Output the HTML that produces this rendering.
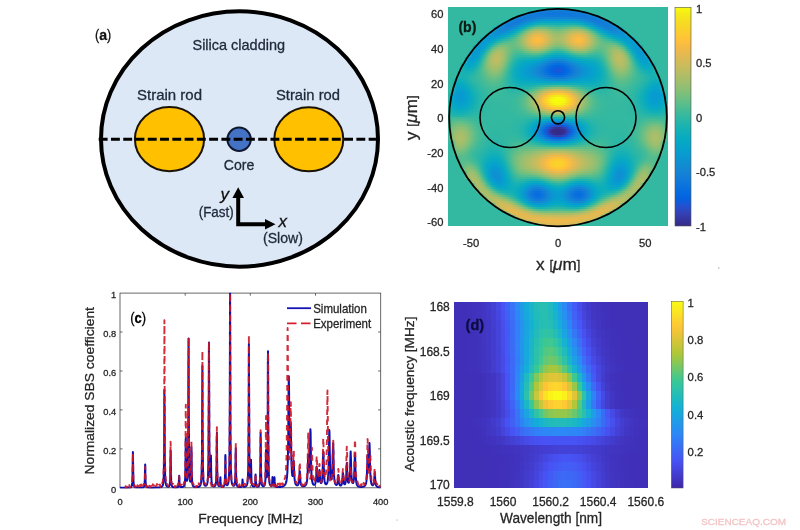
<!DOCTYPE html>
<html><head><meta charset="utf-8"><title>figure</title>
<style>
html,body{margin:0;padding:0;background:#fff}
body{width:800px;height:530px;position:relative;overflow:hidden;font-family:"Liberation Sans",sans-serif}
#hb{position:absolute;left:448.0px;top:7.3px;width:220.0px;height:219.1px;overflow:hidden;background:#33b8a1}
#hb i{position:absolute;left:0;width:100%;display:block}
#hd{position:absolute;left:454.0px;top:301.3px;width:194.0px;height:186.7px;overflow:hidden}
#ov{position:absolute;left:0;top:0;will-change:transform}
#ov text{font-family:"Liberation Sans",sans-serif}
</style></head><body>
<div id="hb">
<i style="top:0.0px;height:2.0px;background:linear-gradient(90deg,#33b8a1 0px,#33b8a1 4px,#33b8a1 8px,#33b8a1 12px,#33b8a1 16px,#33b8a1 20px,#33b8a1 24px,#33b8a1 28px,#33b8a1 32px,#33b8a1 36px,#33b8a1 40px,#33b8a1 44px,#33b8a1 48px,#33b8a1 52px,#33b8a1 56px,#33b8a1 60px,#33b8a1 64px,#33b8a1 68px,#33b8a1 72px,#33b8a1 76px,#33b8a1 80px,#33b8a1 84px,#33b8a1 88px,#33b8a1 92px,#33b8a1 96px,#33b8a1 100px,#33b8a1 104px,#33b8a1 108px,#33b8a1 112px,#33b8a1 116px,#33b8a1 120px,#33b8a1 124px,#33b8a1 128px,#33b8a1 132px,#33b8a1 136px,#33b8a1 140px,#33b8a1 144px,#33b8a1 148px,#33b8a1 152px,#33b8a1 156px,#33b8a1 160px,#33b8a1 164px,#33b8a1 168px,#33b8a1 172px,#33b8a1 176px,#33b8a1 180px,#33b8a1 184px,#33b8a1 188px,#33b8a1 192px,#33b8a1 196px,#33b8a1 200px,#33b8a1 204px,#33b8a1 208px,#33b8a1 212px,#33b8a1 216px,#33b8a1 220px)"></i>
<i style="top:2.0px;height:2.0px;background:linear-gradient(90deg,#33b8a1 0px,#33b8a1 4px,#33b8a1 8px,#33b8a1 12px,#33b8a1 16px,#33b8a1 20px,#33b8a1 24px,#33b8a1 28px,#33b8a1 32px,#33b8a1 36px,#33b8a1 40px,#33b8a1 44px,#33b8a1 48px,#33b8a1 52px,#33b8a1 56px,#33b8a1 60px,#33b8a1 64px,#33b8a1 68px,#33b8a1 72px,#33b8a1 76px,#33b8a1 80px,#33b8a1 84px,#33b8a1 88px,#33b8a1 92px,#1485d4 96px,#1482d5 100px,#1480d6 104px,#1480d6 108px,#1480d6 112px,#1480d6 116px,#1482d5 120px,#1485d4 124px,#33b8a1 128px,#33b8a1 132px,#33b8a1 136px,#33b8a1 140px,#33b8a1 144px,#33b8a1 148px,#33b8a1 152px,#33b8a1 156px,#33b8a1 160px,#33b8a1 164px,#33b8a1 168px,#33b8a1 172px,#33b8a1 176px,#33b8a1 180px,#33b8a1 184px,#33b8a1 188px,#33b8a1 192px,#33b8a1 196px,#33b8a1 200px,#33b8a1 204px,#33b8a1 208px,#33b8a1 212px,#33b8a1 216px,#33b8a1 220px)"></i>
<i style="top:4.0px;height:2.0px;background:linear-gradient(90deg,#33b8a1 0px,#33b8a1 4px,#33b8a1 8px,#33b8a1 12px,#33b8a1 16px,#33b8a1 20px,#33b8a1 24px,#33b8a1 28px,#33b8a1 32px,#33b8a1 36px,#33b8a1 40px,#33b8a1 44px,#33b8a1 48px,#33b8a1 52px,#33b8a1 56px,#33b8a1 60px,#33b8a1 64px,#33b8a1 68px,#33b8a1 72px,#33b8a1 76px,#33b8a1 80px,#1388d3 84px,#1482d5 88px,#137ed7 92px,#127cd8 96px,#117ada 100px,#1079da 104px,#0f78db 108px,#0f78db 112px,#1079da 116px,#117ada 120px,#127cd8 124px,#137ed7 128px,#1482d5 132px,#1388d3 136px,#33b8a1 140px,#33b8a1 144px,#33b8a1 148px,#33b8a1 152px,#33b8a1 156px,#33b8a1 160px,#33b8a1 164px,#33b8a1 168px,#33b8a1 172px,#33b8a1 176px,#33b8a1 180px,#33b8a1 184px,#33b8a1 188px,#33b8a1 192px,#33b8a1 196px,#33b8a1 200px,#33b8a1 204px,#33b8a1 208px,#33b8a1 212px,#33b8a1 216px,#33b8a1 220px)"></i>
<i style="top:6.0px;height:2.0px;background:linear-gradient(90deg,#33b8a1 0px,#33b8a1 4px,#33b8a1 8px,#33b8a1 12px,#33b8a1 16px,#33b8a1 20px,#33b8a1 24px,#33b8a1 28px,#33b8a1 32px,#33b8a1 36px,#33b8a1 40px,#33b8a1 44px,#33b8a1 48px,#33b8a1 52px,#33b8a1 56px,#33b8a1 60px,#33b8a1 64px,#33b8a1 68px,#33b8a1 72px,#33b8a1 76px,#1483d5 80px,#137ed7 84px,#117bd9 88px,#1079da 92px,#0f78db 96px,#0e77db 100px,#0e76dc 104px,#0e76dc 108px,#0e76dc 112px,#0e76dc 116px,#0e77db 120px,#0f78db 124px,#1079da 128px,#117bd9 132px,#137ed7 136px,#1483d5 140px,#33b8a1 144px,#33b8a1 148px,#33b8a1 152px,#33b8a1 156px,#33b8a1 160px,#33b8a1 164px,#33b8a1 168px,#33b8a1 172px,#33b8a1 176px,#33b8a1 180px,#33b8a1 184px,#33b8a1 188px,#33b8a1 192px,#33b8a1 196px,#33b8a1 200px,#33b8a1 204px,#33b8a1 208px,#33b8a1 212px,#33b8a1 216px,#33b8a1 220px)"></i>
<i style="top:8.0px;height:2.0px;background:linear-gradient(90deg,#33b8a1 0px,#33b8a1 4px,#33b8a1 8px,#33b8a1 12px,#33b8a1 16px,#33b8a1 20px,#33b8a1 24px,#33b8a1 28px,#33b8a1 32px,#33b8a1 36px,#33b8a1 40px,#33b8a1 44px,#33b8a1 48px,#33b8a1 52px,#33b8a1 56px,#33b8a1 60px,#33b8a1 64px,#33b8a1 68px,#1487d3 72px,#1480d6 76px,#127cd8 80px,#117ad9 84px,#117ada 88px,#117ada 92px,#117ad9 96px,#117ad9 100px,#117bd9 104px,#117bd9 108px,#117bd9 112px,#117bd9 116px,#117ad9 120px,#117ad9 124px,#117ada 128px,#117ada 132px,#117ad9 136px,#127cd8 140px,#1480d6 144px,#1487d3 148px,#33b8a1 152px,#33b8a1 156px,#33b8a1 160px,#33b8a1 164px,#33b8a1 168px,#33b8a1 172px,#33b8a1 176px,#33b8a1 180px,#33b8a1 184px,#33b8a1 188px,#33b8a1 192px,#33b8a1 196px,#33b8a1 200px,#33b8a1 204px,#33b8a1 208px,#33b8a1 212px,#33b8a1 216px,#33b8a1 220px)"></i>
<i style="top:10.0px;height:2.0px;background:linear-gradient(90deg,#33b8a1 0px,#33b8a1 4px,#33b8a1 8px,#33b8a1 12px,#33b8a1 16px,#33b8a1 20px,#33b8a1 24px,#33b8a1 28px,#33b8a1 32px,#33b8a1 36px,#33b8a1 40px,#33b8a1 44px,#33b8a1 48px,#33b8a1 52px,#33b8a1 56px,#33b8a1 60px,#33b8a1 64px,#1485d4 68px,#137ed7 72px,#117bd9 76px,#117bd9 80px,#127cd8 84px,#137fd7 88px,#1481d5 92px,#1483d5 96px,#1484d4 100px,#1485d4 104px,#1485d4 108px,#1485d4 112px,#1485d4 116px,#1484d4 120px,#1483d5 124px,#1481d5 128px,#137fd7 132px,#127cd8 136px,#117bd9 140px,#117bd9 144px,#137ed7 148px,#1485d4 152px,#33b8a1 156px,#33b8a1 160px,#33b8a1 164px,#33b8a1 168px,#33b8a1 172px,#33b8a1 176px,#33b8a1 180px,#33b8a1 184px,#33b8a1 188px,#33b8a1 192px,#33b8a1 196px,#33b8a1 200px,#33b8a1 204px,#33b8a1 208px,#33b8a1 212px,#33b8a1 216px,#33b8a1 220px)"></i>
<i style="top:12.0px;height:2.0px;background:linear-gradient(90deg,#33b8a1 0px,#33b8a1 4px,#33b8a1 8px,#33b8a1 12px,#33b8a1 16px,#33b8a1 20px,#33b8a1 24px,#33b8a1 28px,#33b8a1 32px,#33b8a1 36px,#33b8a1 40px,#33b8a1 44px,#33b8a1 48px,#33b8a1 52px,#33b8a1 56px,#33b8a1 60px,#1484d4 64px,#137dd8 68px,#117ad9 72px,#127cd8 76px,#1480d6 80px,#1485d4 84px,#128cd2 88px,#0e91d2 92px,#0b95d2 96px,#0a96d1 100px,#0a97d1 104px,#0a97d1 108px,#0a97d1 112px,#0a97d1 116px,#0a96d1 120px,#0b95d2 124px,#0e91d2 128px,#128cd2 132px,#1485d4 136px,#1480d6 140px,#127cd8 144px,#117ad9 148px,#137dd8 152px,#1484d4 156px,#33b8a1 160px,#33b8a1 164px,#33b8a1 168px,#33b8a1 172px,#33b8a1 176px,#33b8a1 180px,#33b8a1 184px,#33b8a1 188px,#33b8a1 192px,#33b8a1 196px,#33b8a1 200px,#33b8a1 204px,#33b8a1 208px,#33b8a1 212px,#33b8a1 216px,#33b8a1 220px)"></i>
<i style="top:14.0px;height:2.0px;background:linear-gradient(90deg,#33b8a1 0px,#33b8a1 4px,#33b8a1 8px,#33b8a1 12px,#33b8a1 16px,#33b8a1 20px,#33b8a1 24px,#33b8a1 28px,#33b8a1 32px,#33b8a1 36px,#33b8a1 40px,#33b8a1 44px,#33b8a1 48px,#33b8a1 52px,#33b8a1 56px,#1486d4 60px,#137dd7 64px,#117ad9 68px,#127cd8 72px,#1483d5 76px,#118cd2 80px,#0998d1 84px,#06a0cd 88px,#06a4c9 92px,#06a6c7 96px,#06a6c6 100px,#06a6c7 104px,#06a6c7 108px,#06a6c7 112px,#06a6c7 116px,#06a6c6 120px,#06a6c7 124px,#06a4c9 128px,#06a0cd 132px,#0998d1 136px,#118cd2 140px,#1483d5 144px,#127cd8 148px,#117ad9 152px,#137dd7 156px,#1486d4 160px,#33b8a1 164px,#33b8a1 168px,#33b8a1 172px,#33b8a1 176px,#33b8a1 180px,#33b8a1 184px,#33b8a1 188px,#33b8a1 192px,#33b8a1 196px,#33b8a1 200px,#33b8a1 204px,#33b8a1 208px,#33b8a1 212px,#33b8a1 216px,#33b8a1 220px)"></i>
<i style="top:16.0px;height:2.0px;background:linear-gradient(90deg,#33b8a1 0px,#33b8a1 4px,#33b8a1 8px,#33b8a1 12px,#33b8a1 16px,#33b8a1 20px,#33b8a1 24px,#33b8a1 28px,#33b8a1 32px,#33b8a1 36px,#33b8a1 40px,#33b8a1 44px,#33b8a1 48px,#33b8a1 52px,#138ad3 56px,#137fd7 60px,#127bd9 64px,#137dd8 68px,#1484d4 72px,#0e91d2 76px,#069fce 80px,#06a8c4 84px,#0eaeba 88px,#16b1b4 92px,#19b2b2 96px,#18b1b2 100px,#16b1b4 104px,#14b0b5 108px,#14b0b5 112px,#16b1b4 116px,#18b1b2 120px,#19b2b2 124px,#16b1b4 128px,#0eaeba 132px,#06a8c4 136px,#069fce 140px,#0e91d2 144px,#1484d4 148px,#137dd8 152px,#127bd9 156px,#137fd7 160px,#138ad3 164px,#33b8a1 168px,#33b8a1 172px,#33b8a1 176px,#33b8a1 180px,#33b8a1 184px,#33b8a1 188px,#33b8a1 192px,#33b8a1 196px,#33b8a1 200px,#33b8a1 204px,#33b8a1 208px,#33b8a1 212px,#33b8a1 216px,#33b8a1 220px)"></i>
<i style="top:18.0px;height:2.0px;background:linear-gradient(90deg,#33b8a1 0px,#33b8a1 4px,#33b8a1 8px,#33b8a1 12px,#33b8a1 16px,#33b8a1 20px,#33b8a1 24px,#33b8a1 28px,#33b8a1 32px,#33b8a1 36px,#33b8a1 40px,#33b8a1 44px,#33b8a1 48px,#0f90d2 52px,#1483d5 56px,#137dd8 60px,#137ed7 64px,#1485d4 68px,#0c94d2 72px,#06a3cb 76px,#0cadbb 80px,#23b4ab 84px,#37b99e 88px,#43bb97 92px,#43bb97 96px,#3dba9b 100px,#36b99f 104px,#31b8a2 108px,#31b8a2 112px,#36b99f 116px,#3dba9b 120px,#43bb97 124px,#43bb97 128px,#37b99e 132px,#23b4ab 136px,#0cadbb 140px,#06a3cb 144px,#0c94d2 148px,#1485d4 152px,#137ed7 156px,#137dd8 160px,#1483d5 164px,#0f90d2 168px,#33b8a1 172px,#33b8a1 176px,#33b8a1 180px,#33b8a1 184px,#33b8a1 188px,#33b8a1 192px,#33b8a1 196px,#33b8a1 200px,#33b8a1 204px,#33b8a1 208px,#33b8a1 212px,#33b8a1 216px,#33b8a1 220px)"></i>
<i style="top:20.0px;height:2.0px;background:linear-gradient(90deg,#33b8a1 0px,#33b8a1 4px,#33b8a1 8px,#33b8a1 12px,#33b8a1 16px,#33b8a1 20px,#33b8a1 24px,#33b8a1 28px,#33b8a1 32px,#33b8a1 36px,#33b8a1 40px,#33b8a1 44px,#0998d1 48px,#1389d3 52px,#1481d6 56px,#1480d6 60px,#1486d4 64px,#0c94d2 68px,#06a4ca 72px,#11afb8 76px,#31b8a2 80px,#56bd8d 84px,#70bf81 88px,#79bf7d 92px,#75bf7f 96px,#68be84 100px,#5abd8b 104px,#52bd8f 108px,#52bd8f 112px,#5abd8b 116px,#68be84 120px,#75bf7f 124px,#79bf7d 128px,#70bf81 132px,#56bd8d 136px,#31b8a2 140px,#11afb8 144px,#06a4ca 148px,#0c94d2 152px,#1486d4 156px,#1480d6 160px,#1481d6 164px,#1389d3 168px,#0998d1 172px,#33b8a1 176px,#33b8a1 180px,#33b8a1 184px,#33b8a1 188px,#33b8a1 192px,#33b8a1 196px,#33b8a1 200px,#33b8a1 204px,#33b8a1 208px,#33b8a1 212px,#33b8a1 216px,#33b8a1 220px)"></i>
<i style="top:22.0px;height:2.0px;background:linear-gradient(90deg,#33b8a1 0px,#33b8a1 4px,#33b8a1 8px,#33b8a1 12px,#33b8a1 16px,#33b8a1 20px,#33b8a1 24px,#33b8a1 28px,#33b8a1 32px,#33b8a1 36px,#33b8a1 40px,#33b8a1 44px,#0e91d2 48px,#1486d3 52px,#1484d4 56px,#1388d3 60px,#0b95d2 64px,#06a3ca 68px,#10afb8 72px,#34b8a0 76px,#64be86 80px,#8bbf75 84px,#a0be6d 88px,#a5be6b 92px,#9cbf6e 96px,#8cbf75 100px,#7bbf7c 104px,#70bf81 108px,#70bf81 112px,#7bbf7c 116px,#8cbf75 120px,#9cbf6e 124px,#a5be6b 128px,#a0be6d 132px,#8bbf75 136px,#64be86 140px,#34b8a0 144px,#10afb8 148px,#06a3ca 152px,#0b95d2 156px,#1388d3 160px,#1484d4 164px,#1486d3 168px,#0e91d2 172px,#33b8a1 176px,#33b8a1 180px,#33b8a1 184px,#33b8a1 188px,#33b8a1 192px,#33b8a1 196px,#33b8a1 200px,#33b8a1 204px,#33b8a1 208px,#33b8a1 212px,#33b8a1 216px,#33b8a1 220px)"></i>
<i style="top:24.0px;height:2.0px;background:linear-gradient(90deg,#33b8a1 0px,#33b8a1 4px,#33b8a1 8px,#33b8a1 12px,#33b8a1 16px,#33b8a1 20px,#33b8a1 24px,#33b8a1 28px,#33b8a1 32px,#33b8a1 36px,#33b8a1 40px,#0899d1 44px,#118dd2 48px,#1389d3 52px,#128cd2 56px,#0a96d1 60px,#06a3cb 64px,#0dadbb 68px,#2db7a4 72px,#5fbe88 76px,#90bf73 80px,#b2bd66 84px,#c3bc5f 88px,#c5bc5e 92px,#babd63 96px,#a7be6a 100px,#94bf72 104px,#87bf77 108px,#87bf77 112px,#94bf72 116px,#a7be6a 120px,#babd63 124px,#c5bc5e 128px,#c3bc5f 132px,#b2bd66 136px,#90bf73 140px,#5fbe88 144px,#2db7a4 148px,#0dadbb 152px,#06a3cb 156px,#0a96d1 160px,#128cd2 164px,#1389d3 168px,#118dd2 172px,#0899d1 176px,#33b8a1 180px,#33b8a1 184px,#33b8a1 188px,#33b8a1 192px,#33b8a1 196px,#33b8a1 200px,#33b8a1 204px,#33b8a1 208px,#33b8a1 212px,#33b8a1 216px,#33b8a1 220px)"></i>
<i style="top:26.0px;height:2.0px;background:linear-gradient(90deg,#33b8a1 0px,#33b8a1 4px,#33b8a1 8px,#33b8a1 12px,#33b8a1 16px,#33b8a1 20px,#33b8a1 24px,#33b8a1 28px,#33b8a1 32px,#33b8a1 36px,#33b8a1 40px,#0b95d2 44px,#108fd2 48px,#0e91d2 52px,#089ad1 56px,#06a4ca 60px,#0bacbd 64px,#25b5aa 68px,#4fbc91 72px,#84bf78 76px,#afbe67 80px,#cdbb5b 84px,#ddba54 88px,#deba54 92px,#d0bb59 96px,#bbbd62 100px,#a5be6b 104px,#98bf70 108px,#98bf70 112px,#a5be6b 116px,#bbbd62 120px,#d0bb59 124px,#deba54 128px,#ddba54 132px,#cdbb5b 136px,#afbe67 140px,#84bf78 144px,#4fbc91 148px,#25b5aa 152px,#0bacbd 156px,#06a4ca 160px,#089ad1 164px,#0e91d2 168px,#108fd2 172px,#0b95d2 176px,#33b8a1 180px,#33b8a1 184px,#33b8a1 188px,#33b8a1 192px,#33b8a1 196px,#33b8a1 200px,#33b8a1 204px,#33b8a1 208px,#33b8a1 212px,#33b8a1 216px,#33b8a1 220px)"></i>
<i style="top:28.0px;height:2.0px;background:linear-gradient(90deg,#33b8a1 0px,#33b8a1 4px,#33b8a1 8px,#33b8a1 12px,#33b8a1 16px,#33b8a1 20px,#33b8a1 24px,#33b8a1 28px,#33b8a1 32px,#33b8a1 36px,#079bd0 40px,#0b95d2 44px,#0a96d1 48px,#079dcf 52px,#06a6c7 56px,#0cadbc 60px,#20b4ad 64px,#3fba99 68px,#6cbf82 72px,#9bbf6f 76px,#c3bc5f 80px,#e1b952 84px,#f0b94a 88px,#efb94b 92px,#e0ba53 96px,#c8bc5d 100px,#b1bd66 104px,#a2be6c 108px,#a2be6c 112px,#b1bd66 116px,#c8bc5d 120px,#e0ba53 124px,#efb94b 128px,#f0b94a 132px,#e1b952 136px,#c3bc5f 140px,#9bbf6f 144px,#6cbf82 148px,#3fba99 152px,#20b4ad 156px,#0cadbc 160px,#06a6c7 164px,#079dcf 168px,#0a96d1 172px,#0b95d2 176px,#079bd0 180px,#33b8a1 184px,#33b8a1 188px,#33b8a1 192px,#33b8a1 196px,#33b8a1 200px,#33b8a1 204px,#33b8a1 208px,#33b8a1 212px,#33b8a1 216px,#33b8a1 220px)"></i>
<i style="top:30.0px;height:2.0px;background:linear-gradient(90deg,#33b8a1 0px,#33b8a1 4px,#33b8a1 8px,#33b8a1 12px,#33b8a1 16px,#33b8a1 20px,#33b8a1 24px,#33b8a1 28px,#33b8a1 32px,#06a0cd 36px,#0999d1 40px,#0899d1 44px,#06a0cd 48px,#06a8c4 52px,#10afb8 56px,#22b4ac 60px,#37b99e 64px,#56bd8d 68px,#7fbf7a 72px,#a9be69 76px,#cfbb5a 80px,#edb94c 84px,#fabc41 88px,#f9bb43 92px,#e9b94e 96px,#d0bb5a 100px,#b7bd64 104px,#a8be6a 108px,#a8be6a 112px,#b7bd64 116px,#d0bb5a 120px,#e9b94e 124px,#f9bb43 128px,#fabc41 132px,#edb94c 136px,#cfbb5a 140px,#a9be69 144px,#7fbf7a 148px,#56bd8d 152px,#37b99e 156px,#22b4ac 160px,#10afb8 164px,#06a8c4 168px,#06a0cd 172px,#0899d1 176px,#0999d1 180px,#06a0cd 184px,#33b8a1 188px,#33b8a1 192px,#33b8a1 196px,#33b8a1 200px,#33b8a1 204px,#33b8a1 208px,#33b8a1 212px,#33b8a1 216px,#33b8a1 220px)"></i>
<i style="top:32.0px;height:2.0px;background:linear-gradient(90deg,#33b8a1 0px,#33b8a1 4px,#33b8a1 8px,#33b8a1 12px,#33b8a1 16px,#33b8a1 20px,#33b8a1 24px,#33b8a1 28px,#33b8a1 32px,#079cd0 36px,#089ad1 40px,#06a0cd 44px,#07a9c2 48px,#16b1b4 52px,#2ab6a7 56px,#3bb99c 60px,#4cbc92 64px,#65be85 68px,#88bf76 72px,#afbe67 76px,#d4bb58 80px,#f1b94a 84px,#fdbe3e 88px,#fbbd40 92px,#ecb94d 96px,#d1bb59 100px,#b8bd63 104px,#a7be6a 108px,#a7be6a 112px,#b8bd63 116px,#d1bb59 120px,#ecb94d 124px,#fbbd40 128px,#fdbe3e 132px,#f1b94a 136px,#d4bb58 140px,#afbe67 144px,#88bf76 148px,#65be85 152px,#4cbc92 156px,#3bb99c 160px,#2ab6a7 164px,#16b1b4 168px,#07a9c2 172px,#06a0cd 176px,#089ad1 180px,#079cd0 184px,#33b8a1 188px,#33b8a1 192px,#33b8a1 196px,#33b8a1 200px,#33b8a1 204px,#33b8a1 208px,#33b8a1 212px,#33b8a1 216px,#33b8a1 220px)"></i>
<i style="top:34.0px;height:2.0px;background:linear-gradient(90deg,#33b8a1 0px,#33b8a1 4px,#33b8a1 8px,#33b8a1 12px,#33b8a1 16px,#33b8a1 20px,#33b8a1 24px,#33b8a1 28px,#069fce 32px,#089ad1 36px,#079ecf 40px,#06a8c4 44px,#18b1b2 48px,#33b8a0 52px,#47bb95 56px,#52bd8f 60px,#5bbe8a 64px,#6dbf82 68px,#8abf76 72px,#aebe67 76px,#d2bb59 80px,#eeb94c 84px,#fabc41 88px,#f8bb44 92px,#e7b94f 96px,#ccbb5b 100px,#b2bd66 104px,#a1be6c 108px,#a1be6c 112px,#b2bd66 116px,#ccbb5b 120px,#e7b94f 124px,#f8bb44 128px,#fabc41 132px,#eeb94c 136px,#d2bb59 140px,#aebe67 144px,#8abf76 148px,#6dbf82 152px,#5bbe8a 156px,#52bd8f 160px,#47bb95 164px,#33b8a0 168px,#18b1b2 172px,#06a8c4 176px,#079ecf 180px,#089ad1 184px,#069fce 188px,#33b8a1 192px,#33b8a1 196px,#33b8a1 200px,#33b8a1 204px,#33b8a1 208px,#33b8a1 212px,#33b8a1 216px,#33b8a1 220px)"></i>
<i style="top:36.0px;height:2.0px;background:linear-gradient(90deg,#33b8a1 0px,#33b8a1 4px,#33b8a1 8px,#33b8a1 12px,#33b8a1 16px,#33b8a1 20px,#33b8a1 24px,#33b8a1 28px,#079bd0 32px,#089ad0 36px,#06a4ca 40px,#12afb7 44px,#36b99f 48px,#57bd8d 52px,#64be86 56px,#65be86 60px,#64be86 64px,#6ebf81 68px,#86bf77 72px,#a7be6a 76px,#c9bc5d 80px,#e3b951 84px,#f0b94a 88px,#edb94c 92px,#dbba55 96px,#c0bc60 100px,#a5be6b 104px,#94bf72 108px,#94bf72 112px,#a5be6b 116px,#c0bc60 120px,#dbba55 124px,#edb94c 128px,#f0b94a 132px,#e3b951 136px,#c9bc5d 140px,#a7be6a 144px,#86bf77 148px,#6ebf81 152px,#64be86 156px,#65be86 160px,#64be86 164px,#57bd8d 168px,#36b99f 172px,#12afb7 176px,#06a4ca 180px,#089ad0 184px,#079bd0 188px,#33b8a1 192px,#33b8a1 196px,#33b8a1 200px,#33b8a1 204px,#33b8a1 208px,#33b8a1 212px,#33b8a1 216px,#33b8a1 220px)"></i>
<i style="top:38.0px;height:2.0px;background:linear-gradient(90deg,#33b8a1 0px,#33b8a1 4px,#33b8a1 8px,#33b8a1 12px,#33b8a1 16px,#33b8a1 20px,#33b8a1 24px,#069fce 28px,#0998d1 32px,#079ecf 36px,#08aac1 40px,#2bb6a6 44px,#5bbd8a 48px,#78bf7d 52px,#7bbf7c 56px,#71bf80 60px,#68be84 64px,#6abe83 68px,#7dbf7b 72px,#9bbf6f 76px,#babd62 80px,#d3bb58 84px,#deba53 88px,#daba55 92px,#c8bc5d 96px,#adbe68 100px,#92bf72 104px,#80bf7a 108px,#80bf7a 112px,#92bf72 116px,#adbe68 120px,#c8bc5d 124px,#daba55 128px,#deba53 132px,#d3bb58 136px,#babd62 140px,#9bbf6f 144px,#7dbf7b 148px,#6abe83 152px,#68be84 156px,#71bf80 160px,#7bbf7c 164px,#78bf7d 168px,#5bbd8a 172px,#2bb6a6 176px,#08aac1 180px,#079ecf 184px,#0998d1 188px,#069fce 192px,#33b8a1 196px,#33b8a1 200px,#33b8a1 204px,#33b8a1 208px,#33b8a1 212px,#33b8a1 216px,#33b8a1 220px)"></i>
<i style="top:40.0px;height:2.0px;background:linear-gradient(90deg,#33b8a1 0px,#33b8a1 4px,#33b8a1 8px,#33b8a1 12px,#33b8a1 16px,#33b8a1 20px,#33b8a1 24px,#079bd0 28px,#0998d1 32px,#06a2cb 36px,#15b0b4 40px,#4bbc93 44px,#7ebf7b 48px,#90bf73 52px,#8abf75 56px,#78bf7d 60px,#67be85 64px,#63be87 68px,#70bf81 72px,#8abf76 76px,#a6be6a 80px,#bcbd62 84px,#c6bc5e 88px,#c1bc60 92px,#afbe67 96px,#93bf72 100px,#77bf7e 104px,#65be86 108px,#65be86 112px,#77bf7e 116px,#93bf72 120px,#afbe67 124px,#c1bc60 128px,#c6bc5e 132px,#bcbd62 136px,#a6be6a 140px,#8abf76 144px,#70bf81 148px,#63be87 152px,#67be85 156px,#78bf7d 160px,#8abf75 164px,#90bf73 168px,#7ebf7b 172px,#4bbc93 176px,#15b0b4 180px,#06a2cb 184px,#0998d1 188px,#079bd0 192px,#33b8a1 196px,#33b8a1 200px,#33b8a1 204px,#33b8a1 208px,#33b8a1 212px,#33b8a1 216px,#33b8a1 220px)"></i>
<i style="top:42.0px;height:2.0px;background:linear-gradient(90deg,#33b8a1 0px,#33b8a1 4px,#33b8a1 8px,#33b8a1 12px,#33b8a1 16px,#33b8a1 20px,#33b8a1 24px,#0998d1 28px,#089ad0 32px,#06a8c4 36px,#2ab6a6 40px,#6dbf82 44px,#98bf70 48px,#a2be6c 52px,#95bf71 56px,#7cbf7c 60px,#63be86 64px,#59bd8c 68px,#5fbe88 72px,#74bf7f 76px,#8dbf74 80px,#a0be6d 84px,#a8be6a 88px,#a2be6c 92px,#8ebf74 96px,#71bf80 100px,#54bd8e 104px,#44bb97 108px,#44bb97 112px,#54bd8e 116px,#71bf80 120px,#8ebf74 124px,#a2be6c 128px,#a8be6a 132px,#a0be6d 136px,#8dbf74 140px,#74bf7f 144px,#5fbe88 148px,#59bd8c 152px,#63be86 156px,#7cbf7c 160px,#95bf71 164px,#a2be6c 168px,#98bf70 172px,#6dbf82 176px,#2ab6a6 180px,#06a8c4 184px,#089ad0 188px,#0998d1 192px,#33b8a1 196px,#33b8a1 200px,#33b8a1 204px,#33b8a1 208px,#33b8a1 212px,#33b8a1 216px,#33b8a1 220px)"></i>
<i style="top:44.0px;height:2.0px;background:linear-gradient(90deg,#33b8a1 0px,#33b8a1 4px,#33b8a1 8px,#33b8a1 12px,#33b8a1 16px,#33b8a1 20px,#079ecf 24px,#0a97d1 28px,#079ecf 32px,#0cadbc 36px,#44bb97 40px,#88bf76 44px,#aabe69 48px,#adbe68 52px,#9bbf6f 56px,#7cbf7b 60px,#5ebe89 64px,#4dbc92 68px,#4dbc91 72px,#5bbd8b 76px,#6fbf81 80px,#7fbf7a 84px,#84bf78 88px,#7cbf7c 92px,#65be86 96px,#49bb94 100px,#32b8a1 104px,#26b5a9 108px,#26b5a9 112px,#32b8a1 116px,#49bb94 120px,#65be86 124px,#7cbf7c 128px,#84bf78 132px,#7fbf7a 136px,#6fbf81 140px,#5bbd8b 144px,#4dbc91 148px,#4dbc92 152px,#5ebe89 156px,#7cbf7b 160px,#9bbf6f 164px,#adbe68 168px,#aabe69 172px,#88bf76 176px,#44bb97 180px,#0cadbc 184px,#079ecf 188px,#0a97d1 192px,#079ecf 196px,#33b8a1 200px,#33b8a1 204px,#33b8a1 208px,#33b8a1 212px,#33b8a1 216px,#33b8a1 220px)"></i>
<i style="top:46.0px;height:2.0px;background:linear-gradient(90deg,#33b8a1 0px,#33b8a1 4px,#33b8a1 8px,#33b8a1 12px,#33b8a1 16px,#33b8a1 20px,#079bd0 24px,#0997d1 28px,#06a3cb 32px,#19b2b1 36px,#5ebe89 40px,#9cbf6e 44px,#b6bd64 48px,#b4bd65 52px,#9ebe6e 56px,#7abf7c 60px,#56bd8d 64px,#41ba98 68px,#3cba9b 72px,#42bb98 76px,#4ebc91 80px,#58bd8c 84px,#5abd8b 88px,#4fbc91 92px,#3bb99c 96px,#25b5a9 100px,#15b1b4 104px,#0eaeba 108px,#0eaeba 112px,#15b1b4 116px,#25b5a9 120px,#3bb99c 124px,#4fbc91 128px,#5abd8b 132px,#58bd8c 136px,#4ebc91 140px,#42bb98 144px,#3cba9b 148px,#41ba98 152px,#56bd8d 156px,#7abf7c 160px,#9ebe6e 164px,#b4bd65 168px,#b6bd64 172px,#9cbf6e 176px,#5ebe89 180px,#19b2b1 184px,#06a3cb 188px,#0997d1 192px,#079bd0 196px,#33b8a1 200px,#33b8a1 204px,#33b8a1 208px,#33b8a1 212px,#33b8a1 216px,#33b8a1 220px)"></i>
<i style="top:48.0px;height:2.0px;background:linear-gradient(90deg,#33b8a1 0px,#33b8a1 4px,#33b8a1 8px,#33b8a1 12px,#33b8a1 16px,#33b8a1 20px,#089ad1 24px,#089ad0 28px,#06a7c5 32px,#29b6a7 36px,#73bf7f 40px,#a9be69 44px,#bebc61 48px,#b8bd63 52px,#9ebe6e 56px,#76bf7e 60px,#4ebc91 64px,#36b99f 68px,#2db7a5 72px,#2db7a4 76px,#32b8a1 80px,#35b89f 84px,#33b8a1 88px,#29b6a7 92px,#1ab2b1 96px,#0cadbc 100px,#06a8c4 104px,#06a5c8 108px,#06a5c8 112px,#06a8c4 116px,#0cadbc 120px,#1ab2b1 124px,#29b6a7 128px,#33b8a1 132px,#35b89f 136px,#32b8a1 140px,#2db7a4 144px,#2db7a5 148px,#36b99f 152px,#4ebc91 156px,#76bf7e 160px,#9ebe6e 164px,#b8bd63 168px,#bebc61 172px,#a9be69 176px,#73bf7f 180px,#29b6a7 184px,#06a7c5 188px,#089ad0 192px,#089ad1 196px,#33b8a1 200px,#33b8a1 204px,#33b8a1 208px,#33b8a1 212px,#33b8a1 216px,#33b8a1 220px)"></i>
<i style="top:50.0px;height:2.0px;background:linear-gradient(90deg,#33b8a1 0px,#33b8a1 4px,#33b8a1 8px,#33b8a1 12px,#33b8a1 16px,#06a2cb 20px,#089ad0 24px,#069ece 28px,#09abbe 32px,#3ab99d 36px,#83bf79 40px,#b0bd66 44px,#c1bc60 48px,#b8bd63 52px,#9bbf6f 56px,#70bf81 60px,#45bb96 64px,#2bb6a6 68px,#20b4ad 72px,#1cb3af 76px,#1cb3af 80px,#1bb2b0 84px,#17b1b3 88px,#0faeb9 92px,#07a9c2 96px,#06a3ca 100px,#079dcf 104px,#0998d1 108px,#0998d1 112px,#079dcf 116px,#06a3ca 120px,#07a9c2 124px,#0faeb9 128px,#17b1b3 132px,#1bb2b0 136px,#1cb3af 140px,#1cb3af 144px,#20b4ad 148px,#2bb6a6 152px,#45bb96 156px,#70bf81 160px,#9bbf6f 164px,#b8bd63 168px,#c1bc60 172px,#b0bd66 176px,#83bf79 180px,#3ab99d 184px,#09abbe 188px,#069ece 192px,#089ad0 196px,#06a2cb 200px,#33b8a1 204px,#33b8a1 208px,#33b8a1 212px,#33b8a1 216px,#33b8a1 220px)"></i>
<i style="top:52.0px;height:2.0px;background:linear-gradient(90deg,#33b8a1 0px,#33b8a1 4px,#33b8a1 8px,#33b8a1 12px,#33b8a1 16px,#06a2cb 20px,#079cd0 24px,#06a3cb 28px,#12afb7 32px,#48bb94 36px,#8cbf75 40px,#b3bd65 44px,#c1bc60 48px,#b6bd64 52px,#97bf70 56px,#69be84 60px,#3cba9b 64px,#22b4ac 68px,#15b0b5 72px,#0faeb9 76px,#0dadbb 80px,#0aacbd 84px,#07aac1 88px,#06a6c7 92px,#069fce 96px,#0b96d1 100px,#118cd2 104px,#1487d3 108px,#1487d3 112px,#118cd2 116px,#0b96d1 120px,#069fce 124px,#06a6c7 128px,#07aac1 132px,#0aacbd 136px,#0dadbb 140px,#0faeb9 144px,#15b0b5 148px,#22b4ac 152px,#3cba9b 156px,#69be84 160px,#97bf70 164px,#b6bd64 168px,#c1bc60 172px,#b3bd65 176px,#8cbf75 180px,#48bb94 184px,#12afb7 188px,#06a3cb 192px,#079cd0 196px,#06a2cb 200px,#33b8a1 204px,#33b8a1 208px,#33b8a1 212px,#33b8a1 216px,#33b8a1 220px)"></i>
<i style="top:54.0px;height:2.0px;background:linear-gradient(90deg,#33b8a1 0px,#33b8a1 4px,#33b8a1 8px,#33b8a1 12px,#33b8a1 16px,#06a3cb 20px,#06a0cd 24px,#06a7c6 28px,#1cb3b0 32px,#54bd8e 36px,#90bf73 40px,#b3bd65 44px,#bebc61 48px,#b1bd66 52px,#90bf73 56px,#60be88 60px,#33b8a0 64px,#1ab2b1 68px,#0dadbb 72px,#08aac0 76px,#06a8c3 80px,#06a6c7 84px,#06a2cb 88px,#079cd0 92px,#0d92d2 96px,#1487d3 100px,#137fd7 104px,#117ad9 108px,#117ad9 112px,#137fd7 116px,#1487d3 120px,#0d92d2 124px,#079cd0 128px,#06a2cb 132px,#06a6c7 136px,#06a8c3 140px,#08aac0 144px,#0dadbb 148px,#1ab2b1 152px,#33b8a0 156px,#60be88 160px,#90bf73 164px,#b1bd66 168px,#bebc61 172px,#b3bd65 176px,#90bf73 180px,#54bd8e 184px,#1cb3b0 188px,#06a7c6 192px,#06a0cd 196px,#06a3cb 200px,#33b8a1 204px,#33b8a1 208px,#33b8a1 212px,#33b8a1 216px,#33b8a1 220px)"></i>
<i style="top:56.0px;height:2.0px;background:linear-gradient(90deg,#33b8a1 0px,#33b8a1 4px,#33b8a1 8px,#33b8a1 12px,#09acbe 16px,#06a5c9 20px,#06a4ca 24px,#09abbf 28px,#26b5a9 32px,#5cbe8a 36px,#91bf73 40px,#afbe67 44px,#b8bd63 48px,#aabe69 52px,#88bf76 56px,#56bd8d 60px,#2bb6a5 64px,#13b0b6 68px,#08abc0 72px,#06a7c6 76px,#06a4ca 80px,#06a0cd 84px,#089ad0 88px,#0e91d2 92px,#1486d4 96px,#127cd8 100px,#0c74dd 104px,#0770df 108px,#0770df 112px,#0c74dd 116px,#127cd8 120px,#1486d4 124px,#0e91d2 128px,#089ad0 132px,#06a0cd 136px,#06a4ca 140px,#06a7c6 144px,#08abc0 148px,#13b0b6 152px,#2bb6a5 156px,#56bd8d 160px,#88bf76 164px,#aabe69 168px,#b8bd63 172px,#afbe67 176px,#91bf73 180px,#5cbe8a 184px,#26b5a9 188px,#09abbf 192px,#06a4ca 196px,#06a5c9 200px,#09acbe 204px,#33b8a1 208px,#33b8a1 212px,#33b8a1 216px,#33b8a1 220px)"></i>
<i style="top:58.0px;height:2.0px;background:linear-gradient(90deg,#33b8a1 0px,#33b8a1 4px,#33b8a1 8px,#33b8a1 12px,#0bacbd 16px,#06a7c5 20px,#06a8c4 24px,#0fafb9 28px,#2fb7a3 32px,#61be88 36px,#8ebf74 40px,#a9be69 44px,#b0bd66 48px,#a2be6c 52px,#7ebf7b 56px,#4cbc92 60px,#25b5aa 64px,#0eaeba 68px,#06a8c4 72px,#06a4ca 76px,#069fce 80px,#089ad0 84px,#0d92d2 88px,#1388d3 92px,#137ed7 96px,#0c74dd 100px,#036be0 104px,#0266e1 108px,#0266e1 112px,#036be0 116px,#0c74dd 120px,#137ed7 124px,#1388d3 128px,#0d92d2 132px,#089ad0 136px,#069fce 140px,#06a4ca 144px,#06a8c4 148px,#0eaeba 152px,#25b5aa 156px,#4cbc92 160px,#7ebf7b 164px,#a2be6c 168px,#b0bd66 172px,#a9be69 176px,#8ebf74 180px,#61be88 184px,#2fb7a3 188px,#0fafb9 192px,#06a8c4 196px,#06a7c5 200px,#0bacbd 204px,#33b8a1 208px,#33b8a1 212px,#33b8a1 216px,#33b8a1 220px)"></i>
<i style="top:60.0px;height:2.0px;background:linear-gradient(90deg,#33b8a1 0px,#33b8a1 4px,#33b8a1 8px,#33b8a1 12px,#0eaeba 16px,#08aac0 20px,#0aacbe 24px,#19b2b2 28px,#37b99e 32px,#62be87 36px,#89bf76 40px,#a1be6c 44px,#a7be6a 48px,#98bf70 52px,#74bf7f 56px,#44bb97 60px,#1fb3ae 64px,#0aacbd 68px,#06a6c7 72px,#06a1cc 76px,#079cd0 80px,#0b95d2 84px,#118cd2 88px,#1482d5 92px,#1079da 96px,#066edf 100px,#0364e1 104px,#0e5cde 108px,#0e5cde 112px,#0364e1 116px,#066edf 120px,#1079da 124px,#1482d5 128px,#118cd2 132px,#0b95d2 136px,#079cd0 140px,#06a1cc 144px,#06a6c7 148px,#0aacbd 152px,#1fb3ae 156px,#44bb97 160px,#74bf7f 164px,#98bf70 168px,#a7be6a 172px,#a1be6c 176px,#89bf76 180px,#62be87 184px,#37b99e 188px,#19b2b2 192px,#0aacbe 196px,#08aac0 200px,#0eaeba 204px,#33b8a1 208px,#33b8a1 212px,#33b8a1 216px,#33b8a1 220px)"></i>
<i style="top:62.0px;height:2.0px;background:linear-gradient(90deg,#33b8a1 0px,#33b8a1 4px,#33b8a1 8px,#33b8a1 12px,#11afb7 16px,#0cadbb 20px,#11afb7 24px,#22b4ac 28px,#3dba9b 32px,#60be88 36px,#82bf79 40px,#98bf70 44px,#9cbf6e 48px,#8cbf75 52px,#69be84 56px,#3cba9b 60px,#1bb2b1 64px,#09abbf 68px,#06a5c8 72px,#069fce 76px,#0899d1 80px,#0d92d2 84px,#1389d3 88px,#1480d6 92px,#0e76dc 96px,#046ce0 100px,#0760e0 104px,#1857d8 108px,#1857d8 112px,#0760e0 116px,#046ce0 120px,#0e76dc 124px,#1480d6 128px,#1389d3 132px,#0d92d2 136px,#0899d1 140px,#069fce 144px,#06a5c8 148px,#09abbf 152px,#1bb2b1 156px,#3cba9b 160px,#69be84 164px,#8cbf75 168px,#9cbf6e 172px,#98bf70 176px,#82bf79 180px,#60be88 184px,#3dba9b 188px,#22b4ac 192px,#11afb7 196px,#0cadbb 200px,#11afb7 204px,#33b8a1 208px,#33b8a1 212px,#33b8a1 216px,#33b8a1 220px)"></i>
<i style="top:64.0px;height:2.0px;background:linear-gradient(90deg,#33b8a1 0px,#33b8a1 4px,#33b8a1 8px,#1eb3ae 12px,#14b0b5 16px,#13b0b6 20px,#1ab2b1 24px,#2ab6a6 28px,#40ba99 32px,#5dbe89 36px,#7abf7c 40px,#8dbf74 44px,#91bf73 48px,#81bf7a 52px,#5ebe89 56px,#35b89f 60px,#18b1b3 64px,#08abc0 68px,#06a5c9 72px,#069fce 76px,#0899d1 80px,#0e92d2 84px,#1389d3 88px,#1480d6 92px,#0e77db 96px,#046de0 100px,#0363e1 104px,#135adb 108px,#135adb 112px,#0363e1 116px,#046de0 120px,#0e77db 124px,#1480d6 128px,#1389d3 132px,#0e92d2 136px,#0899d1 140px,#069fce 144px,#06a5c9 148px,#08abc0 152px,#18b1b3 156px,#35b89f 160px,#5ebe89 164px,#81bf7a 168px,#91bf73 172px,#8dbf74 176px,#7abf7c 180px,#5dbe89 184px,#40ba99 188px,#2ab6a6 192px,#1ab2b1 196px,#13b0b6 200px,#15b0b5 204px,#1eb3ae 208px,#33b8a1 212px,#33b8a1 216px,#33b8a1 220px)"></i>
<i style="top:66.0px;height:2.0px;background:linear-gradient(90deg,#33b8a1 0px,#33b8a1 4px,#33b8a1 8px,#1db3af 12px,#17b1b3 16px,#19b2b2 20px,#22b4ac 24px,#30b7a3 28px,#42bb98 32px,#59bd8c 36px,#71bf80 40px,#82bf79 44px,#85bf78 48px,#75bf7f 52px,#54bd8e 56px,#31b8a2 60px,#16b1b4 64px,#08abc0 68px,#06a5c8 72px,#06a0cd 76px,#089ad0 80px,#0c94d2 84px,#128bd2 88px,#1483d5 92px,#117ad9 96px,#0971de 100px,#0269e1 104px,#0363e1 108px,#0363e1 112px,#0269e1 116px,#0971de 120px,#117ad9 124px,#1483d5 128px,#128bd2 132px,#0c94d2 136px,#089ad0 140px,#06a0cd 144px,#06a5c8 148px,#08abc0 152px,#16b1b4 156px,#31b8a2 160px,#54bd8e 164px,#75bf7f 168px,#85bf78 172px,#82bf79 176px,#71bf80 180px,#59bd8c 184px,#42bb98 188px,#30b7a3 192px,#22b4ac 196px,#19b2b2 200px,#17b1b3 204px,#1db3af 208px,#33b8a1 212px,#33b8a1 216px,#33b8a1 220px)"></i>
<i style="top:68.0px;height:2.0px;background:linear-gradient(90deg,#33b8a1 0px,#33b8a1 4px,#33b8a1 8px,#1ab2b1 12px,#18b1b2 16px,#1db3af 20px,#28b6a8 24px,#34b8a0 28px,#42bb98 32px,#54bd8e 36px,#68be84 40px,#77bf7e 44px,#79bf7d 48px,#6abe84 52px,#4cbc92 56px,#2db7a4 60px,#16b1b4 64px,#09abbf 68px,#06a6c7 72px,#06a2cc 76px,#079dcf 80px,#0998d1 84px,#0e91d2 88px,#1388d3 92px,#1480d6 96px,#1079da 100px,#0a72de 104px,#066edf 108px,#066edf 112px,#0a72de 116px,#1079da 120px,#1480d6 124px,#1388d3 128px,#0e91d2 132px,#0998d1 136px,#079dcf 140px,#06a2cc 144px,#06a6c7 148px,#09abbf 152px,#16b1b4 156px,#2db7a4 160px,#4cbc92 164px,#6abe84 168px,#79bf7d 172px,#77bf7e 176px,#68be84 180px,#54bd8e 184px,#42bb98 188px,#34b8a0 192px,#28b6a8 196px,#1db3af 200px,#18b1b2 204px,#1ab2b1 208px,#33b8a1 212px,#33b8a1 216px,#33b8a1 220px)"></i>
<i style="top:70.0px;height:2.0px;background:linear-gradient(90deg,#33b8a1 0px,#33b8a1 4px,#33b8a1 8px,#16b1b4 12px,#17b1b3 16px,#1fb3ae 20px,#2ab6a6 24px,#35b89f 28px,#40ba99 32px,#4ebc91 36px,#5fbe88 40px,#6cbf82 44px,#6dbf82 48px,#5fbe88 52px,#46bb96 56px,#2bb6a6 60px,#17b1b3 64px,#0aacbd 68px,#06a8c4 72px,#06a4c9 76px,#06a1cc 80px,#079dcf 84px,#0999d1 88px,#0d92d2 92px,#128ad3 96px,#1483d5 100px,#137ed7 104px,#127bd9 108px,#127bd9 112px,#137ed7 116px,#1483d5 120px,#128ad3 124px,#0d92d2 128px,#0999d1 132px,#079dcf 136px,#06a1cc 140px,#06a4c9 144px,#06a8c4 148px,#0aacbd 152px,#17b1b3 156px,#2bb6a6 160px,#46bb96 164px,#5fbe88 168px,#6dbf82 172px,#6cbf82 176px,#5fbe88 180px,#4ebc91 184px,#40ba99 188px,#35b89f 192px,#2ab6a6 196px,#1fb3ae 200px,#17b1b3 204px,#16b1b4 208px,#33b8a1 212px,#33b8a1 216px,#33b8a1 220px)"></i>
<i style="top:72.0px;height:2.0px;background:linear-gradient(90deg,#33b8a1 0px,#33b8a1 4px,#15b0b5 8px,#10afb8 12px,#13b0b6 16px,#1db3af 20px,#2ab6a6 24px,#34b8a0 28px,#3dba9a 32px,#49bc94 36px,#57bd8c 40px,#62be87 44px,#62be87 48px,#56bd8d 52px,#41ba98 56px,#2ab6a6 60px,#18b2b2 64px,#0dadbb 68px,#08aac1 72px,#06a7c5 76px,#06a5c8 80px,#06a3ca 84px,#06a1cd 88px,#079dcf 92px,#0899d1 96px,#0c94d2 100px,#0f8fd2 104px,#118cd2 108px,#118cd2 112px,#0f8fd2 116px,#0c94d2 120px,#0899d1 124px,#079dcf 128px,#06a1cd 132px,#06a3ca 136px,#06a5c8 140px,#06a7c5 144px,#08aac1 148px,#0dadbb 152px,#18b2b2 156px,#2ab6a6 160px,#41ba98 164px,#56bd8d 168px,#62be87 172px,#62be87 176px,#57bd8c 180px,#49bc94 184px,#3dba9a 188px,#34b8a0 192px,#2ab6a6 196px,#1db3af 200px,#13b0b6 204px,#10afb8 208px,#15b1b4 212px,#33b8a1 216px,#33b8a1 220px)"></i>
<i style="top:74.0px;height:2.0px;background:linear-gradient(90deg,#33b8a1 0px,#33b8a1 4px,#0eaeba 8px,#0aacbd 12px,#0eaeba 16px,#1ab2b1 20px,#27b5a8 24px,#31b8a2 28px,#3ab99c 32px,#44bb97 36px,#50bc90 40px,#59bd8c 44px,#59bd8b 48px,#4fbc91 52px,#3dba9b 56px,#2ab6a6 60px,#1bb2b0 64px,#11afb8 68px,#0bacbd 72px,#08abc0 76px,#07aac2 80px,#07a9c3 84px,#06a8c4 88px,#06a7c5 92px,#06a6c7 96px,#06a4c9 100px,#06a3cb 104px,#06a2cb 108px,#06a2cb 112px,#06a3cb 116px,#06a4c9 120px,#06a6c7 124px,#06a7c5 128px,#06a8c4 132px,#07a9c3 136px,#07aac2 140px,#08abc0 144px,#0bacbd 148px,#11afb8 152px,#1bb2b0 156px,#2ab6a6 160px,#3dba9b 164px,#4fbc91 168px,#59bd8b 172px,#59bd8c 176px,#50bc90 180px,#44bb97 184px,#3ab99c 188px,#31b8a2 192px,#27b5a8 196px,#1ab2b1 200px,#0eaeba 204px,#0bacbd 208px,#0eaeba 212px,#33b8a1 216px,#33b8a1 220px)"></i>
<i style="top:76.0px;height:2.0px;background:linear-gradient(90deg,#33b8a1 0px,#33b8a1 4px,#09abbf 8px,#07a9c2 12px,#09acbe 16px,#14b0b5 20px,#22b4ab 24px,#2db7a4 28px,#36b99f 32px,#40ba99 36px,#4abc94 40px,#51bc90 44px,#51bd8f 48px,#49bc94 52px,#3bb99c 56px,#2bb6a6 60px,#1eb3ae 64px,#16b1b4 68px,#11afb8 72px,#0eaeba 76px,#0eaeba 80px,#0eaeba 84px,#10afb8 88px,#12afb7 92px,#13b0b6 96px,#14b0b5 100px,#15b0b5 104px,#15b0b4 108px,#15b0b4 112px,#15b0b5 116px,#14b0b5 120px,#13b0b6 124px,#12afb7 128px,#10afb8 132px,#0eaeba 136px,#0eaeba 140px,#0eaeba 144px,#11afb8 148px,#16b1b4 152px,#1eb3ae 156px,#2bb6a6 160px,#3bb99c 164px,#49bc94 168px,#51bd8f 172px,#51bc90 176px,#4abc94 180px,#40ba99 184px,#36b99f 188px,#2db7a4 192px,#22b4ab 196px,#14b0b5 200px,#09acbe 204px,#07a9c2 208px,#09abbf 212px,#33b8a1 216px,#33b8a1 220px)"></i>
<i style="top:78.0px;height:2.0px;background:linear-gradient(90deg,#33b8a1 0px,#33b8a1 4px,#06a8c4 8px,#06a6c7 12px,#07a9c3 16px,#0eaeb9 20px,#1cb3af 24px,#29b6a7 28px,#33b8a1 32px,#3cba9c 36px,#44bb97 40px,#4abc93 44px,#4bbc93 48px,#44bb97 52px,#39b99d 56px,#2db7a5 60px,#22b4ab 64px,#1bb2b0 68px,#18b1b2 72px,#17b1b3 76px,#19b2b1 80px,#1eb3ae 84px,#25b5a9 88px,#2eb7a4 92px,#37b99e 96px,#40ba99 100px,#47bb95 104px,#4bbc93 108px,#4bbc93 112px,#47bb95 116px,#40ba99 120px,#37b99e 124px,#2eb7a4 128px,#25b5a9 132px,#1eb3ae 136px,#19b2b1 140px,#17b1b3 144px,#18b1b2 148px,#1bb2b0 152px,#22b4ab 156px,#2db7a5 160px,#39b99d 164px,#44bb97 168px,#4bbc93 172px,#4abc93 176px,#44bb97 180px,#3cba9c 184px,#33b8a1 188px,#29b6a7 192px,#1db3af 196px,#0faeb9 200px,#07a9c3 204px,#06a6c7 208px,#06a8c4 212px,#33b8a1 216px,#33b8a1 220px)"></i>
<i style="top:80.0px;height:2.0px;background:linear-gradient(90deg,#33b8a1 0px,#33b8a1 4px,#06a5c8 8px,#06a2cb 12px,#06a6c7 16px,#0aacbe 20px,#17b1b3 24px,#24b5aa 28px,#2fb7a3 32px,#38b99e 36px,#40ba99 40px,#45bb96 44px,#46bb96 48px,#41ba99 52px,#38b99e 56px,#2eb7a4 60px,#26b5a9 64px,#22b4ac 68px,#20b4ad 72px,#22b4ab 76px,#28b6a8 80px,#32b8a1 84px,#41ba98 88px,#55bd8e 92px,#6abe83 96px,#7dbf7b 100px,#8abf76 104px,#90bf73 108px,#90bf73 112px,#8abf76 116px,#7dbf7b 120px,#6abe83 124px,#55bd8e 128px,#41ba98 132px,#32b8a1 136px,#28b6a8 140px,#22b4ab 144px,#20b4ad 148px,#22b4ac 152px,#26b5a9 156px,#2eb7a4 160px,#38b99e 164px,#41ba99 168px,#46bb96 172px,#45bb96 176px,#40ba99 180px,#38b99e 184px,#2fb7a3 188px,#24b5aa 192px,#17b1b3 196px,#0aacbe 200px,#06a6c7 204px,#06a2cb 208px,#06a5c8 212px,#33b8a1 216px,#33b8a1 220px)"></i>
<i style="top:82.0px;height:2.0px;background:linear-gradient(90deg,#33b8a1 0px,#33b8a1 4px,#06a2cb 8px,#069fce 12px,#06a2cb 16px,#07a9c2 20px,#12afb7 24px,#20b4ad 28px,#2cb7a5 32px,#35b89f 36px,#3cba9b 40px,#41ba98 44px,#41ba98 48px,#3eba9a 52px,#37b99e 56px,#30b7a3 60px,#2ab6a6 64px,#28b6a8 68px,#29b6a7 72px,#2eb7a4 76px,#38b99d 80px,#4abc93 84px,#63be87 88px,#80bf7a 92px,#9abf6f 96px,#b0bd66 100px,#c0bc60 104px,#c8bc5d 108px,#c8bc5d 112px,#c0bc60 116px,#b0bd66 120px,#9abf6f 124px,#80bf7a 128px,#63be87 132px,#4abc93 136px,#38b99d 140px,#2eb7a4 144px,#29b6a7 148px,#28b6a8 152px,#2ab6a6 156px,#30b7a3 160px,#37b99e 164px,#3eba9a 168px,#41ba98 172px,#41ba98 176px,#3cba9b 180px,#35b89f 184px,#2cb7a5 188px,#20b4ad 192px,#12afb7 196px,#07a9c2 200px,#06a3cb 204px,#069fce 208px,#06a2cb 212px,#33b8a1 216px,#33b8a1 220px)"></i>
<i style="top:84.0px;height:2.0px;background:linear-gradient(90deg,#33b8a1 0px,#33b8a1 4px,#06a0cd 8px,#079bd0 12px,#069fce 16px,#06a7c5 20px,#0eaeba 24px,#1cb3af 28px,#29b6a7 32px,#33b8a1 36px,#3ab99d 40px,#3eba9a 44px,#3eba9a 48px,#3cba9c 52px,#37b99e 56px,#32b8a2 60px,#2eb7a4 64px,#2db7a4 68px,#31b8a2 72px,#3ab99d 76px,#4abc94 80px,#63be87 84px,#83bf79 88px,#a3be6c 92px,#c1bc60 96px,#daba55 100px,#ecb94c 104px,#f6ba46 108px,#f6ba46 112px,#ecb94c 116px,#daba55 120px,#c1bc60 124px,#a3be6c 128px,#83bf79 132px,#63be87 136px,#4abc94 140px,#3ab99d 144px,#31b8a2 148px,#2db7a4 152px,#2eb7a4 156px,#32b8a2 160px,#37b99e 164px,#3cba9c 168px,#3eba9a 172px,#3eba9a 176px,#3ab99d 180px,#33b8a1 184px,#29b6a7 188px,#1cb3af 192px,#0eaeba 196px,#06a7c5 200px,#06a0cd 204px,#079cd0 208px,#06a0cd 212px,#33b8a1 216px,#33b8a1 220px)"></i>
<i style="top:86.0px;height:2.0px;background:linear-gradient(90deg,#33b8a1 0px,#06a7c6 4px,#079ecf 8px,#0899d1 12px,#079dcf 16px,#06a5c8 20px,#0badbc 24px,#1ab2b1 28px,#27b5a8 32px,#31b8a2 36px,#37b99e 40px,#3bb99c 44px,#3cba9c 48px,#3ab99d 52px,#36b99f 56px,#33b8a1 60px,#31b8a2 64px,#33b8a1 68px,#38b99d 72px,#45bb96 76px,#5abd8b 80px,#79bf7d 84px,#9cbf6f 88px,#bebc61 92px,#dfba53 96px,#fabc41 100px,#fdc931 104px,#fad12b 108px,#fad12b 112px,#fdc931 116px,#fabc41 120px,#dfba53 124px,#bebc61 128px,#9cbf6f 132px,#79bf7d 136px,#5abd8b 140px,#45bb96 144px,#38b99d 148px,#33b8a1 152px,#31b8a2 156px,#33b8a1 160px,#36b99f 164px,#3ab99d 168px,#3cba9c 172px,#3bb99c 176px,#37b99e 180px,#31b8a2 184px,#27b5a8 188px,#1ab2b1 192px,#0badbc 196px,#06a5c8 200px,#079dcf 204px,#0899d1 208px,#069ece 212px,#06a7c5 216px,#33b8a1 220px)"></i>
<i style="top:88.0px;height:2.0px;background:linear-gradient(90deg,#33b8a1 0px,#06a6c6 4px,#079dcf 8px,#0998d1 12px,#079cd0 16px,#06a4c9 20px,#0aacbe 24px,#18b1b2 28px,#26b5a9 32px,#2fb7a3 36px,#36b89f 40px,#39b99d 44px,#39b99d 48px,#38b99d 52px,#36b99f 56px,#34b8a0 60px,#34b8a0 64px,#37b99e 68px,#3fba9a 72px,#4ebc91 76px,#68be85 80px,#89bf76 84px,#aebe67 88px,#d3bb58 92px,#f6ba46 96px,#fccd2e 100px,#f5de21 104px,#f5e919 108px,#f5e919 112px,#f5de21 116px,#fccd2e 120px,#f6ba46 124px,#d3bb58 128px,#aebe67 132px,#89bf76 136px,#68be85 140px,#4ebc91 144px,#3fba9a 148px,#37b99e 152px,#34b8a0 156px,#34b8a0 160px,#36b99f 164px,#38b99d 168px,#39b99d 172px,#39b99d 176px,#36b89f 180px,#2fb7a3 184px,#26b5a9 188px,#18b1b2 192px,#0aacbe 196px,#06a4c9 200px,#079cd0 204px,#0998d1 208px,#079dcf 212px,#06a7c6 216px,#33b8a1 220px)"></i>
<i style="top:90.0px;height:2.0px;background:linear-gradient(90deg,#33b8a1 0px,#06a6c6 4px,#079dcf 8px,#0998d1 12px,#079cd0 16px,#06a4c9 20px,#09acbe 24px,#17b1b3 28px,#25b5aa 32px,#2fb7a3 36px,#34b8a0 40px,#37b99e 44px,#38b99e 48px,#37b99e 52px,#36b99f 56px,#35b89f 60px,#36b99f 64px,#3ab99c 68px,#44bb97 72px,#55bd8d 76px,#71bf80 80px,#94bf72 84px,#b9bd63 88px,#e0ba52 92px,#fec239 96px,#f7d925 100px,#f6f015 104px,#f9fb0e 108px,#f9fb0e 112px,#f6f015 116px,#f7d925 120px,#fec239 124px,#e0ba52 128px,#b9bd63 132px,#94bf72 136px,#71bf80 140px,#55bd8d 144px,#44bb97 148px,#3ab99c 152px,#36b99f 156px,#35b89f 160px,#36b99f 164px,#37b99e 168px,#38b99e 172px,#37b99e 176px,#34b8a0 180px,#2fb7a3 184px,#25b5aa 188px,#17b1b3 192px,#09acbe 196px,#06a4c9 200px,#079cd0 204px,#0998d1 208px,#079ecf 212px,#06a7c6 216px,#33b8a1 220px)"></i>
<i style="top:92.0px;height:2.0px;background:linear-gradient(90deg,#33b8a1 0px,#06a7c6 4px,#069ece 8px,#0899d1 12px,#079dcf 16px,#06a4c9 20px,#09acbe 24px,#17b1b3 28px,#25b5aa 32px,#2eb7a4 36px,#33b8a1 40px,#36b99f 44px,#37b99f 48px,#36b99f 52px,#36b99f 56px,#36b99f 60px,#37b99e 64px,#3dba9b 68px,#47bb95 72px,#5abd8b 76px,#76bf7e 80px,#99bf6f 84px,#bfbc60 88px,#e7b94f 92px,#fec734 96px,#f5e020 100px,#f8f90f 104px,#f9fb0e 108px,#f9fb0e 112px,#f8f90f 116px,#f5e020 120px,#fec734 124px,#e7b94f 128px,#bfbc60 132px,#99bf6f 136px,#76bf7e 140px,#5abd8b 144px,#47bb95 148px,#3dba9b 152px,#37b99e 156px,#36b99f 160px,#36b99f 164px,#36b99f 168px,#37b99f 172px,#36b99f 176px,#33b8a1 180px,#2eb7a4 184px,#25b5aa 188px,#17b1b3 192px,#09acbe 196px,#06a5c9 200px,#079dcf 204px,#089ad0 208px,#069fce 212px,#06a7c5 216px,#33b8a1 220px)"></i>
<i style="top:94.0px;height:2.0px;background:linear-gradient(90deg,#33b8a1 0px,#06a8c4 4px,#06a0cd 8px,#079cd0 12px,#069fce 16px,#06a6c7 20px,#0aacbd 24px,#18b1b2 28px,#25b5aa 32px,#2eb7a4 36px,#33b8a1 40px,#35b8a0 44px,#36b99f 48px,#36b89f 52px,#35b89f 56px,#36b99f 60px,#38b99e 64px,#3eba9a 68px,#48bb94 72px,#5bbd8a 76px,#77bf7d 80px,#9abf6f 84px,#bfbc60 88px,#e6b94f 92px,#fec634 96px,#f5de21 100px,#f8f710 104px,#f9fb0e 108px,#f9fb0e 112px,#f8f710 116px,#f5de21 120px,#fec634 124px,#e6b94f 128px,#bfbc60 132px,#9abf6f 136px,#77bf7d 140px,#5bbd8a 144px,#48bb94 148px,#3eba9a 152px,#38b99e 156px,#36b99f 160px,#35b89f 164px,#36b89f 168px,#36b99f 172px,#35b8a0 176px,#33b8a1 180px,#2eb7a4 184px,#25b5aa 188px,#18b1b2 192px,#0aacbd 196px,#06a6c7 200px,#069fce 204px,#079dcf 208px,#06a1cc 212px,#07a9c3 216px,#33b8a1 220px)"></i>
<i style="top:96.0px;height:2.0px;background:linear-gradient(90deg,#33b8a1 0px,#07a9c2 4px,#06a3cb 8px,#06a0cd 12px,#06a2cc 16px,#06a7c5 20px,#0dadbb 24px,#1ab2b1 28px,#26b5a9 32px,#2eb7a4 36px,#32b8a1 40px,#34b8a0 44px,#35b8a0 48px,#35b89f 52px,#35b89f 56px,#36b99f 60px,#38b99d 64px,#3eba9a 68px,#48bb94 72px,#5abd8b 76px,#75bf7f 80px,#96bf71 84px,#babd62 88px,#dfba53 92px,#fec03b 96px,#f8d627 100px,#f5ea19 104px,#f8f80f 108px,#f8f80f 112px,#f5ea19 116px,#f8d627 120px,#fec03b 124px,#dfba53 128px,#babd62 132px,#96bf71 136px,#75bf7f 140px,#5abd8b 144px,#48bb94 148px,#3eba9a 152px,#38b99d 156px,#36b99f 160px,#35b89f 164px,#35b89f 168px,#35b8a0 172px,#34b8a0 176px,#32b8a1 180px,#2eb7a4 184px,#26b5a9 188px,#1ab2b1 192px,#0dadbb 196px,#06a7c5 200px,#06a2cb 204px,#06a0cd 208px,#06a4ca 212px,#08aac1 216px,#33b8a1 220px)"></i>
<i style="top:98.0px;height:2.0px;background:linear-gradient(90deg,#33b8a1 0px,#09abbf 4px,#06a6c7 8px,#06a3ca 12px,#06a5c8 16px,#07aac2 20px,#0fafb9 24px,#1cb3af 28px,#27b5a8 32px,#2eb7a4 36px,#32b8a1 40px,#34b8a0 44px,#34b8a0 48px,#34b8a0 52px,#35b8a0 56px,#36b99f 60px,#38b99e 64px,#3dba9b 68px,#47bb95 72px,#57bd8d 76px,#6fbf81 80px,#8ebf74 84px,#afbe67 88px,#d2bb59 92px,#f3ba48 96px,#fec932 100px,#f7d925 104px,#f5e21e 108px,#f5e21e 112px,#f7d925 116px,#fec932 120px,#f3ba48 124px,#d2bb59 128px,#afbe67 132px,#8ebf74 136px,#6fbf81 140px,#57bd8d 144px,#47bb95 148px,#3dba9b 152px,#38b99e 156px,#36b99f 160px,#35b8a0 164px,#34b8a0 168px,#34b8a0 172px,#34b8a0 176px,#32b8a1 180px,#2eb7a4 184px,#27b5a8 188px,#1cb3af 192px,#10afb9 196px,#07aac2 200px,#06a5c8 204px,#06a4c9 208px,#06a7c6 212px,#0aacbd 216px,#33b8a1 220px)"></i>
<i style="top:100.0px;height:2.0px;background:linear-gradient(90deg,#33b8a1 0px,#0cadbb 4px,#07a9c3 8px,#06a7c6 12px,#06a8c3 16px,#0aacbe 20px,#14b0b6 24px,#1fb3ad 28px,#29b6a7 32px,#2fb7a3 36px,#32b8a1 40px,#33b8a1 44px,#34b8a0 48px,#34b8a0 52px,#34b8a0 56px,#35b89f 60px,#37b99e 64px,#3cba9b 68px,#44bb97 72px,#52bd8f 76px,#67be85 80px,#82bf79 84px,#a1be6d 88px,#c0bc60 92px,#ddba54 96px,#f7ba45 100px,#fec535 104px,#fccc2f 108px,#fccc2f 112px,#fec535 116px,#f7ba45 120px,#ddba54 124px,#c0bc60 128px,#a1be6d 132px,#82bf79 136px,#67be85 140px,#52bd8f 144px,#44bb97 148px,#3cba9b 152px,#37b99e 156px,#35b89f 160px,#34b8a0 164px,#34b8a0 168px,#34b8a0 172px,#33b8a1 176px,#32b8a1 180px,#2fb7a3 184px,#29b6a7 188px,#1fb3ad 192px,#14b0b5 196px,#0aacbd 200px,#07a9c3 204px,#06a8c4 208px,#07aac1 212px,#0eaeba 216px,#33b8a1 220px)"></i>
<i style="top:102.0px;height:2.0px;background:linear-gradient(90deg,#33b8a1 0px,#11afb7 4px,#0aacbe 8px,#08abc0 12px,#0aacbe 16px,#0faeb9 20px,#19b2b2 24px,#23b4ab 28px,#2bb6a6 32px,#2fb7a3 36px,#32b8a1 40px,#33b8a1 44px,#33b8a0 48px,#34b8a0 52px,#34b8a0 56px,#35b8a0 60px,#37b99e 64px,#3ab99c 68px,#41ba98 72px,#4cbc92 76px,#5dbe8a 80px,#74bf7f 84px,#8ebf74 88px,#a9be69 92px,#c2bc5f 96px,#d8ba56 100px,#e8b94e 104px,#f1b94a 108px,#f1b94a 112px,#e8b94e 116px,#d8ba56 120px,#c2bc5f 124px,#a9be69 128px,#8ebf74 132px,#74bf7f 136px,#5dbe8a 140px,#4cbc92 144px,#41ba98 148px,#3ab99c 152px,#37b99e 156px,#35b8a0 160px,#34b8a0 164px,#34b8a0 168px,#33b8a0 172px,#33b8a1 176px,#32b8a1 180px,#2fb7a3 184px,#2bb6a6 188px,#23b4ab 192px,#19b2b2 196px,#10afb8 200px,#0aacbd 204px,#09acbe 208px,#0cadbb 212px,#14b0b5 216px,#33b8a1 220px)"></i>
<i style="top:104.0px;height:2.0px;background:linear-gradient(90deg,#33b8a1 0px,#17b1b3 4px,#10afb8 8px,#0faeb9 12px,#11afb7 16px,#17b1b3 20px,#1fb3ae 24px,#27b5a9 28px,#2db7a5 32px,#30b7a2 36px,#32b8a1 40px,#33b8a1 44px,#33b8a1 48px,#33b8a0 52px,#34b8a0 56px,#34b8a0 60px,#36b99f 64px,#39b99d 68px,#3dba9a 72px,#45bb96 76px,#51bd8f 80px,#62be87 84px,#77bf7d 88px,#8dbf74 92px,#a2be6c 96px,#b3bd65 100px,#c0bc60 104px,#c7bc5d 108px,#c7bc5d 112px,#c0bc60 116px,#b3bd65 120px,#a2be6c 124px,#8dbf74 128px,#77bf7d 132px,#62be87 136px,#51bd8f 140px,#45bb96 144px,#3dba9a 148px,#39b99d 152px,#36b99f 156px,#34b8a0 160px,#34b8a0 164px,#33b8a0 168px,#33b8a1 172px,#33b8a1 176px,#32b8a1 180px,#30b7a2 184px,#2db7a5 188px,#27b5a8 192px,#1fb3ae 196px,#18b1b3 200px,#13b0b6 204px,#11afb7 208px,#14b0b5 212px,#1bb2b0 216px,#33b8a1 220px)"></i>
<i style="top:106.0px;height:2.0px;background:linear-gradient(90deg,#33b8a1 0px,#1eb3ae 4px,#19b2b2 8px,#18b2b2 12px,#1bb2b0 16px,#20b4ad 20px,#26b5a9 24px,#2bb6a6 28px,#2fb7a3 32px,#31b8a2 36px,#32b8a1 40px,#33b8a1 44px,#33b8a1 48px,#33b8a1 52px,#33b8a0 56px,#34b8a0 60px,#35b8a0 64px,#37b99e 68px,#3ab99d 72px,#3fba9a 76px,#46bb95 80px,#50bc90 84px,#5dbe89 88px,#6cbf82 92px,#7abf7c 96px,#87bf77 100px,#90bf73 104px,#94bf72 108px,#94bf72 112px,#90bf73 116px,#87bf77 120px,#7abf7c 124px,#6cbf82 128px,#5dbe89 132px,#50bc90 136px,#46bb95 140px,#3fba9a 144px,#3ab99d 148px,#37b99e 152px,#35b8a0 156px,#34b8a0 160px,#33b8a0 164px,#33b8a1 168px,#33b8a1 172px,#33b8a1 176px,#32b8a1 180px,#31b8a2 184px,#2fb7a3 188px,#2bb6a6 192px,#26b5a9 196px,#21b4ac 200px,#1db3af 204px,#1cb3af 208px,#1eb3ae 212px,#23b5ab 216px,#33b8a1 220px)"></i>
<i style="top:108.0px;height:2.0px;background:linear-gradient(90deg,#33b8a1 0px,#25b5a9 4px,#23b5ab 8px,#24b5aa 12px,#27b5a8 16px,#2ab6a6 20px,#2db7a4 24px,#2fb7a3 28px,#31b8a2 32px,#32b8a1 36px,#33b8a1 40px,#33b8a1 44px,#33b8a1 48px,#33b8a1 52px,#33b8a1 56px,#33b8a0 60px,#34b8a0 64px,#35b8a0 68px,#36b99f 72px,#39b99d 76px,#3cba9c 80px,#3fba99 84px,#43bb97 88px,#48bb95 92px,#4bbc93 96px,#4fbc91 100px,#51bd8f 104px,#52bd8f 108px,#52bd8f 112px,#51bd8f 116px,#4fbc91 120px,#4bbc93 124px,#48bb95 128px,#43bb97 132px,#3fba99 136px,#3cba9c 140px,#39b99d 144px,#36b99f 148px,#35b8a0 152px,#34b8a0 156px,#33b8a0 160px,#33b8a1 164px,#33b8a1 168px,#33b8a1 172px,#33b8a1 176px,#33b8a1 180px,#32b8a1 184px,#31b8a2 188px,#30b7a3 192px,#2db7a4 196px,#2bb6a6 200px,#2ab6a7 204px,#29b6a7 208px,#2ab6a6 212px,#2cb7a5 216px,#33b8a1 220px)"></i>
<i style="top:110.0px;height:2.0px;background:linear-gradient(90deg,#33b8a1 0px,#3fba9a 4px,#40ba99 8px,#3fba9a 12px,#3bb99c 16px,#38b99e 20px,#36b99f 24px,#35b8a0 28px,#34b8a0 32px,#33b8a1 36px,#33b8a1 40px,#33b8a1 44px,#33b8a1 48px,#33b8a1 52px,#33b8a1 56px,#33b8a1 60px,#33b8a1 64px,#33b8a1 68px,#33b8a1 72px,#33b8a1 76px,#32b8a2 80px,#2fb7a3 84px,#2cb7a5 88px,#28b6a8 92px,#23b4ab 96px,#1eb3ae 100px,#1bb2b0 104px,#19b2b2 108px,#19b2b2 112px,#1bb2b0 116px,#1eb3ae 120px,#23b4ab 124px,#28b6a8 128px,#2cb7a5 132px,#2fb7a3 136px,#32b8a2 140px,#33b8a1 144px,#33b8a1 148px,#33b8a1 152px,#33b8a1 156px,#33b8a1 160px,#33b8a1 164px,#33b8a1 168px,#33b8a1 172px,#33b8a1 176px,#33b8a1 180px,#33b8a1 184px,#34b8a0 188px,#34b8a0 192px,#36b99f 196px,#37b99e 200px,#38b99e 204px,#38b99e 208px,#37b99e 212px,#36b99f 216px,#33b8a1 220px)"></i>
<i style="top:112.0px;height:2.0px;background:linear-gradient(90deg,#33b8a1 0px,#49bb94 4px,#4ebc91 8px,#4fbc91 12px,#4bbc93 16px,#45bb96 20px,#3fba9a 24px,#3ab99d 28px,#36b99f 32px,#34b8a0 36px,#33b8a1 40px,#33b8a1 44px,#33b8a1 48px,#33b8a1 52px,#33b8a1 56px,#33b8a1 60px,#32b8a1 64px,#31b8a2 68px,#30b7a3 72px,#2db7a4 76px,#28b6a7 80px,#21b4ac 84px,#19b2b2 88px,#10afb9 92px,#08abc0 96px,#06a7c6 100px,#06a3ca 104px,#06a1cc 108px,#06a1cc 112px,#06a3ca 116px,#06a7c6 120px,#08abc0 124px,#10afb9 128px,#19b2b2 132px,#21b4ac 136px,#28b6a7 140px,#2db7a4 144px,#30b7a3 148px,#31b8a2 152px,#32b8a1 156px,#33b8a1 160px,#33b8a1 164px,#33b8a1 168px,#33b8a1 172px,#33b8a1 176px,#33b8a1 180px,#34b8a0 184px,#36b99f 188px,#39b99d 192px,#3eba9a 196px,#44bb97 200px,#48bb95 204px,#49bc94 208px,#46bb95 212px,#41ba98 216px,#33b8a1 220px)"></i>
<i style="top:114.0px;height:2.0px;background:linear-gradient(90deg,#33b8a1 0px,#53bd8e 4px,#5ebe89 8px,#61be88 12px,#5cbe8a 16px,#52bd8f 20px,#48bb95 24px,#3fba9a 28px,#38b99d 32px,#35b8a0 36px,#33b8a1 40px,#33b8a1 44px,#32b8a1 48px,#32b8a1 52px,#32b8a1 56px,#32b8a1 60px,#31b8a2 64px,#30b7a3 68px,#2db7a4 72px,#28b6a8 76px,#20b4ad 80px,#16b1b4 84px,#0bacbd 88px,#06a6c7 92px,#079ecf 96px,#0d93d2 100px,#1389d3 104px,#1485d4 108px,#1485d4 112px,#1389d3 116px,#0d93d2 120px,#079ecf 124px,#06a6c7 128px,#0bacbd 132px,#16b1b4 136px,#20b4ad 140px,#28b6a8 144px,#2db7a4 148px,#30b7a3 152px,#31b8a2 156px,#32b8a1 160px,#32b8a1 164px,#32b8a1 168px,#32b8a1 172px,#33b8a1 176px,#33b8a1 180px,#35b8a0 184px,#38b99d 188px,#3fba9a 192px,#47bb95 196px,#51bd8f 200px,#59bd8b 204px,#5bbd8a 208px,#56bd8d 212px,#4cbc92 216px,#33b8a1 220px)"></i>
<i style="top:116.0px;height:2.0px;background:linear-gradient(90deg,#33b8a1 0px,#5ebe89 4px,#6dbf82 8px,#72bf80 12px,#6dbf82 16px,#60be88 20px,#51bc90 24px,#44bb97 28px,#3bb99c 32px,#36b99f 36px,#33b8a0 40px,#33b8a1 44px,#32b8a1 48px,#32b8a1 52px,#32b8a1 56px,#32b8a1 60px,#31b8a2 64px,#2fb7a3 68px,#2ab6a6 72px,#23b5ab 76px,#19b2b2 80px,#0dadbb 84px,#06a7c6 88px,#079cd0 92px,#128bd2 96px,#137dd8 100px,#0b73dd 104px,#056de0 108px,#056de0 112px,#0b73dd 116px,#137dd8 120px,#128bd2 124px,#079cd0 128px,#06a7c6 132px,#0dadbb 136px,#19b2b2 140px,#23b5ab 144px,#2ab6a6 148px,#2fb7a3 152px,#31b8a2 156px,#32b8a1 160px,#32b8a1 164px,#32b8a1 168px,#32b8a1 172px,#33b8a1 176px,#33b8a0 180px,#36b99f 184px,#3bb99c 188px,#44bb97 192px,#51bc90 196px,#5fbe88 200px,#6abe83 204px,#6dbf82 208px,#66be85 212px,#58bd8c 216px,#33b8a1 220px)"></i>
<i style="top:118.0px;height:2.0px;background:linear-gradient(90deg,#33b8a1 0px,#68be84 4px,#7bbf7c 8px,#81bf79 12px,#7cbf7b 16px,#6dbf82 20px,#5abd8b 24px,#49bb94 28px,#3dba9b 32px,#37b99f 36px,#34b8a0 40px,#32b8a1 44px,#32b8a1 48px,#32b8a1 52px,#32b8a1 56px,#31b8a2 60px,#30b7a2 64px,#2db7a4 68px,#28b6a7 72px,#20b4ad 76px,#14b0b6 80px,#08aac1 84px,#06a1cd 88px,#108fd2 92px,#127cd8 96px,#046ce0 100px,#1459db 104px,#2c4ac6 108px,#2c4ac6 112px,#1459db 116px,#046ce0 120px,#127cd8 124px,#108fd2 128px,#06a1cd 132px,#08aac1 136px,#14b0b6 140px,#20b4ad 144px,#28b6a7 148px,#2db7a4 152px,#30b7a2 156px,#31b8a2 160px,#32b8a1 164px,#32b8a1 168px,#32b8a1 172px,#32b8a1 176px,#34b8a0 180px,#37b99f 184px,#3dba9b 188px,#49bb94 192px,#5abd8b 196px,#6cbf82 200px,#7abf7c 204px,#7ebf7b 208px,#76bf7e 212px,#63be87 216px,#33b8a1 220px)"></i>
<i style="top:120.0px;height:2.0px;background:linear-gradient(90deg,#33b8a1 0px,#72bf80 4px,#87bf77 8px,#8fbf74 12px,#89bf76 16px,#79bf7d 20px,#62be87 24px,#4dbc92 28px,#3fba9a 32px,#37b99e 36px,#34b8a0 40px,#32b8a1 44px,#31b8a2 48px,#31b8a2 52px,#32b8a2 56px,#31b8a2 60px,#30b7a3 64px,#2db7a5 68px,#27b5a8 72px,#1db3af 76px,#10afb8 80px,#06a8c5 84px,#079bd0 88px,#1485d4 92px,#0a72de 96px,#1558da 100px,#353dac 104px,#363092 108px,#363092 112px,#353dac 116px,#1558da 120px,#0a72de 124px,#1485d4 128px,#079bd0 132px,#06a8c5 136px,#10afb8 140px,#1db3af 144px,#27b5a8 148px,#2db7a5 152px,#30b7a3 156px,#31b8a2 160px,#32b8a2 164px,#31b8a2 168px,#31b8a2 172px,#32b8a1 176px,#34b8a0 180px,#37b99e 184px,#3fba9a 188px,#4dbc92 192px,#62be87 196px,#78bf7d 200px,#88bf77 204px,#8cbf75 208px,#83bf79 212px,#6ebf82 216px,#33b8a1 220px)"></i>
<i style="top:122.0px;height:2.0px;background:linear-gradient(90deg,#33b8a1 0px,#7abf7c 4px,#91bf73 8px,#9abf6f 12px,#94bf71 16px,#82bf79 20px,#69be84 24px,#51bc90 28px,#41ba99 32px,#38b99e 36px,#33b8a0 40px,#32b8a2 44px,#31b8a2 48px,#31b8a2 52px,#31b8a2 56px,#31b8a2 60px,#30b7a3 64px,#2db7a5 68px,#26b5a9 72px,#1cb3b0 76px,#0eaeba 80px,#06a6c7 84px,#0997d1 88px,#1480d6 92px,#036be0 96px,#2d48c3 100px,#362f90 104px,#352a87 108px,#352a87 112px,#362f90 116px,#2d48c3 120px,#036be0 124px,#1480d6 128px,#0997d1 132px,#06a6c7 136px,#0eaeba 140px,#1cb3b0 144px,#26b5a9 148px,#2db7a5 152px,#30b7a3 156px,#31b8a2 160px,#31b8a2 164px,#31b8a2 168px,#31b8a2 172px,#32b8a2 176px,#33b8a0 180px,#38b99e 184px,#41ba99 188px,#51bc90 192px,#69be84 196px,#81bf79 200px,#93bf72 204px,#98bf70 208px,#8ebf74 212px,#76bf7e 216px,#33b8a1 220px)"></i>
<i style="top:124.0px;height:2.0px;background:linear-gradient(90deg,#33b8a1 0px,#80bf7a 4px,#99bf6f 8px,#a3be6b 12px,#9dbe6e 16px,#89bf76 20px,#6ebf82 24px,#54bd8e 28px,#42bb98 32px,#38b99e 36px,#33b8a1 40px,#31b8a2 44px,#30b7a2 48px,#30b8a2 52px,#31b8a2 56px,#31b8a2 60px,#30b7a2 64px,#2db7a4 68px,#27b5a8 72px,#1cb3af 76px,#0eaeba 80px,#06a6c7 84px,#0a97d1 88px,#1480d6 92px,#036ae1 96px,#3046be 100px,#352c8b 104px,#352a87 108px,#352a87 112px,#352c8b 116px,#3046be 120px,#036ae1 124px,#1480d6 128px,#0a97d1 132px,#06a6c7 136px,#0eaeba 140px,#1cb3af 144px,#27b5a8 148px,#2db7a4 152px,#30b7a2 156px,#31b8a2 160px,#31b8a2 164px,#30b8a2 168px,#30b7a2 172px,#31b8a2 176px,#33b8a1 180px,#38b99e 184px,#42bb98 188px,#54bd8e 192px,#6ebf82 196px,#89bf76 200px,#9cbf6e 204px,#a2be6c 208px,#97bf70 212px,#7ebf7b 216px,#33b8a1 220px)"></i>
<i style="top:126.0px;height:2.0px;background:linear-gradient(90deg,#33b8a1 0px,#85bf78 4px,#9fbe6d 8px,#aabe69 12px,#a3be6c 16px,#8ebf74 20px,#71bf80 24px,#56bd8d 28px,#42bb98 32px,#38b99e 36px,#32b8a1 40px,#30b7a2 44px,#2fb7a3 48px,#30b7a3 52px,#31b8a2 56px,#32b8a2 60px,#31b8a2 64px,#2fb7a3 68px,#29b6a7 72px,#1fb3ae 76px,#11afb8 80px,#06a8c5 84px,#089ad0 88px,#1483d5 92px,#066fdf 96px,#244fcf 100px,#36359c 104px,#352a87 108px,#352a87 112px,#36359c 116px,#244fcf 120px,#066fdf 124px,#1483d5 128px,#089ad0 132px,#06a8c5 136px,#11afb8 140px,#1fb3ae 144px,#29b6a7 148px,#2fb7a3 152px,#31b8a2 156px,#32b8a2 160px,#31b8a2 164px,#30b7a3 168px,#2fb7a3 172px,#30b7a2 176px,#32b8a1 180px,#38b99e 184px,#42bb98 188px,#56bd8d 192px,#71bf80 196px,#8ebf74 200px,#a2be6c 204px,#a9be69 208px,#9dbe6e 212px,#83bf79 216px,#33b8a1 220px)"></i>
<i style="top:128.0px;height:2.0px;background:linear-gradient(90deg,#33b8a1 0px,#88bf77 4px,#a3be6c 8px,#aebe67 12px,#a6be6a 16px,#90bf73 20px,#73bf7f 24px,#56bd8d 28px,#42bb98 32px,#37b99e 36px,#32b8a2 40px,#2fb7a3 44px,#2eb7a4 48px,#2fb7a3 52px,#31b8a2 56px,#32b8a1 60px,#33b8a1 64px,#31b8a2 68px,#2cb7a5 72px,#23b4ab 76px,#15b1b4 80px,#08aac1 84px,#069fce 88px,#128bd2 92px,#0f78db 96px,#0265e1 100px,#2d49c5 104px,#353cab 108px,#353cab 112px,#2d49c5 116px,#0265e1 120px,#0f78db 124px,#128bd2 128px,#069fce 132px,#08aac1 136px,#15b1b4 140px,#23b4ab 144px,#2cb7a5 148px,#31b8a2 152px,#33b8a1 156px,#32b8a1 160px,#31b8a2 164px,#2fb7a3 168px,#2eb7a4 172px,#2fb7a3 176px,#32b8a2 180px,#37b99e 184px,#42bb98 188px,#56bd8d 192px,#73bf80 196px,#90bf73 200px,#a6be6b 204px,#adbe68 208px,#a2be6c 212px,#86bf77 216px,#33b8a1 220px)"></i>
<i style="top:130.0px;height:2.0px;background:linear-gradient(90deg,#33b8a1 0px,#88bf76 4px,#a4be6b 8px,#afbe67 12px,#a7be6a 16px,#90bf73 20px,#72bf80 24px,#55bd8d 28px,#42bb98 32px,#36b99f 36px,#30b7a2 40px,#2eb7a4 44px,#2db7a4 48px,#2eb7a4 52px,#30b7a2 56px,#33b8a1 60px,#35b8a0 64px,#34b8a0 68px,#30b7a2 72px,#29b6a7 76px,#1cb3af 80px,#0daeba 84px,#06a6c7 88px,#0998d1 92px,#1485d4 96px,#0e76dc 100px,#0269e1 104px,#0860df 108px,#0860df 112px,#0269e1 116px,#0e76dc 120px,#1485d4 124px,#0998d1 128px,#06a6c7 132px,#0daeba 136px,#1cb3af 140px,#29b6a7 144px,#30b7a2 148px,#34b8a0 152px,#35b8a0 156px,#33b8a1 160px,#30b7a2 164px,#2eb7a4 168px,#2db7a4 172px,#2eb7a4 176px,#30b7a2 180px,#36b99f 184px,#42bb98 188px,#55bd8d 192px,#72bf80 196px,#90bf73 200px,#a6be6a 204px,#aebe67 208px,#a3be6c 212px,#87bf77 216px,#33b8a1 220px)"></i>
<i style="top:132.0px;height:2.0px;background:linear-gradient(90deg,#33b8a1 0px,#87bf77 4px,#a3be6c 8px,#aebe67 12px,#a5be6b 16px,#8dbf74 20px,#6fbf81 24px,#53bd8f 28px,#40ba99 32px,#35b89f 36px,#2fb7a3 40px,#2cb7a5 44px,#2bb6a6 48px,#2db7a5 52px,#30b7a2 56px,#34b8a0 60px,#37b99e 64px,#38b99e 68px,#36b99f 72px,#30b7a2 76px,#26b5a9 80px,#18b1b2 84px,#0aacbe 88px,#06a4c9 92px,#0998d1 96px,#1389d3 100px,#137fd7 104px,#1079da 108px,#1079da 112px,#137fd7 116px,#1389d3 120px,#0998d1 124px,#06a4c9 128px,#0aacbe 132px,#18b1b2 136px,#26b5a9 140px,#30b7a2 144px,#36b99f 148px,#38b99e 152px,#37b99e 156px,#34b8a0 160px,#30b7a2 164px,#2db7a5 168px,#2bb6a6 172px,#2cb7a5 176px,#2fb7a3 180px,#35b89f 184px,#40ba99 188px,#53bd8f 192px,#6ebf81 196px,#8dbf75 200px,#a4be6b 204px,#adbe68 208px,#a2be6c 212px,#86bf77 216px,#33b8a1 220px)"></i>
<i style="top:134.0px;height:2.0px;background:linear-gradient(90deg,#33b8a1 0px,#33b8a1 4px,#9fbe6d 8px,#a9be69 12px,#a0be6d 16px,#87bf77 20px,#69be84 24px,#4fbc91 28px,#3eba9a 32px,#33b8a1 36px,#2db7a4 40px,#2ab6a7 44px,#29b6a7 48px,#2bb6a5 52px,#30b7a3 56px,#35b89f 60px,#3ab99c 64px,#3dba9b 68px,#3dba9b 72px,#3ab99d 76px,#32b8a1 80px,#27b5a8 84px,#19b2b2 88px,#0cadbc 92px,#06a7c6 96px,#06a0cd 100px,#0999d1 104px,#0c94d2 108px,#0c94d2 112px,#0999d1 116px,#06a0cd 120px,#06a7c6 124px,#0cadbc 128px,#19b2b2 132px,#27b5a8 136px,#32b8a1 140px,#3ab99d 144px,#3dba9b 148px,#3dba9b 152px,#3ab99c 156px,#35b89f 160px,#30b7a3 164px,#2bb6a5 168px,#29b6a7 172px,#2ab6a7 176px,#2db7a4 180px,#33b8a1 184px,#3eba9a 188px,#4fbc91 192px,#69be84 196px,#87bf77 200px,#9fbe6d 204px,#a9be69 208px,#9ebe6d 212px,#33b8a1 216px,#33b8a1 220px)"></i>
<i style="top:136.0px;height:2.0px;background:linear-gradient(90deg,#33b8a1 0px,#33b8a1 4px,#99bf70 8px,#a3be6c 12px,#98bf70 16px,#7fbf7a 20px,#62be87 24px,#4abc93 28px,#3bb99c 32px,#31b8a2 36px,#2bb6a6 40px,#27b5a8 44px,#27b5a9 48px,#2ab6a7 52px,#2fb7a3 56px,#37b99e 60px,#3eba9a 64px,#43bb97 68px,#46bb96 72px,#45bb96 76px,#41ba99 80px,#39b99d 84px,#2eb7a4 88px,#22b4ab 92px,#17b1b3 96px,#0eaeba 100px,#09abbf 104px,#07aac2 108px,#07aac2 112px,#09abbf 116px,#0eaeba 120px,#17b1b3 124px,#22b4ab 128px,#2eb7a4 132px,#39b99d 136px,#41ba99 140px,#45bb96 144px,#46bb96 148px,#43bb97 152px,#3eba9a 156px,#37b99e 160px,#2fb7a3 164px,#2ab6a7 168px,#27b5a9 172px,#27b5a8 176px,#2bb6a6 180px,#31b8a2 184px,#3bb99c 188px,#4abc93 192px,#62be87 196px,#7fbf7a 200px,#98bf70 204px,#a2be6c 208px,#98bf70 212px,#33b8a1 216px,#33b8a1 220px)"></i>
<i style="top:138.0px;height:2.0px;background:linear-gradient(90deg,#33b8a1 0px,#33b8a1 4px,#90bf73 8px,#99bf70 12px,#8ebf74 16px,#75bf7f 20px,#59bd8b 24px,#45bb96 28px,#38b99e 32px,#2eb7a4 36px,#28b6a8 40px,#24b5aa 44px,#23b5ab 48px,#27b6a8 52px,#2fb7a3 56px,#38b99e 60px,#42bb98 64px,#4abc93 68px,#4fbc91 72px,#52bd8f 76px,#51bd90 80px,#4ebc91 84px,#48bb95 88px,#41ba99 92px,#39b99d 96px,#32b8a1 100px,#2db7a4 104px,#2bb6a6 108px,#2bb6a6 112px,#2db7a4 116px,#32b8a1 120px,#39b99d 124px,#41ba99 128px,#48bb95 132px,#4ebc91 136px,#51bd90 140px,#52bd8f 144px,#4fbc91 148px,#4abc93 152px,#42bb98 156px,#38b99e 160px,#2fb7a3 164px,#27b6a8 168px,#23b5ab 172px,#24b5aa 176px,#28b6a8 180px,#2eb7a4 184px,#38b99e 188px,#45bb96 192px,#59bd8b 196px,#75bf7f 200px,#8ebf74 204px,#99bf70 208px,#8fbf73 212px,#33b8a1 216px,#33b8a1 220px)"></i>
<i style="top:140.0px;height:2.0px;background:linear-gradient(90deg,#33b8a1 0px,#33b8a1 4px,#85bf78 8px,#8ebf74 12px,#82bf79 16px,#6abe84 20px,#50bc90 24px,#3fba99 28px,#34b8a0 32px,#2bb6a5 36px,#24b5aa 40px,#20b4ad 44px,#20b4ad 48px,#24b5aa 52px,#2eb7a4 56px,#3ab99d 60px,#47bb95 64px,#52bd8f 68px,#5abd8b 72px,#5fbe88 76px,#62be87 80px,#64be86 84px,#64be86 88px,#63be87 92px,#62be87 96px,#62be87 100px,#62be87 104px,#62be87 108px,#62be87 112px,#62be87 116px,#62be87 120px,#62be87 124px,#63be87 128px,#64be86 132px,#64be86 136px,#62be87 140px,#5fbe88 144px,#5abd8b 148px,#52bd8f 152px,#47bb95 156px,#3ab99d 160px,#2eb7a4 164px,#24b5aa 168px,#20b4ad 172px,#20b4ad 176px,#24b5aa 180px,#2bb6a5 184px,#34b8a0 188px,#3fba99 192px,#50bc90 196px,#69be84 200px,#82bf79 204px,#8dbf74 208px,#85bf78 212px,#33b8a1 216px,#33b8a1 220px)"></i>
<i style="top:142.0px;height:2.0px;background:linear-gradient(90deg,#33b8a1 0px,#33b8a1 4px,#78bf7d 8px,#81bf7a 12px,#76bf7e 16px,#5ebe89 20px,#48bb94 24px,#3ab99d 28px,#30b7a2 32px,#28b6a8 36px,#21b4ac 40px,#1cb3b0 44px,#1cb3b0 48px,#21b4ac 52px,#2cb7a5 56px,#3bb99c 60px,#4bbc93 64px,#5abd8b 68px,#65be86 72px,#6dbf82 76px,#73bf7f 80px,#79bf7d 84px,#7ebf7b 88px,#83bf79 92px,#88bf76 96px,#8ebf74 100px,#92bf72 104px,#95bf71 108px,#95bf71 112px,#92bf72 116px,#8ebf74 120px,#88bf76 124px,#83bf79 128px,#7ebf7b 132px,#79bf7d 136px,#73bf7f 140px,#6dbf82 144px,#65be86 148px,#5abd8b 152px,#4bbc93 156px,#3bb99c 160px,#2cb7a5 164px,#21b4ac 168px,#1cb3b0 172px,#1cb3b0 176px,#21b4ac 180px,#28b6a8 184px,#30b7a2 188px,#3ab99d 192px,#48bb94 196px,#5ebe89 200px,#76bf7e 204px,#80bf7a 208px,#78bf7d 212px,#33b8a1 216px,#33b8a1 220px)"></i>
<i style="top:144.0px;height:2.0px;background:linear-gradient(90deg,#33b8a1 0px,#33b8a1 4px,#6bbe83 8px,#73bf7f 12px,#6abe83 16px,#55bd8e 20px,#41ba98 24px,#35b89f 28px,#2db7a5 32px,#24b5aa 36px,#1cb3af 40px,#17b1b3 44px,#17b1b3 48px,#1db3af 52px,#2ab6a6 56px,#3cba9b 60px,#50bc90 64px,#62be87 68px,#70bf81 72px,#7abf7c 76px,#83bf79 80px,#8bbf75 84px,#93bf72 88px,#9cbf6e 92px,#a6be6a 96px,#afbe67 100px,#b7bd64 104px,#bbbd62 108px,#bbbd62 112px,#b7bd64 116px,#afbe67 120px,#a6be6a 124px,#9cbf6e 128px,#93bf72 132px,#8bbf75 136px,#83bf79 140px,#7abf7c 144px,#70bf81 148px,#62be87 152px,#50bc90 156px,#3cba9b 160px,#2ab6a6 164px,#1db3af 168px,#17b1b3 172px,#17b1b3 176px,#1cb3af 180px,#24b5aa 184px,#2db7a5 188px,#35b89f 192px,#41ba98 196px,#54bd8e 200px,#6abe84 204px,#73bf7f 208px,#6bbe83 212px,#33b8a1 216px,#33b8a1 220px)"></i>
<i style="top:146.0px;height:2.0px;background:linear-gradient(90deg,#33b8a1 0px,#33b8a1 4px,#5ebe89 8px,#66be85 12px,#60be88 16px,#4ebc91 20px,#3dba9b 24px,#32b8a1 28px,#2ab6a6 32px,#21b4ac 36px,#18b1b2 40px,#12b0b7 44px,#12afb7 48px,#19b2b2 52px,#27b5a8 56px,#3cba9b 60px,#54bd8e 64px,#69be84 68px,#7abf7d 72px,#86bf77 76px,#90bf73 80px,#9abf6f 84px,#a5be6b 88px,#b1bd66 92px,#bebc61 96px,#cabb5c 100px,#d4bb58 104px,#d9ba55 108px,#d9ba55 112px,#d4bb58 116px,#cabb5c 120px,#bebc61 124px,#b1bd66 128px,#a5be6b 132px,#9abf6f 136px,#90bf73 140px,#86bf77 144px,#7abf7d 148px,#69be84 152px,#54bd8e 156px,#3cba9b 160px,#27b5a8 164px,#19b2b2 168px,#12afb7 172px,#12b0b7 176px,#18b1b2 180px,#21b4ac 184px,#2ab6a6 188px,#32b8a1 192px,#3dba9b 196px,#4ebc91 200px,#5fbe88 204px,#66be85 208px,#5dbe89 212px,#33b8a1 216px,#33b8a1 220px)"></i>
<i style="top:148.0px;height:2.0px;background:linear-gradient(90deg,#33b8a1 0px,#33b8a1 4px,#33b8a1 8px,#5bbe8a 12px,#58bd8c 16px,#4bbc93 20px,#3cba9c 24px,#30b8a2 28px,#27b5a8 32px,#1db3af 36px,#13b0b6 40px,#0daebb 44px,#0dadbb 48px,#14b0b6 52px,#24b5aa 56px,#3cba9c 60px,#57bd8c 64px,#70bf81 68px,#82bf79 72px,#90bf73 76px,#9cbf6f 80px,#a7be6a 84px,#b4bd65 88px,#c2bc5f 92px,#d1bb59 96px,#dfba53 100px,#ebb94d 104px,#f2b949 108px,#f2b949 112px,#ebb94d 116px,#dfba53 120px,#d1bb59 124px,#c2bc5f 128px,#b4bd65 132px,#a7be6a 136px,#9cbf6f 140px,#90bf73 144px,#82bf79 148px,#70bf81 152px,#57bd8c 156px,#3cba9c 160px,#24b5aa 164px,#14b0b6 168px,#0dadbb 172px,#0daebb 176px,#13b0b6 180px,#1db3af 184px,#27b5a8 188px,#30b8a2 192px,#3cba9c 196px,#4bbc93 200px,#58bd8c 204px,#5bbd8a 208px,#33b8a1 212px,#33b8a1 216px,#33b8a1 220px)"></i>
<i style="top:150.0px;height:2.0px;background:linear-gradient(90deg,#33b8a1 0px,#33b8a1 4px,#33b8a1 8px,#53bd8e 12px,#55bd8d 16px,#4cbc92 20px,#3eba9a 24px,#31b8a2 28px,#26b5a9 32px,#1ab2b1 36px,#0faeb9 40px,#09abbf 44px,#09abbf 48px,#0eaeba 52px,#1fb3ad 56px,#39b99d 60px,#59bd8c 64px,#75bf7f 68px,#89bf76 72px,#98bf70 76px,#a4be6b 80px,#b1bd66 84px,#bfbc61 88px,#cfbb5a 92px,#e0ba53 96px,#f1b94a 100px,#fcbd3f 104px,#fec239 108px,#fec239 112px,#fcbd3f 116px,#f1b94a 120px,#e0ba53 124px,#cfbb5a 128px,#bfbc61 132px,#b1bd66 136px,#a4be6b 140px,#98bf70 144px,#89bf76 148px,#75bf7f 152px,#59bd8c 156px,#39b99d 160px,#1fb3ad 164px,#0eaeba 168px,#09abbf 172px,#09abbf 176px,#0faeb9 180px,#1ab2b1 184px,#26b5a9 188px,#31b8a2 192px,#3eba9a 196px,#4cbc92 200px,#55bd8e 204px,#53bd8f 208px,#33b8a1 212px,#33b8a1 216px,#33b8a1 220px)"></i>
<i style="top:152.0px;height:2.0px;background:linear-gradient(90deg,#33b8a1 0px,#33b8a1 4px,#33b8a1 8px,#4ebc91 12px,#56bd8d 16px,#51bc90 20px,#44bb97 24px,#34b8a0 28px,#25b5a9 32px,#16b1b3 36px,#0bacbd 40px,#07a9c3 44px,#06a8c4 48px,#0aacbe 52px,#1ab2b1 56px,#36b99f 60px,#59bd8c 64px,#77bf7e 68px,#8dbf74 72px,#9dbf6e 76px,#aabe69 80px,#b8bd63 84px,#c7bc5d 88px,#d8ba56 92px,#eab94d 96px,#fbbc41 100px,#fec635 104px,#fdcb30 108px,#fdcb30 112px,#fec635 116px,#fbbc41 120px,#eab94d 124px,#d8ba56 128px,#c7bc5d 132px,#b8bd63 136px,#aabe69 140px,#9dbf6e 144px,#8dbf74 148px,#77bf7e 152px,#59bd8c 156px,#36b99f 160px,#1ab2b1 164px,#0aacbe 168px,#06a8c4 172px,#07a9c3 176px,#0bacbd 180px,#16b1b3 184px,#25b5a9 188px,#34b8a0 192px,#44bb97 196px,#51bc90 200px,#55bd8d 204px,#4ebc91 208px,#33b8a1 212px,#33b8a1 216px,#33b8a1 220px)"></i>
<i style="top:154.0px;height:2.0px;background:linear-gradient(90deg,#33b8a1 0px,#33b8a1 4px,#33b8a1 8px,#4cbc92 12px,#59bd8b 16px,#5abd8b 20px,#4ebc91 24px,#3ab99c 28px,#26b5a9 32px,#14b0b5 36px,#08aac0 40px,#06a6c7 44px,#06a5c8 48px,#07a9c2 52px,#14b0b5 56px,#32b8a2 60px,#57bd8d 64px,#78bf7d 68px,#8fbf74 72px,#9fbe6d 76px,#adbe68 80px,#bbbd62 84px,#cbbb5c 88px,#ddba54 92px,#f0b94a 96px,#fec03b 100px,#fdcb30 104px,#fad12b 108px,#fad12b 112px,#fdcb30 116px,#fec03b 120px,#f0b94a 124px,#ddba54 128px,#cbbb5c 132px,#bbbd62 136px,#adbe68 140px,#9fbe6d 144px,#8fbf74 148px,#78bf7d 152px,#57bd8d 156px,#32b8a2 160px,#14b0b5 164px,#07a9c2 168px,#06a5c8 172px,#06a6c7 176px,#08aac0 180px,#14b0b5 184px,#26b5a9 188px,#3ab99c 192px,#4ebc91 196px,#5abd8b 200px,#59bd8b 204px,#4cbc92 208px,#33b8a1 212px,#33b8a1 216px,#33b8a1 220px)"></i>
<i style="top:156.0px;height:2.0px;background:linear-gradient(90deg,#33b8a1 0px,#33b8a1 4px,#33b8a1 8px,#4bbc93 12px,#5fbe89 16px,#67be85 20px,#5cbe8a 24px,#43bb97 28px,#28b6a7 32px,#12afb7 36px,#06a8c3 40px,#06a3cb 44px,#06a1cc 48px,#06a6c7 52px,#0faeb9 56px,#2cb7a5 60px,#52bd8f 64px,#76bf7e 68px,#8ebf74 72px,#9fbe6d 76px,#adbe68 80px,#bbbd62 84px,#cbbb5c 88px,#ddba54 92px,#f1b949 96px,#fec139 100px,#fccc2f 104px,#fad32a 108px,#fad32a 112px,#fccc2f 116px,#fec139 120px,#f1b949 124px,#ddba54 128px,#cbbb5c 132px,#bbbd62 136px,#adbe68 140px,#9fbe6d 144px,#8ebf74 148px,#76bf7e 152px,#52bd8f 156px,#2cb7a5 160px,#0faeb9 164px,#06a6c7 168px,#06a1cc 172px,#06a3cb 176px,#06a8c3 180px,#12afb7 184px,#28b6a7 188px,#43bb97 192px,#5cbe8a 196px,#67be85 200px,#5fbe89 204px,#4bbc93 208px,#33b8a1 212px,#33b8a1 216px,#33b8a1 220px)"></i>
<i style="top:158.0px;height:2.0px;background:linear-gradient(90deg,#33b8a1 0px,#33b8a1 4px,#33b8a1 8px,#33b8a1 12px,#66be85 16px,#74bf7f 20px,#6cbf82 24px,#50bc90 28px,#2db7a5 32px,#11afb8 36px,#06a7c6 40px,#069fce 44px,#079dcf 48px,#06a3cb 52px,#0aacbe 56px,#26b5a9 60px,#4cbc92 64px,#71bf80 68px,#8abf76 72px,#9cbf6f 76px,#a9be69 80px,#b7bd64 84px,#c6bc5e 88px,#d9ba56 92px,#edb94c 96px,#febe3d 100px,#fdca31 104px,#fbd02c 108px,#fbd02c 112px,#fdca31 116px,#febe3d 120px,#edb94c 124px,#d9ba56 128px,#c6bc5e 132px,#b7bd64 136px,#a9be69 140px,#9cbf6f 144px,#8abf76 148px,#71bf80 152px,#4cbc92 156px,#26b5a9 160px,#0aacbe 164px,#06a3cb 168px,#079dcf 172px,#069fce 176px,#06a7c6 180px,#11afb8 184px,#2db7a5 188px,#50bc90 192px,#6cbf82 196px,#74bf7f 200px,#66be85 204px,#33b8a1 208px,#33b8a1 212px,#33b8a1 216px,#33b8a1 220px)"></i>
<i style="top:160.0px;height:2.0px;background:linear-gradient(90deg,#33b8a1 0px,#33b8a1 4px,#33b8a1 8px,#33b8a1 12px,#6dbf82 16px,#81bf79 20px,#7dbf7b 24px,#5fbe89 28px,#34b8a0 32px,#11afb7 36px,#06a5c8 40px,#079cd0 44px,#0998d1 48px,#069fce 52px,#07aac2 56px,#1fb4ad 60px,#45bb96 64px,#6abe83 68px,#84bf78 72px,#95bf71 76px,#a2be6c 80px,#aebe67 84px,#bdbc61 88px,#cfbb5a 92px,#e3b951 96px,#f7ba45 100px,#ffc338 104px,#fec932 108px,#fec932 112px,#ffc338 116px,#f7ba45 120px,#e3b951 124px,#cfbb5a 128px,#bdbc61 132px,#aebe67 136px,#a2be6c 140px,#95bf71 144px,#84bf78 148px,#6abe83 152px,#45bb96 156px,#1fb4ad 160px,#07aac2 164px,#069fce 168px,#0998d1 172px,#079cd0 176px,#06a5c8 180px,#11afb7 184px,#34b8a0 188px,#5fbe89 192px,#7dbf7b 196px,#81bf79 200px,#6dbf82 204px,#33b8a1 208px,#33b8a1 212px,#33b8a1 216px,#33b8a1 220px)"></i>
<i style="top:162.0px;height:2.0px;background:linear-gradient(90deg,#33b8a1 0px,#33b8a1 4px,#33b8a1 8px,#33b8a1 12px,#71bf80 16px,#8bbf75 20px,#8dbf75 24px,#70bf81 28px,#3dba9b 32px,#13b0b6 36px,#06a4c9 40px,#0998d1 44px,#0c94d2 48px,#079bd0 52px,#06a7c5 56px,#19b2b2 60px,#3dba9b 64px,#61be88 68px,#7abf7c 72px,#8abf76 76px,#96bf71 80px,#a2be6c 84px,#b0be67 88px,#c1bc60 92px,#d4bb58 96px,#e8b94f 100px,#f8ba44 104px,#febf3d 108px,#febf3d 112px,#f8ba44 116px,#e8b94f 120px,#d4bb58 124px,#c1bc60 128px,#b0be67 132px,#a2be6c 136px,#96bf71 140px,#8abf76 144px,#7abf7c 148px,#61be88 152px,#3dba9b 156px,#19b2b2 160px,#06a7c5 164px,#079bd0 168px,#0c94d2 172px,#0998d1 176px,#06a4c9 180px,#13b0b6 184px,#3dba9b 188px,#70bf81 192px,#8dbf75 196px,#8bbf75 200px,#71bf80 204px,#33b8a1 208px,#33b8a1 212px,#33b8a1 216px,#33b8a1 220px)"></i>
<i style="top:164.0px;height:2.0px;background:linear-gradient(90deg,#33b8a1 0px,#33b8a1 4px,#33b8a1 8px,#33b8a1 12px,#33b8a1 16px,#93bf72 20px,#9abf6f 24px,#81bf79 28px,#4abc93 32px,#17b1b3 36px,#06a4ca 40px,#0a96d1 44px,#0f90d2 48px,#0998d1 52px,#06a5c9 56px,#13b0b6 60px,#35b8a0 64px,#56bd8d 68px,#6ebf82 72px,#7cbf7b 76px,#86bf77 80px,#90bf73 84px,#9cbf6e 88px,#adbe68 92px,#c1bc60 96px,#d4bb58 100px,#e4b951 104px,#edb94c 108px,#edb94c 112px,#e4b951 116px,#d4bb58 120px,#c1bc60 124px,#adbe68 128px,#9cbf6e 132px,#90bf73 136px,#86bf77 140px,#7cbf7b 144px,#6ebf82 148px,#56bd8d 152px,#35b8a0 156px,#13b0b6 160px,#06a5c9 164px,#0998d1 168px,#0f90d2 172px,#0a96d1 176px,#06a4ca 180px,#17b1b3 184px,#4abc93 188px,#81bf79 192px,#9abf6f 196px,#93bf72 200px,#33b8a1 204px,#33b8a1 208px,#33b8a1 212px,#33b8a1 216px,#33b8a1 220px)"></i>
<i style="top:166.0px;height:2.0px;background:linear-gradient(90deg,#33b8a1 0px,#33b8a1 4px,#33b8a1 8px,#33b8a1 12px,#33b8a1 16px,#96bf71 20px,#a3be6b 24px,#91bf73 28px,#5bbd8b 32px,#1db3af 36px,#06a5c8 40px,#0b95d2 44px,#108ed2 48px,#0b95d2 52px,#06a2cb 56px,#0faeb9 60px,#2cb7a5 64px,#4abc93 68px,#5fbe89 72px,#6abe83 76px,#71bf80 80px,#78bf7d 84px,#83bf79 88px,#93bf72 92px,#a7be6a 96px,#bbbd62 100px,#cbbb5b 104px,#d4bb58 108px,#d4bb58 112px,#cbbb5b 116px,#bbbd62 120px,#a7be6a 124px,#93bf72 128px,#83bf79 132px,#78bf7d 136px,#71bf80 140px,#6abe83 144px,#5fbe89 148px,#4abc93 152px,#2cb7a5 156px,#0faeb9 160px,#06a2cb 164px,#0b95d2 168px,#108ed2 172px,#0b95d2 176px,#06a5c8 180px,#1db3af 184px,#5bbd8b 188px,#91bf73 192px,#a3be6b 196px,#96bf71 200px,#33b8a1 204px,#33b8a1 208px,#33b8a1 212px,#33b8a1 216px,#33b8a1 220px)"></i>
<i style="top:168.0px;height:2.0px;background:linear-gradient(90deg,#33b8a1 0px,#33b8a1 4px,#33b8a1 8px,#33b8a1 12px,#33b8a1 16px,#96bf71 20px,#a9be69 24px,#9ebe6e 28px,#6dbf82 32px,#28b6a8 36px,#06a7c6 40px,#0a96d1 44px,#118dd2 48px,#0d93d2 52px,#06a1cd 56px,#0bacbd 60px,#25b5aa 64px,#3eba9a 68px,#4ebc91 72px,#55bd8e 76px,#57bd8d 80px,#59bd8b 84px,#61be87 88px,#72bf80 92px,#87bf77 96px,#9dbe6e 100px,#afbe67 104px,#b8bd63 108px,#b8bd63 112px,#afbe67 116px,#9dbe6e 120px,#87bf77 124px,#72bf80 128px,#61be87 132px,#59bd8b 136px,#57bd8d 140px,#55bd8e 144px,#4ebc91 148px,#3eba9a 152px,#25b5aa 156px,#0bacbd 160px,#06a1cd 164px,#0d93d2 168px,#118dd2 172px,#0a96d1 176px,#06a7c6 180px,#28b6a8 184px,#6dbf82 188px,#9ebe6e 192px,#a9be69 196px,#96bf71 200px,#33b8a1 204px,#33b8a1 208px,#33b8a1 212px,#33b8a1 216px,#33b8a1 220px)"></i>
<i style="top:170.0px;height:2.0px;background:linear-gradient(90deg,#33b8a1 0px,#33b8a1 4px,#33b8a1 8px,#33b8a1 12px,#33b8a1 16px,#92bf72 20px,#abbe68 24px,#a8be6a 28px,#80bf7a 32px,#37b99e 36px,#08aac1 40px,#0899d1 44px,#108fd2 48px,#0d92d2 52px,#06a0cd 56px,#09abbf 60px,#1eb3ae 64px,#33b8a1 68px,#3eba9a 72px,#3fba9a 76px,#3bba9c 80px,#39b99d 84px,#3dba9b 88px,#49bc94 92px,#5fbe89 96px,#78bf7d 100px,#8dbf74 104px,#98bf70 108px,#98bf70 112px,#8dbf74 116px,#78bf7d 120px,#5fbe89 124px,#49bc94 128px,#3dba9b 132px,#39b99d 136px,#3bba9c 140px,#3fba9a 144px,#3eba9a 148px,#33b8a1 152px,#1eb3ae 156px,#09abbf 160px,#06a0cd 164px,#0d92d2 168px,#108fd2 172px,#0899d1 176px,#08aac1 180px,#37b99e 184px,#80bf7a 188px,#a8be6a 192px,#abbe68 196px,#92bf72 200px,#33b8a1 204px,#33b8a1 208px,#33b8a1 212px,#33b8a1 216px,#33b8a1 220px)"></i>
<i style="top:172.0px;height:2.0px;background:linear-gradient(90deg,#33b8a1 0px,#33b8a1 4px,#33b8a1 8px,#33b8a1 12px,#33b8a1 16px,#33b8a1 20px,#aabe69 24px,#aebe67 28px,#90bf73 32px,#4bbc93 36px,#0faeb9 40px,#069ece 44px,#0d92d2 48px,#0c94d2 52px,#069fce 56px,#08aac1 60px,#19b2b2 64px,#28b6a7 68px,#2eb7a4 72px,#2bb6a6 76px,#23b4ab 80px,#1db3af 84px,#1db3af 88px,#25b5aa 92px,#36b99f 96px,#4ebc91 100px,#65be85 104px,#73bf7f 108px,#73bf7f 112px,#65be85 116px,#4ebc91 120px,#36b99f 124px,#25b5aa 128px,#1db3af 132px,#1db3af 136px,#23b4ab 140px,#2bb6a6 144px,#2eb7a4 148px,#28b6a7 152px,#19b2b2 156px,#08aac1 160px,#069fce 164px,#0c94d2 168px,#0d92d2 172px,#069ece 176px,#0faeb9 180px,#4bbc93 184px,#90bf73 188px,#aebe67 192px,#aabe69 196px,#33b8a1 200px,#33b8a1 204px,#33b8a1 208px,#33b8a1 212px,#33b8a1 216px,#33b8a1 220px)"></i>
<i style="top:174.0px;height:2.0px;background:linear-gradient(90deg,#33b8a1 0px,#33b8a1 4px,#33b8a1 8px,#33b8a1 12px,#33b8a1 16px,#33b8a1 20px,#a4be6b 24px,#b1bd66 28px,#9ebe6e 32px,#64be86 36px,#1eb3ae 40px,#06a4c9 44px,#0998d1 48px,#0997d1 52px,#06a0cd 56px,#07a9c2 60px,#14b0b5 64px,#1fb4ad 68px,#20b4ad 72px,#19b2b2 76px,#0faeb9 80px,#09abbf 84px,#08aac0 88px,#0bacbd 92px,#16b1b4 96px,#29b6a7 100px,#3eba9a 104px,#4bbc93 108px,#4bbc93 112px,#3eba9a 116px,#29b6a7 120px,#16b1b4 124px,#0bacbd 128px,#08aac0 132px,#09abbf 136px,#0faeb9 140px,#19b2b2 144px,#20b4ad 148px,#1fb4ad 152px,#14b0b5 156px,#07a9c2 160px,#06a0cd 164px,#0997d1 168px,#0998d1 172px,#06a4c9 176px,#1eb3ae 180px,#64be86 184px,#9ebe6e 188px,#b1bd66 192px,#a4be6b 196px,#33b8a1 200px,#33b8a1 204px,#33b8a1 208px,#33b8a1 212px,#33b8a1 216px,#33b8a1 220px)"></i>
<i style="top:176.0px;height:2.0px;background:linear-gradient(90deg,#33b8a1 0px,#33b8a1 4px,#33b8a1 8px,#33b8a1 12px,#33b8a1 16px,#33b8a1 20px,#33b8a1 24px,#b0bd67 28px,#a8be6a 32px,#7cbf7c 36px,#34b8a0 40px,#08abc0 44px,#069fce 48px,#079cd0 52px,#06a2cb 56px,#07a9c2 60px,#11afb8 64px,#18b1b3 68px,#15b0b5 72px,#0cadbc 76px,#06a7c5 80px,#06a2cc 84px,#069fce 88px,#06a2cc 92px,#06a8c4 96px,#0faeb9 100px,#20b4ad 104px,#2bb6a6 108px,#2bb6a6 112px,#20b4ad 116px,#0faeb9 120px,#06a8c4 124px,#06a2cc 128px,#069fce 132px,#06a2cc 136px,#06a7c5 140px,#0cadbc 144px,#15b0b5 148px,#18b1b3 152px,#11afb8 156px,#07a9c2 160px,#06a2cb 164px,#079cd0 168px,#069fce 172px,#08abc0 176px,#34b8a0 180px,#7cbf7c 184px,#a8be6a 188px,#b0bd67 192px,#33b8a1 196px,#33b8a1 200px,#33b8a1 204px,#33b8a1 208px,#33b8a1 212px,#33b8a1 216px,#33b8a1 220px)"></i>
<i style="top:178.0px;height:2.0px;background:linear-gradient(90deg,#33b8a1 0px,#33b8a1 4px,#33b8a1 8px,#33b8a1 12px,#33b8a1 16px,#33b8a1 20px,#33b8a1 24px,#aabe69 28px,#adbe67 32px,#90bf73 36px,#50bc90 40px,#18b1b3 44px,#06a7c6 48px,#06a2cb 52px,#06a5c9 56px,#07aac1 60px,#0eaeba 64px,#12afb7 68px,#0cadbc 72px,#06a7c5 76px,#069fce 80px,#0b95d2 84px,#0f8fd2 88px,#0d92d2 92px,#079cd0 96px,#06a6c7 100px,#0badbc 104px,#14b0b5 108px,#14b0b5 112px,#0badbc 116px,#06a6c7 120px,#079cd0 124px,#0d92d2 128px,#0f8fd2 132px,#0b95d2 136px,#069fce 140px,#06a7c5 144px,#0cadbc 148px,#12afb7 152px,#0eaeba 156px,#07aac1 160px,#06a5c9 164px,#06a2cb 168px,#06a7c6 172px,#18b1b3 176px,#50bc90 180px,#90bf73 184px,#adbe67 188px,#aabe69 192px,#33b8a1 196px,#33b8a1 200px,#33b8a1 204px,#33b8a1 208px,#33b8a1 212px,#33b8a1 216px,#33b8a1 220px)"></i>
<i style="top:180.0px;height:2.0px;background:linear-gradient(90deg,#33b8a1 0px,#33b8a1 4px,#33b8a1 8px,#33b8a1 12px,#33b8a1 16px,#33b8a1 20px,#33b8a1 24px,#a1be6c 28px,#aebe67 32px,#9fbe6d 36px,#70bf81 40px,#32b8a2 44px,#0eaeba 48px,#06a8c3 52px,#06a8c3 56px,#09abbf 60px,#0eaeba 64px,#0daeba 68px,#07aac1 72px,#06a2cb 76px,#0b95d2 80px,#1487d3 84px,#1481d5 88px,#1483d5 92px,#118dd2 96px,#079cd0 100px,#06a6c7 104px,#08aac1 108px,#08aac1 112px,#06a6c7 116px,#079cd0 120px,#118dd2 124px,#1483d5 128px,#1481d5 132px,#1487d3 136px,#0b95d2 140px,#06a2cb 144px,#07aac1 148px,#0daeba 152px,#0eaeba 156px,#09abbf 160px,#06a8c3 164px,#06a8c3 168px,#0eaeba 172px,#32b8a2 176px,#70bf81 180px,#9fbe6d 184px,#aebe67 188px,#a1be6c 192px,#33b8a1 196px,#33b8a1 200px,#33b8a1 204px,#33b8a1 208px,#33b8a1 212px,#33b8a1 216px,#33b8a1 220px)"></i>
<i style="top:182.0px;height:2.0px;background:linear-gradient(90deg,#33b8a1 0px,#33b8a1 4px,#33b8a1 8px,#33b8a1 12px,#33b8a1 16px,#33b8a1 20px,#33b8a1 24px,#33b8a1 28px,#aabe69 32px,#a8be69 36px,#8bbf75 40px,#54bd8e 44px,#26b5a9 48px,#11afb8 52px,#0cadbc 56px,#0daebb 60px,#0faeb9 64px,#0badbc 68px,#06a7c5 72px,#079dcf 76px,#128bd2 80px,#137ed7 84px,#0f78db 88px,#1079da 92px,#1482d5 96px,#0e91d2 100px,#069ece 104px,#06a4c9 108px,#06a4c9 112px,#069ece 116px,#0e91d2 120px,#1482d5 124px,#1079da 128px,#0f78db 132px,#137ed7 136px,#128bd2 140px,#079dcf 144px,#06a7c5 148px,#0badbc 152px,#0faeb9 156px,#0daebb 160px,#0cadbc 164px,#11afb8 168px,#26b5a9 172px,#54bd8e 176px,#8bbf75 180px,#a8be69 184px,#aabe69 188px,#33b8a1 192px,#33b8a1 196px,#33b8a1 200px,#33b8a1 204px,#33b8a1 208px,#33b8a1 212px,#33b8a1 216px,#33b8a1 220px)"></i>
<i style="top:184.0px;height:2.0px;background:linear-gradient(90deg,#33b8a1 0px,#33b8a1 4px,#33b8a1 8px,#33b8a1 12px,#33b8a1 16px,#33b8a1 20px,#33b8a1 24px,#33b8a1 28px,#a1be6c 32px,#acbe68 36px,#9ebe6e 40px,#79bf7d 44px,#49bb94 48px,#29b6a7 52px,#1bb2b0 56px,#16b1b4 60px,#12b0b6 64px,#0bacbd 68px,#06a6c7 72px,#0899d1 76px,#1485d4 80px,#0f78db 84px,#0871de 88px,#0a72de 92px,#127bd9 96px,#1389d3 100px,#0998d1 104px,#069fce 108px,#069fce 112px,#0998d1 116px,#1389d3 120px,#127bd9 124px,#0a72de 128px,#0871de 132px,#0f78db 136px,#1485d4 140px,#0899d1 144px,#06a6c7 148px,#0bacbd 152px,#12b0b6 156px,#16b1b4 160px,#1bb2b0 164px,#29b6a7 168px,#49bb94 172px,#79bf7d 176px,#9ebe6e 180px,#acbe68 184px,#a1be6c 188px,#33b8a1 192px,#33b8a1 196px,#33b8a1 200px,#33b8a1 204px,#33b8a1 208px,#33b8a1 212px,#33b8a1 216px,#33b8a1 220px)"></i>
<i style="top:186.0px;height:2.0px;background:linear-gradient(90deg,#33b8a1 0px,#33b8a1 4px,#33b8a1 8px,#33b8a1 12px,#33b8a1 16px,#33b8a1 20px,#33b8a1 24px,#33b8a1 28px,#33b8a1 32px,#a9be69 36px,#a9be69 40px,#95bf71 44px,#72bf80 48px,#4cbc92 52px,#33b8a1 56px,#25b5a9 60px,#1ab2b1 64px,#0daeba 68px,#06a6c7 72px,#0997d1 76px,#1483d5 80px,#0d75dc 84px,#056de0 88px,#066fdf 92px,#0f78db 96px,#1485d4 100px,#0c94d2 104px,#079cd0 108px,#079cd0 112px,#0c94d2 116px,#1485d4 120px,#0f78db 124px,#066fdf 128px,#056de0 132px,#0d75dc 136px,#1483d5 140px,#0997d1 144px,#06a6c7 148px,#0daeba 152px,#1ab2b1 156px,#25b5a9 160px,#33b8a1 164px,#4cbc92 168px,#72bf80 172px,#95bf71 176px,#a9be69 180px,#a9be69 184px,#33b8a1 188px,#33b8a1 192px,#33b8a1 196px,#33b8a1 200px,#33b8a1 204px,#33b8a1 208px,#33b8a1 212px,#33b8a1 216px,#33b8a1 220px)"></i>
<i style="top:188.0px;height:2.0px;background:linear-gradient(90deg,#33b8a1 0px,#33b8a1 4px,#33b8a1 8px,#33b8a1 12px,#33b8a1 16px,#33b8a1 20px,#33b8a1 24px,#33b8a1 28px,#33b8a1 32px,#a0be6d 36px,#adbe67 40px,#a9be69 44px,#94bf72 48px,#76bf7e 52px,#57bd8d 56px,#3dba9b 60px,#28b6a7 64px,#14b0b5 68px,#06a8c4 72px,#0899d1 76px,#1484d4 80px,#0e76dc 84px,#066edf 88px,#076fdf 92px,#0f78db 96px,#1484d4 100px,#0d93d2 104px,#079bd0 108px,#079bd0 112px,#0d93d2 116px,#1484d4 120px,#0f78db 124px,#076fdf 128px,#066edf 132px,#0e76dc 136px,#1484d4 140px,#0899d1 144px,#06a8c4 148px,#14b0b5 152px,#28b6a7 156px,#3dba9b 160px,#57bd8d 164px,#76bf7e 168px,#94bf72 172px,#a9be69 176px,#adbe67 180px,#a0be6d 184px,#33b8a1 188px,#33b8a1 192px,#33b8a1 196px,#33b8a1 200px,#33b8a1 204px,#33b8a1 208px,#33b8a1 212px,#33b8a1 216px,#33b8a1 220px)"></i>
<i style="top:190.0px;height:2.0px;background:linear-gradient(90deg,#33b8a1 0px,#33b8a1 4px,#33b8a1 8px,#33b8a1 12px,#33b8a1 16px,#33b8a1 20px,#33b8a1 24px,#33b8a1 28px,#33b8a1 32px,#33b8a1 36px,#aabe69 40px,#b3bd65 44px,#adbe68 48px,#9abf6f 52px,#80bf7a 56px,#60be88 60px,#3fba99 64px,#22b4ac 68px,#09abbe 72px,#069ece 76px,#1389d3 80px,#117bd9 84px,#0b73dd 88px,#0b74dd 92px,#127bd9 96px,#1388d3 100px,#0b95d2 104px,#079dcf 108px,#079dcf 112px,#0b95d2 116px,#1388d3 120px,#127bd9 124px,#0b74dd 128px,#0b73dd 132px,#117bd9 136px,#1389d3 140px,#069ece 144px,#09abbe 148px,#22b4ac 152px,#3fba99 156px,#60be88 160px,#80bf7a 164px,#9abf6f 168px,#adbe68 172px,#b3bd65 176px,#aabe69 180px,#33b8a1 184px,#33b8a1 188px,#33b8a1 192px,#33b8a1 196px,#33b8a1 200px,#33b8a1 204px,#33b8a1 208px,#33b8a1 212px,#33b8a1 216px,#33b8a1 220px)"></i>
<i style="top:192.0px;height:2.0px;background:linear-gradient(90deg,#33b8a1 0px,#33b8a1 4px,#33b8a1 8px,#33b8a1 12px,#33b8a1 16px,#33b8a1 20px,#33b8a1 24px,#33b8a1 28px,#33b8a1 32px,#33b8a1 36px,#a1be6c 40px,#b5bd64 44px,#bbbd62 48px,#b5bd65 52px,#a2be6c 56px,#87bf77 60px,#62be87 64px,#39b99d 68px,#16b1b4 72px,#06a5c8 76px,#0c94d2 80px,#1483d5 84px,#127bd9 88px,#127bd9 92px,#1482d5 96px,#108ed2 100px,#089ad0 104px,#06a0cd 108px,#06a0cd 112px,#089ad0 116px,#108ed2 120px,#1482d5 124px,#127bd9 128px,#127bd9 132px,#1483d5 136px,#0c94d2 140px,#06a5c8 144px,#16b1b4 148px,#39b99d 152px,#62be87 156px,#87bf77 160px,#a2be6c 164px,#b5bd65 168px,#bbbd62 172px,#b5bd64 176px,#a1be6c 180px,#33b8a1 184px,#33b8a1 188px,#33b8a1 192px,#33b8a1 196px,#33b8a1 200px,#33b8a1 204px,#33b8a1 208px,#33b8a1 212px,#33b8a1 216px,#33b8a1 220px)"></i>
<i style="top:194.0px;height:2.0px;background:linear-gradient(90deg,#33b8a1 0px,#33b8a1 4px,#33b8a1 8px,#33b8a1 12px,#33b8a1 16px,#33b8a1 20px,#33b8a1 24px,#33b8a1 28px,#33b8a1 32px,#33b8a1 36px,#33b8a1 40px,#afbe67 44px,#c1bc60 48px,#c6bc5e 52px,#bdbd61 56px,#a9be69 60px,#89bf76 64px,#5dbe8a 68px,#2eb7a4 72px,#0cadbc 76px,#06a1cd 80px,#0e91d2 84px,#1487d3 88px,#1487d3 92px,#118dd2 96px,#0998d1 100px,#06a1cc 104px,#06a5c8 108px,#06a5c8 112px,#06a1cc 116px,#0998d1 120px,#118dd2 124px,#1487d3 128px,#1487d3 132px,#0e91d2 136px,#06a1cd 140px,#0cadbc 144px,#2eb7a4 148px,#5dbe8a 152px,#89bf76 156px,#a9be69 160px,#bdbd61 164px,#c6bc5e 168px,#c1bc60 172px,#afbe67 176px,#33b8a1 180px,#33b8a1 184px,#33b8a1 188px,#33b8a1 192px,#33b8a1 196px,#33b8a1 200px,#33b8a1 204px,#33b8a1 208px,#33b8a1 212px,#33b8a1 216px,#33b8a1 220px)"></i>
<i style="top:196.0px;height:2.0px;background:linear-gradient(90deg,#33b8a1 0px,#33b8a1 4px,#33b8a1 8px,#33b8a1 12px,#33b8a1 16px,#33b8a1 20px,#33b8a1 24px,#33b8a1 28px,#33b8a1 32px,#33b8a1 36px,#33b8a1 40px,#33b8a1 44px,#bebc61 48px,#cdbb5b 52px,#cfbb5a 56px,#c4bc5f 60px,#acbe68 64px,#87bf77 68px,#55bd8d 72px,#26b5a9 76px,#09abbe 80px,#06a1cc 84px,#0899d1 88px,#0998d1 92px,#079cd0 96px,#06a2cb 100px,#06a8c5 104px,#08aac0 108px,#08aac0 112px,#06a8c5 116px,#06a2cb 120px,#079cd0 124px,#0998d1 128px,#0899d1 132px,#06a1cc 136px,#09abbe 140px,#26b5a9 144px,#55bd8d 148px,#87bf77 152px,#acbe68 156px,#c4bc5f 160px,#cfbb5a 164px,#cdbb5b 168px,#bebc61 172px,#33b8a1 176px,#33b8a1 180px,#33b8a1 184px,#33b8a1 188px,#33b8a1 192px,#33b8a1 196px,#33b8a1 200px,#33b8a1 204px,#33b8a1 208px,#33b8a1 212px,#33b8a1 216px,#33b8a1 220px)"></i>
<i style="top:198.0px;height:2.0px;background:linear-gradient(90deg,#33b8a1 0px,#33b8a1 4px,#33b8a1 8px,#33b8a1 12px,#33b8a1 16px,#33b8a1 20px,#33b8a1 24px,#33b8a1 28px,#33b8a1 32px,#33b8a1 36px,#33b8a1 40px,#33b8a1 44px,#b3bd65 48px,#cbbb5b 52px,#d8ba56 56px,#d6ba57 60px,#c7bc5d 64px,#acbe68 68px,#84bf78 72px,#52bd8f 76px,#27b5a8 80px,#0eaeba 84px,#06a8c3 88px,#06a6c6 92px,#06a8c4 96px,#09abbf 100px,#0faeb9 104px,#14b0b5 108px,#14b0b5 112px,#0faeb9 116px,#09abbf 120px,#06a8c4 124px,#06a6c6 128px,#06a8c3 132px,#0eaeba 136px,#27b5a8 140px,#52bd8f 144px,#84bf78 148px,#acbe68 152px,#c7bc5d 156px,#d6ba57 160px,#d8ba56 164px,#cbbb5b 168px,#b3bd65 172px,#33b8a1 176px,#33b8a1 180px,#33b8a1 184px,#33b8a1 188px,#33b8a1 192px,#33b8a1 196px,#33b8a1 200px,#33b8a1 204px,#33b8a1 208px,#33b8a1 212px,#33b8a1 216px,#33b8a1 220px)"></i>
<i style="top:200.0px;height:2.0px;background:linear-gradient(90deg,#33b8a1 0px,#33b8a1 4px,#33b8a1 8px,#33b8a1 12px,#33b8a1 16px,#33b8a1 20px,#33b8a1 24px,#33b8a1 28px,#33b8a1 32px,#33b8a1 36px,#33b8a1 40px,#33b8a1 44px,#33b8a1 48px,#c1bc60 52px,#d6ba57 56px,#dfba53 60px,#daba55 64px,#c9bc5d 68px,#acbe68 72px,#86bf77 76px,#59bd8b 80px,#35b89f 84px,#21b4ac 88px,#19b2b2 92px,#1ab2b1 96px,#1fb3ad 100px,#26b5a9 104px,#2bb6a6 108px,#2bb6a6 112px,#26b5a9 116px,#1fb3ad 120px,#1ab2b1 124px,#19b2b2 128px,#21b4ac 132px,#35b89f 136px,#59bd8b 140px,#86bf77 144px,#acbe68 148px,#c9bc5d 152px,#daba55 156px,#dfba53 160px,#d6ba57 164px,#c1bc60 168px,#33b8a1 172px,#33b8a1 176px,#33b8a1 180px,#33b8a1 184px,#33b8a1 188px,#33b8a1 192px,#33b8a1 196px,#33b8a1 200px,#33b8a1 204px,#33b8a1 208px,#33b8a1 212px,#33b8a1 216px,#33b8a1 220px)"></i>
<i style="top:202.0px;height:2.0px;background:linear-gradient(90deg,#33b8a1 0px,#33b8a1 4px,#33b8a1 8px,#33b8a1 12px,#33b8a1 16px,#33b8a1 20px,#33b8a1 24px,#33b8a1 28px,#33b8a1 32px,#33b8a1 36px,#33b8a1 40px,#33b8a1 44px,#33b8a1 48px,#33b8a1 52px,#ccbb5b 56px,#deba53 60px,#e3b951 64px,#dcba54 68px,#cabb5c 72px,#b0bd66 76px,#90bf73 80px,#6fbf81 84px,#55bd8e 88px,#47bb95 92px,#43bb97 96px,#46bb96 100px,#4bbc93 104px,#4ebc91 108px,#4ebc91 112px,#4bbc93 116px,#46bb96 120px,#43bb97 124px,#47bb95 128px,#55bd8e 132px,#6fbf81 136px,#90bf73 140px,#b0bd66 144px,#cabb5c 148px,#dcba54 152px,#e3b951 156px,#deba53 160px,#ccbb5b 164px,#33b8a1 168px,#33b8a1 172px,#33b8a1 176px,#33b8a1 180px,#33b8a1 184px,#33b8a1 188px,#33b8a1 192px,#33b8a1 196px,#33b8a1 200px,#33b8a1 204px,#33b8a1 208px,#33b8a1 212px,#33b8a1 216px,#33b8a1 220px)"></i>
<i style="top:204.0px;height:2.0px;background:linear-gradient(90deg,#33b8a1 0px,#33b8a1 4px,#33b8a1 8px,#33b8a1 12px,#33b8a1 16px,#33b8a1 20px,#33b8a1 24px,#33b8a1 28px,#33b8a1 32px,#33b8a1 36px,#33b8a1 40px,#33b8a1 44px,#33b8a1 48px,#33b8a1 52px,#33b8a1 56px,#d3bb58 60px,#e2b952 64px,#e5b950 68px,#deba54 72px,#cebb5a 76px,#b9bd63 80px,#a3be6c 84px,#8fbf74 88px,#81bf79 92px,#7abf7c 96px,#79bf7d 100px,#7bbf7c 104px,#7cbf7c 108px,#7cbf7c 112px,#7bbf7c 116px,#79bf7d 120px,#7abf7c 124px,#81bf79 128px,#8fbf74 132px,#a3be6c 136px,#b9bd63 140px,#cebb5a 144px,#deba54 148px,#e5b950 152px,#e2b952 156px,#d3bb58 160px,#33b8a1 164px,#33b8a1 168px,#33b8a1 172px,#33b8a1 176px,#33b8a1 180px,#33b8a1 184px,#33b8a1 188px,#33b8a1 192px,#33b8a1 196px,#33b8a1 200px,#33b8a1 204px,#33b8a1 208px,#33b8a1 212px,#33b8a1 216px,#33b8a1 220px)"></i>
<i style="top:206.0px;height:2.0px;background:linear-gradient(90deg,#33b8a1 0px,#33b8a1 4px,#33b8a1 8px,#33b8a1 12px,#33b8a1 16px,#33b8a1 20px,#33b8a1 24px,#33b8a1 28px,#33b8a1 32px,#33b8a1 36px,#33b8a1 40px,#33b8a1 44px,#33b8a1 48px,#33b8a1 52px,#33b8a1 56px,#33b8a1 60px,#d6ba57 64px,#e3b951 68px,#e6b950 72px,#e0ba52 76px,#d5ba57 80px,#c7bc5d 84px,#babd63 88px,#afbe67 92px,#a9be69 96px,#a6be6a 100px,#a6be6b 104px,#a6be6b 108px,#a6be6b 112px,#a6be6b 116px,#a6be6a 120px,#a9be69 124px,#afbe67 128px,#babd63 132px,#c7bc5d 136px,#d5ba57 140px,#e0ba52 144px,#e6b950 148px,#e3b951 152px,#d6ba57 156px,#33b8a1 160px,#33b8a1 164px,#33b8a1 168px,#33b8a1 172px,#33b8a1 176px,#33b8a1 180px,#33b8a1 184px,#33b8a1 188px,#33b8a1 192px,#33b8a1 196px,#33b8a1 200px,#33b8a1 204px,#33b8a1 208px,#33b8a1 212px,#33b8a1 216px,#33b8a1 220px)"></i>
<i style="top:208.0px;height:2.0px;background:linear-gradient(90deg,#33b8a1 0px,#33b8a1 4px,#33b8a1 8px,#33b8a1 12px,#33b8a1 16px,#33b8a1 20px,#33b8a1 24px,#33b8a1 28px,#33b8a1 32px,#33b8a1 36px,#33b8a1 40px,#33b8a1 44px,#33b8a1 48px,#33b8a1 52px,#33b8a1 56px,#33b8a1 60px,#33b8a1 64px,#d6ba57 68px,#e1b952 72px,#e6b950 76px,#e3b951 80px,#deba54 84px,#d7ba57 88px,#d0bb59 92px,#ccbb5b 96px,#c9bc5c 100px,#c8bc5d 104px,#c7bc5d 108px,#c7bc5d 112px,#c8bc5d 116px,#c9bc5c 120px,#ccbb5b 124px,#d0bb59 128px,#d7ba57 132px,#deba54 136px,#e3b951 140px,#e6b950 144px,#e1b952 148px,#d6ba57 152px,#33b8a1 156px,#33b8a1 160px,#33b8a1 164px,#33b8a1 168px,#33b8a1 172px,#33b8a1 176px,#33b8a1 180px,#33b8a1 184px,#33b8a1 188px,#33b8a1 192px,#33b8a1 196px,#33b8a1 200px,#33b8a1 204px,#33b8a1 208px,#33b8a1 212px,#33b8a1 216px,#33b8a1 220px)"></i>
<i style="top:210.0px;height:2.0px;background:linear-gradient(90deg,#33b8a1 0px,#33b8a1 4px,#33b8a1 8px,#33b8a1 12px,#33b8a1 16px,#33b8a1 20px,#33b8a1 24px,#33b8a1 28px,#33b8a1 32px,#33b8a1 36px,#33b8a1 40px,#33b8a1 44px,#33b8a1 48px,#33b8a1 52px,#33b8a1 56px,#33b8a1 60px,#33b8a1 64px,#33b8a1 68px,#d3bb58 72px,#deba53 76px,#e5b950 80px,#e6b94f 84px,#e6b950 88px,#e4b951 92px,#e2b951 96px,#e1b952 100px,#e0ba52 104px,#e0ba53 108px,#e0ba53 112px,#e0ba52 116px,#e1b952 120px,#e2b951 124px,#e4b951 128px,#e6b950 132px,#e6b94f 136px,#e5b950 140px,#deba53 144px,#d3bb58 148px,#33b8a1 152px,#33b8a1 156px,#33b8a1 160px,#33b8a1 164px,#33b8a1 168px,#33b8a1 172px,#33b8a1 176px,#33b8a1 180px,#33b8a1 184px,#33b8a1 188px,#33b8a1 192px,#33b8a1 196px,#33b8a1 200px,#33b8a1 204px,#33b8a1 208px,#33b8a1 212px,#33b8a1 216px,#33b8a1 220px)"></i>
<i style="top:212.0px;height:2.0px;background:linear-gradient(90deg,#33b8a1 0px,#33b8a1 4px,#33b8a1 8px,#33b8a1 12px,#33b8a1 16px,#33b8a1 20px,#33b8a1 24px,#33b8a1 28px,#33b8a1 32px,#33b8a1 36px,#33b8a1 40px,#33b8a1 44px,#33b8a1 48px,#33b8a1 52px,#33b8a1 56px,#33b8a1 60px,#33b8a1 64px,#33b8a1 68px,#33b8a1 72px,#cdbb5b 76px,#d9ba55 80px,#e2b952 84px,#e7b94f 88px,#eab94e 92px,#ebb94d 96px,#ecb94c 100px,#edb94c 104px,#edb94c 108px,#edb94c 112px,#edb94c 116px,#ecb94c 120px,#ebb94d 124px,#eab94e 128px,#e7b94f 132px,#e2b952 136px,#d9ba55 140px,#cdbb5b 144px,#33b8a1 148px,#33b8a1 152px,#33b8a1 156px,#33b8a1 160px,#33b8a1 164px,#33b8a1 168px,#33b8a1 172px,#33b8a1 176px,#33b8a1 180px,#33b8a1 184px,#33b8a1 188px,#33b8a1 192px,#33b8a1 196px,#33b8a1 200px,#33b8a1 204px,#33b8a1 208px,#33b8a1 212px,#33b8a1 216px,#33b8a1 220px)"></i>
<i style="top:214.0px;height:2.0px;background:linear-gradient(90deg,#33b8a1 0px,#33b8a1 4px,#33b8a1 8px,#33b8a1 12px,#33b8a1 16px,#33b8a1 20px,#33b8a1 24px,#33b8a1 28px,#33b8a1 32px,#33b8a1 36px,#33b8a1 40px,#33b8a1 44px,#33b8a1 48px,#33b8a1 52px,#33b8a1 56px,#33b8a1 60px,#33b8a1 64px,#33b8a1 68px,#33b8a1 72px,#33b8a1 76px,#33b8a1 80px,#d1bb59 84px,#dbba55 88px,#e2b952 92px,#e7b94f 96px,#eab94d 100px,#ecb94c 104px,#edb94c 108px,#edb94c 112px,#ecb94c 116px,#eab94d 120px,#e7b94f 124px,#e2b952 128px,#dbba55 132px,#d1bb59 136px,#33b8a1 140px,#33b8a1 144px,#33b8a1 148px,#33b8a1 152px,#33b8a1 156px,#33b8a1 160px,#33b8a1 164px,#33b8a1 168px,#33b8a1 172px,#33b8a1 176px,#33b8a1 180px,#33b8a1 184px,#33b8a1 188px,#33b8a1 192px,#33b8a1 196px,#33b8a1 200px,#33b8a1 204px,#33b8a1 208px,#33b8a1 212px,#33b8a1 216px,#33b8a1 220px)"></i>
<i style="top:216.0px;height:2.0px;background:linear-gradient(90deg,#33b8a1 0px,#33b8a1 4px,#33b8a1 8px,#33b8a1 12px,#33b8a1 16px,#33b8a1 20px,#33b8a1 24px,#33b8a1 28px,#33b8a1 32px,#33b8a1 36px,#33b8a1 40px,#33b8a1 44px,#33b8a1 48px,#33b8a1 52px,#33b8a1 56px,#33b8a1 60px,#33b8a1 64px,#33b8a1 68px,#33b8a1 72px,#33b8a1 76px,#33b8a1 80px,#33b8a1 84px,#33b8a1 88px,#cfbb5a 92px,#d6ba57 96px,#dcba54 100px,#dfba53 104px,#e1ba52 108px,#e1ba52 112px,#dfba53 116px,#dcba54 120px,#d6ba57 124px,#cfbb5a 128px,#33b8a1 132px,#33b8a1 136px,#33b8a1 140px,#33b8a1 144px,#33b8a1 148px,#33b8a1 152px,#33b8a1 156px,#33b8a1 160px,#33b8a1 164px,#33b8a1 168px,#33b8a1 172px,#33b8a1 176px,#33b8a1 180px,#33b8a1 184px,#33b8a1 188px,#33b8a1 192px,#33b8a1 196px,#33b8a1 200px,#33b8a1 204px,#33b8a1 208px,#33b8a1 212px,#33b8a1 216px,#33b8a1 220px)"></i>
<i style="top:218.0px;height:1.1px;background:linear-gradient(90deg,#33b8a1 0px,#33b8a1 4px,#33b8a1 8px,#33b8a1 12px,#33b8a1 16px,#33b8a1 20px,#33b8a1 24px,#33b8a1 28px,#33b8a1 32px,#33b8a1 36px,#33b8a1 40px,#33b8a1 44px,#33b8a1 48px,#33b8a1 52px,#33b8a1 56px,#33b8a1 60px,#33b8a1 64px,#33b8a1 68px,#33b8a1 72px,#33b8a1 76px,#33b8a1 80px,#33b8a1 84px,#33b8a1 88px,#33b8a1 92px,#33b8a1 96px,#cabb5c 100px,#cebb5a 104px,#d0bb5a 108px,#d0bb5a 112px,#cebb5a 116px,#cabb5c 120px,#33b8a1 124px,#33b8a1 128px,#33b8a1 132px,#33b8a1 136px,#33b8a1 140px,#33b8a1 144px,#33b8a1 148px,#33b8a1 152px,#33b8a1 156px,#33b8a1 160px,#33b8a1 164px,#33b8a1 168px,#33b8a1 172px,#33b8a1 176px,#33b8a1 180px,#33b8a1 184px,#33b8a1 188px,#33b8a1 192px,#33b8a1 196px,#33b8a1 200px,#33b8a1 204px,#33b8a1 208px,#33b8a1 212px,#33b8a1 216px,#33b8a1 220px)"></i>
</div>
<svg id="hd" width="194.0" height="186.7" viewBox="0 0 194.0 186.7" shape-rendering="crispEdges">
<rect x="0.00" y="1.25" width="4.08" height="9.20" fill="#4030b9"/>
<rect x="3.78" y="1.25" width="5.06" height="9.20" fill="#4030b9"/>
<rect x="8.54" y="1.25" width="5.06" height="9.20" fill="#4030b9"/>
<rect x="13.30" y="1.25" width="5.06" height="9.20" fill="#4031ba"/>
<rect x="18.06" y="1.25" width="5.06" height="9.20" fill="#4032bc"/>
<rect x="22.82" y="1.25" width="5.06" height="9.20" fill="#4133bf"/>
<rect x="27.58" y="1.25" width="5.06" height="9.20" fill="#4136c3"/>
<rect x="32.34" y="1.25" width="5.06" height="9.20" fill="#423aca"/>
<rect x="37.10" y="1.25" width="5.06" height="9.20" fill="#4340d4"/>
<rect x="41.86" y="1.25" width="5.06" height="9.20" fill="#4548e2"/>
<rect x="46.62" y="1.25" width="5.06" height="9.20" fill="#4753f4"/>
<rect x="51.38" y="1.25" width="5.06" height="9.20" fill="#3f63f5"/>
<rect x="56.14" y="1.25" width="5.06" height="9.20" fill="#3676f6"/>
<rect x="60.90" y="1.25" width="5.06" height="9.20" fill="#2b8af4"/>
<rect x="65.66" y="1.25" width="5.06" height="9.20" fill="#209ce7"/>
<rect x="70.42" y="1.25" width="5.06" height="9.20" fill="#15acda"/>
<rect x="75.18" y="1.25" width="5.06" height="9.20" fill="#1ab6c8"/>
<rect x="79.94" y="1.25" width="5.06" height="9.20" fill="#23bcb8"/>
<rect x="84.70" y="1.25" width="5.06" height="9.20" fill="#28bfb1"/>
<rect x="89.46" y="1.25" width="5.06" height="9.20" fill="#27beb2"/>
<rect x="94.22" y="1.25" width="5.06" height="9.20" fill="#1fb9bf"/>
<rect x="98.98" y="1.25" width="5.06" height="9.20" fill="#12b1d6"/>
<rect x="103.74" y="1.25" width="5.06" height="9.20" fill="#1e9ee5"/>
<rect x="108.50" y="1.25" width="5.06" height="9.20" fill="#2c89f5"/>
<rect x="113.26" y="1.25" width="5.06" height="9.20" fill="#3871f6"/>
<rect x="118.02" y="1.25" width="5.06" height="9.20" fill="#435cf5"/>
<rect x="122.78" y="1.25" width="5.06" height="9.20" fill="#464ce9"/>
<rect x="127.54" y="1.25" width="5.06" height="9.20" fill="#4441d7"/>
<rect x="132.30" y="1.25" width="5.06" height="9.20" fill="#423aca"/>
<rect x="137.06" y="1.25" width="5.06" height="9.20" fill="#4135c2"/>
<rect x="141.82" y="1.25" width="5.06" height="9.20" fill="#4133be"/>
<rect x="146.58" y="1.25" width="5.06" height="9.20" fill="#4031bb"/>
<rect x="151.34" y="1.25" width="5.06" height="9.20" fill="#4030ba"/>
<rect x="156.10" y="1.25" width="5.06" height="9.20" fill="#4030b9"/>
<rect x="160.86" y="1.25" width="5.06" height="9.20" fill="#4030b9"/>
<rect x="165.62" y="1.25" width="5.06" height="9.20" fill="#4030b8"/>
<rect x="170.38" y="1.25" width="5.06" height="9.20" fill="#4030b8"/>
<rect x="175.14" y="1.25" width="5.06" height="9.20" fill="#4030b8"/>
<rect x="179.90" y="1.25" width="5.06" height="9.20" fill="#4030b8"/>
<rect x="184.66" y="1.25" width="5.06" height="9.20" fill="#4030b8"/>
<rect x="189.42" y="1.25" width="4.88" height="9.20" fill="#4030b8"/>
<rect x="0.00" y="10.15" width="4.08" height="9.20" fill="#4030b9"/>
<rect x="3.78" y="10.15" width="5.06" height="9.20" fill="#4030b9"/>
<rect x="8.54" y="10.15" width="5.06" height="9.20" fill="#4030b9"/>
<rect x="13.30" y="10.15" width="5.06" height="9.20" fill="#4031ba"/>
<rect x="18.06" y="10.15" width="5.06" height="9.20" fill="#4032bc"/>
<rect x="22.82" y="10.15" width="5.06" height="9.20" fill="#4133be"/>
<rect x="27.58" y="10.15" width="5.06" height="9.20" fill="#4135c2"/>
<rect x="32.34" y="10.15" width="5.06" height="9.20" fill="#4239c9"/>
<rect x="37.10" y="10.15" width="5.06" height="9.20" fill="#433ed2"/>
<rect x="41.86" y="10.15" width="5.06" height="9.20" fill="#4546df"/>
<rect x="46.62" y="10.15" width="5.06" height="9.20" fill="#4750f0"/>
<rect x="51.38" y="10.15" width="5.06" height="9.20" fill="#415ff5"/>
<rect x="56.14" y="10.15" width="5.06" height="9.20" fill="#3871f6"/>
<rect x="60.90" y="10.15" width="5.06" height="9.20" fill="#2e85f7"/>
<rect x="65.66" y="10.15" width="5.06" height="9.20" fill="#2397ea"/>
<rect x="70.42" y="10.15" width="5.06" height="9.20" fill="#18a8dd"/>
<rect x="75.18" y="10.15" width="5.06" height="9.20" fill="#17b4cd"/>
<rect x="79.94" y="10.15" width="5.06" height="9.20" fill="#21bbbc"/>
<rect x="84.70" y="10.15" width="5.06" height="9.20" fill="#27beb2"/>
<rect x="89.46" y="10.15" width="5.06" height="9.20" fill="#28bfb0"/>
<rect x="94.22" y="10.15" width="5.06" height="9.20" fill="#22bbba"/>
<rect x="98.98" y="10.15" width="5.06" height="9.20" fill="#17b4cd"/>
<rect x="103.74" y="10.15" width="5.06" height="9.20" fill="#1aa5e0"/>
<rect x="108.50" y="10.15" width="5.06" height="9.20" fill="#2791ef"/>
<rect x="113.26" y="10.15" width="5.06" height="9.20" fill="#347af6"/>
<rect x="118.02" y="10.15" width="5.06" height="9.20" fill="#3f63f5"/>
<rect x="122.78" y="10.15" width="5.06" height="9.20" fill="#4751f2"/>
<rect x="127.54" y="10.15" width="5.06" height="9.20" fill="#4545dd"/>
<rect x="132.30" y="10.15" width="5.06" height="9.20" fill="#433dcf"/>
<rect x="137.06" y="10.15" width="5.06" height="9.20" fill="#4237c5"/>
<rect x="141.82" y="10.15" width="5.06" height="9.20" fill="#4134bf"/>
<rect x="146.58" y="10.15" width="5.06" height="9.20" fill="#4032bc"/>
<rect x="151.34" y="10.15" width="5.06" height="9.20" fill="#4031ba"/>
<rect x="156.10" y="10.15" width="5.06" height="9.20" fill="#4030b9"/>
<rect x="160.86" y="10.15" width="5.06" height="9.20" fill="#4030b9"/>
<rect x="165.62" y="10.15" width="5.06" height="9.20" fill="#4030b8"/>
<rect x="170.38" y="10.15" width="5.06" height="9.20" fill="#4030b8"/>
<rect x="175.14" y="10.15" width="5.06" height="9.20" fill="#4030b8"/>
<rect x="179.90" y="10.15" width="5.06" height="9.20" fill="#4030b8"/>
<rect x="184.66" y="10.15" width="5.06" height="9.20" fill="#4030b8"/>
<rect x="189.42" y="10.15" width="4.88" height="9.20" fill="#4030b8"/>
<rect x="0.00" y="19.05" width="4.08" height="9.20" fill="#4030b9"/>
<rect x="3.78" y="19.05" width="5.06" height="9.20" fill="#4030b9"/>
<rect x="8.54" y="19.05" width="5.06" height="9.20" fill="#4030b9"/>
<rect x="13.30" y="19.05" width="5.06" height="9.20" fill="#4031ba"/>
<rect x="18.06" y="19.05" width="5.06" height="9.20" fill="#4031bb"/>
<rect x="22.82" y="19.05" width="5.06" height="9.20" fill="#4133be"/>
<rect x="27.58" y="19.05" width="5.06" height="9.20" fill="#4135c1"/>
<rect x="32.34" y="19.05" width="5.06" height="9.20" fill="#4238c7"/>
<rect x="37.10" y="19.05" width="5.06" height="9.20" fill="#433dd0"/>
<rect x="41.86" y="19.05" width="5.06" height="9.20" fill="#4444dc"/>
<rect x="46.62" y="19.05" width="5.06" height="9.20" fill="#474eec"/>
<rect x="51.38" y="19.05" width="5.06" height="9.20" fill="#435bf5"/>
<rect x="56.14" y="19.05" width="5.06" height="9.20" fill="#3b6cf6"/>
<rect x="60.90" y="19.05" width="5.06" height="9.20" fill="#3180f7"/>
<rect x="65.66" y="19.05" width="5.06" height="9.20" fill="#2692ee"/>
<rect x="70.42" y="19.05" width="5.06" height="9.20" fill="#1ba3e1"/>
<rect x="75.18" y="19.05" width="5.06" height="9.20" fill="#13b2d3"/>
<rect x="79.94" y="19.05" width="5.06" height="9.20" fill="#1eb9c1"/>
<rect x="84.70" y="19.05" width="5.06" height="9.20" fill="#26bdb4"/>
<rect x="89.46" y="19.05" width="5.06" height="9.20" fill="#28bfb0"/>
<rect x="94.22" y="19.05" width="5.06" height="9.20" fill="#25bdb5"/>
<rect x="98.98" y="19.05" width="5.06" height="9.20" fill="#1bb7c6"/>
<rect x="103.74" y="19.05" width="5.06" height="9.20" fill="#15acda"/>
<rect x="108.50" y="19.05" width="5.06" height="9.20" fill="#2298ea"/>
<rect x="113.26" y="19.05" width="5.06" height="9.20" fill="#3083f7"/>
<rect x="118.02" y="19.05" width="5.06" height="9.20" fill="#3b6bf6"/>
<rect x="122.78" y="19.05" width="5.06" height="9.20" fill="#4557f5"/>
<rect x="127.54" y="19.05" width="5.06" height="9.20" fill="#4649e5"/>
<rect x="132.30" y="19.05" width="5.06" height="9.20" fill="#4340d4"/>
<rect x="137.06" y="19.05" width="5.06" height="9.20" fill="#4239c9"/>
<rect x="141.82" y="19.05" width="5.06" height="9.20" fill="#4135c2"/>
<rect x="146.58" y="19.05" width="5.06" height="9.20" fill="#4032bd"/>
<rect x="151.34" y="19.05" width="5.06" height="9.20" fill="#4031bb"/>
<rect x="156.10" y="19.05" width="5.06" height="9.20" fill="#4030b9"/>
<rect x="160.86" y="19.05" width="5.06" height="9.20" fill="#4030b9"/>
<rect x="165.62" y="19.05" width="5.06" height="9.20" fill="#4030b9"/>
<rect x="170.38" y="19.05" width="5.06" height="9.20" fill="#4030b8"/>
<rect x="175.14" y="19.05" width="5.06" height="9.20" fill="#4030b8"/>
<rect x="179.90" y="19.05" width="5.06" height="9.20" fill="#4030b8"/>
<rect x="184.66" y="19.05" width="5.06" height="9.20" fill="#4030b8"/>
<rect x="189.42" y="19.05" width="4.88" height="9.20" fill="#4030b8"/>
<rect x="0.00" y="27.95" width="4.08" height="9.20" fill="#4030b9"/>
<rect x="3.78" y="27.95" width="5.06" height="9.20" fill="#4030b9"/>
<rect x="8.54" y="27.95" width="5.06" height="9.20" fill="#4030b9"/>
<rect x="13.30" y="27.95" width="5.06" height="9.20" fill="#4030ba"/>
<rect x="18.06" y="27.95" width="5.06" height="9.20" fill="#4031bb"/>
<rect x="22.82" y="27.95" width="5.06" height="9.20" fill="#4133bd"/>
<rect x="27.58" y="27.95" width="5.06" height="9.20" fill="#4135c1"/>
<rect x="32.34" y="27.95" width="5.06" height="9.20" fill="#4238c7"/>
<rect x="37.10" y="27.95" width="5.06" height="9.20" fill="#433dcf"/>
<rect x="41.86" y="27.95" width="5.06" height="9.20" fill="#4444db"/>
<rect x="46.62" y="27.95" width="5.06" height="9.20" fill="#464deb"/>
<rect x="51.38" y="27.95" width="5.06" height="9.20" fill="#445af5"/>
<rect x="56.14" y="27.95" width="5.06" height="9.20" fill="#3b6cf6"/>
<rect x="60.90" y="27.95" width="5.06" height="9.20" fill="#3180f7"/>
<rect x="65.66" y="27.95" width="5.06" height="9.20" fill="#2693ee"/>
<rect x="70.42" y="27.95" width="5.06" height="9.20" fill="#1aa5e0"/>
<rect x="75.18" y="27.95" width="5.06" height="9.20" fill="#16b4cf"/>
<rect x="79.94" y="27.95" width="5.06" height="9.20" fill="#22bbba"/>
<rect x="84.70" y="27.95" width="5.06" height="9.20" fill="#2bc1ab"/>
<rect x="89.46" y="27.95" width="5.06" height="9.20" fill="#30c3a4"/>
<rect x="94.22" y="27.95" width="5.06" height="9.20" fill="#2ec3a6"/>
<rect x="98.98" y="27.95" width="5.06" height="9.20" fill="#26beb4"/>
<rect x="103.74" y="27.95" width="5.06" height="9.20" fill="#18b5cb"/>
<rect x="108.50" y="27.95" width="5.06" height="9.20" fill="#1aa5e0"/>
<rect x="113.26" y="27.95" width="5.06" height="9.20" fill="#2890f0"/>
<rect x="118.02" y="27.95" width="5.06" height="9.20" fill="#3578f6"/>
<rect x="122.78" y="27.95" width="5.06" height="9.20" fill="#4062f5"/>
<rect x="127.54" y="27.95" width="5.06" height="9.20" fill="#4750f0"/>
<rect x="132.30" y="27.95" width="5.06" height="9.20" fill="#4544dc"/>
<rect x="137.06" y="27.95" width="5.06" height="9.20" fill="#433cce"/>
<rect x="141.82" y="27.95" width="5.06" height="9.20" fill="#4137c5"/>
<rect x="146.58" y="27.95" width="5.06" height="9.20" fill="#4134bf"/>
<rect x="151.34" y="27.95" width="5.06" height="9.20" fill="#4032bc"/>
<rect x="156.10" y="27.95" width="5.06" height="9.20" fill="#4031ba"/>
<rect x="160.86" y="27.95" width="5.06" height="9.20" fill="#4030b9"/>
<rect x="165.62" y="27.95" width="5.06" height="9.20" fill="#4030b9"/>
<rect x="170.38" y="27.95" width="5.06" height="9.20" fill="#4030b8"/>
<rect x="175.14" y="27.95" width="5.06" height="9.20" fill="#4030b8"/>
<rect x="179.90" y="27.95" width="5.06" height="9.20" fill="#4030b8"/>
<rect x="184.66" y="27.95" width="5.06" height="9.20" fill="#4030b8"/>
<rect x="189.42" y="27.95" width="4.88" height="9.20" fill="#4030b8"/>
<rect x="0.00" y="36.85" width="4.08" height="9.20" fill="#4030b9"/>
<rect x="3.78" y="36.85" width="5.06" height="9.20" fill="#4030b9"/>
<rect x="8.54" y="36.85" width="5.06" height="9.20" fill="#4030b9"/>
<rect x="13.30" y="36.85" width="5.06" height="9.20" fill="#4030ba"/>
<rect x="18.06" y="36.85" width="5.06" height="9.20" fill="#4031bb"/>
<rect x="22.82" y="36.85" width="5.06" height="9.20" fill="#4032bd"/>
<rect x="27.58" y="36.85" width="5.06" height="9.20" fill="#4135c1"/>
<rect x="32.34" y="36.85" width="5.06" height="9.20" fill="#4238c6"/>
<rect x="37.10" y="36.85" width="5.06" height="9.20" fill="#433dcf"/>
<rect x="41.86" y="36.85" width="5.06" height="9.20" fill="#4443da"/>
<rect x="46.62" y="36.85" width="5.06" height="9.20" fill="#464deb"/>
<rect x="51.38" y="36.85" width="5.06" height="9.20" fill="#445af5"/>
<rect x="56.14" y="36.85" width="5.06" height="9.20" fill="#3b6cf6"/>
<rect x="60.90" y="36.85" width="5.06" height="9.20" fill="#3181f7"/>
<rect x="65.66" y="36.85" width="5.06" height="9.20" fill="#2495ec"/>
<rect x="70.42" y="36.85" width="5.06" height="9.20" fill="#18a8dd"/>
<rect x="75.18" y="36.85" width="5.06" height="9.20" fill="#1ab6c8"/>
<rect x="79.94" y="36.85" width="5.06" height="9.20" fill="#28bfb0"/>
<rect x="84.70" y="36.85" width="5.06" height="9.20" fill="#33c59e"/>
<rect x="89.46" y="36.85" width="5.06" height="9.20" fill="#3dc892"/>
<rect x="94.22" y="36.85" width="5.06" height="9.20" fill="#3fc891"/>
<rect x="98.98" y="36.85" width="5.06" height="9.20" fill="#33c69e"/>
<rect x="103.74" y="36.85" width="5.06" height="9.20" fill="#26beb3"/>
<rect x="108.50" y="36.85" width="5.06" height="9.20" fill="#15b3d1"/>
<rect x="113.26" y="36.85" width="5.06" height="9.20" fill="#1e9ee5"/>
<rect x="118.02" y="36.85" width="5.06" height="9.20" fill="#2d88f6"/>
<rect x="122.78" y="36.85" width="5.06" height="9.20" fill="#3a6ff6"/>
<rect x="127.54" y="36.85" width="5.06" height="9.20" fill="#4459f5"/>
<rect x="132.30" y="36.85" width="5.06" height="9.20" fill="#464ae6"/>
<rect x="137.06" y="36.85" width="5.06" height="9.20" fill="#4440d5"/>
<rect x="141.82" y="36.85" width="5.06" height="9.20" fill="#423ac9"/>
<rect x="146.58" y="36.85" width="5.06" height="9.20" fill="#4135c2"/>
<rect x="151.34" y="36.85" width="5.06" height="9.20" fill="#4133bd"/>
<rect x="156.10" y="36.85" width="5.06" height="9.20" fill="#4031bb"/>
<rect x="160.86" y="36.85" width="5.06" height="9.20" fill="#4030ba"/>
<rect x="165.62" y="36.85" width="5.06" height="9.20" fill="#4030b9"/>
<rect x="170.38" y="36.85" width="5.06" height="9.20" fill="#4030b9"/>
<rect x="175.14" y="36.85" width="5.06" height="9.20" fill="#4030b8"/>
<rect x="179.90" y="36.85" width="5.06" height="9.20" fill="#4030b8"/>
<rect x="184.66" y="36.85" width="5.06" height="9.20" fill="#4030b8"/>
<rect x="189.42" y="36.85" width="4.88" height="9.20" fill="#4030b8"/>
<rect x="0.00" y="45.75" width="4.08" height="9.20" fill="#4030b8"/>
<rect x="3.78" y="45.75" width="5.06" height="9.20" fill="#4030b9"/>
<rect x="8.54" y="45.75" width="5.06" height="9.20" fill="#4030b9"/>
<rect x="13.30" y="45.75" width="5.06" height="9.20" fill="#4030ba"/>
<rect x="18.06" y="45.75" width="5.06" height="9.20" fill="#4031bb"/>
<rect x="22.82" y="45.75" width="5.06" height="9.20" fill="#4032bd"/>
<rect x="27.58" y="45.75" width="5.06" height="9.20" fill="#4134c1"/>
<rect x="32.34" y="45.75" width="5.06" height="9.20" fill="#4237c6"/>
<rect x="37.10" y="45.75" width="5.06" height="9.20" fill="#433cce"/>
<rect x="41.86" y="45.75" width="5.06" height="9.20" fill="#4443d9"/>
<rect x="46.62" y="45.75" width="5.06" height="9.20" fill="#464ce9"/>
<rect x="51.38" y="45.75" width="5.06" height="9.20" fill="#4459f5"/>
<rect x="56.14" y="45.75" width="5.06" height="9.20" fill="#3c6bf5"/>
<rect x="60.90" y="45.75" width="5.06" height="9.20" fill="#3180f7"/>
<rect x="65.66" y="45.75" width="5.06" height="9.20" fill="#2594ed"/>
<rect x="70.42" y="45.75" width="5.06" height="9.20" fill="#17a8dd"/>
<rect x="75.18" y="45.75" width="5.06" height="9.20" fill="#1bb7c6"/>
<rect x="79.94" y="45.75" width="5.06" height="9.20" fill="#2bc1ac"/>
<rect x="84.70" y="45.75" width="5.06" height="9.20" fill="#38c897"/>
<rect x="89.46" y="45.75" width="5.06" height="9.20" fill="#50c883"/>
<rect x="94.22" y="45.75" width="5.06" height="9.20" fill="#58c87c"/>
<rect x="98.98" y="45.75" width="5.06" height="9.20" fill="#4bc887"/>
<rect x="103.74" y="45.75" width="5.06" height="9.20" fill="#32c5a0"/>
<rect x="108.50" y="45.75" width="5.06" height="9.20" fill="#21bbbc"/>
<rect x="113.26" y="45.75" width="5.06" height="9.20" fill="#15acda"/>
<rect x="118.02" y="45.75" width="5.06" height="9.20" fill="#2594ed"/>
<rect x="122.78" y="45.75" width="5.06" height="9.20" fill="#337cf6"/>
<rect x="127.54" y="45.75" width="5.06" height="9.20" fill="#3f64f5"/>
<rect x="132.30" y="45.75" width="5.06" height="9.20" fill="#4751f2"/>
<rect x="137.06" y="45.75" width="5.06" height="9.20" fill="#4545dd"/>
<rect x="141.82" y="45.75" width="5.06" height="9.20" fill="#433dcf"/>
<rect x="146.58" y="45.75" width="5.06" height="9.20" fill="#4237c5"/>
<rect x="151.34" y="45.75" width="5.06" height="9.20" fill="#4134bf"/>
<rect x="156.10" y="45.75" width="5.06" height="9.20" fill="#4032bc"/>
<rect x="160.86" y="45.75" width="5.06" height="9.20" fill="#4031ba"/>
<rect x="165.62" y="45.75" width="5.06" height="9.20" fill="#4030b9"/>
<rect x="170.38" y="45.75" width="5.06" height="9.20" fill="#4030b9"/>
<rect x="175.14" y="45.75" width="5.06" height="9.20" fill="#4030b8"/>
<rect x="179.90" y="45.75" width="5.06" height="9.20" fill="#4030b8"/>
<rect x="184.66" y="45.75" width="5.06" height="9.20" fill="#4030b8"/>
<rect x="189.42" y="45.75" width="4.88" height="9.20" fill="#4030b8"/>
<rect x="0.00" y="54.65" width="4.08" height="9.20" fill="#4030b8"/>
<rect x="3.78" y="54.65" width="5.06" height="9.20" fill="#4030b9"/>
<rect x="8.54" y="54.65" width="5.06" height="9.20" fill="#4030b9"/>
<rect x="13.30" y="54.65" width="5.06" height="9.20" fill="#4030ba"/>
<rect x="18.06" y="54.65" width="5.06" height="9.20" fill="#4031bb"/>
<rect x="22.82" y="54.65" width="5.06" height="9.20" fill="#4032bd"/>
<rect x="27.58" y="54.65" width="5.06" height="9.20" fill="#4134c0"/>
<rect x="32.34" y="54.65" width="5.06" height="9.20" fill="#4237c5"/>
<rect x="37.10" y="54.65" width="5.06" height="9.20" fill="#433ccd"/>
<rect x="41.86" y="54.65" width="5.06" height="9.20" fill="#4442d8"/>
<rect x="46.62" y="54.65" width="5.06" height="9.20" fill="#464be8"/>
<rect x="51.38" y="54.65" width="5.06" height="9.20" fill="#4558f5"/>
<rect x="56.14" y="54.65" width="5.06" height="9.20" fill="#3c69f5"/>
<rect x="60.90" y="54.65" width="5.06" height="9.20" fill="#327ef6"/>
<rect x="65.66" y="54.65" width="5.06" height="9.20" fill="#2593ed"/>
<rect x="70.42" y="54.65" width="5.06" height="9.20" fill="#18a8dd"/>
<rect x="75.18" y="54.65" width="5.06" height="9.20" fill="#1cb8c5"/>
<rect x="79.94" y="54.65" width="5.06" height="9.20" fill="#2dc2a8"/>
<rect x="84.70" y="54.65" width="5.06" height="9.20" fill="#43c88d"/>
<rect x="89.46" y="54.65" width="5.06" height="9.20" fill="#62c875"/>
<rect x="94.22" y="54.65" width="5.06" height="9.20" fill="#6fc76a"/>
<rect x="98.98" y="54.65" width="5.06" height="9.20" fill="#69c76f"/>
<rect x="103.74" y="54.65" width="5.06" height="9.20" fill="#4bc887"/>
<rect x="108.50" y="54.65" width="5.06" height="9.20" fill="#2ec2a7"/>
<rect x="113.26" y="54.65" width="5.06" height="9.20" fill="#19b6c9"/>
<rect x="118.02" y="54.65" width="5.06" height="9.20" fill="#1ca1e2"/>
<rect x="122.78" y="54.65" width="5.06" height="9.20" fill="#2c8af5"/>
<rect x="127.54" y="54.65" width="5.06" height="9.20" fill="#3970f6"/>
<rect x="132.30" y="54.65" width="5.06" height="9.20" fill="#445af5"/>
<rect x="137.06" y="54.65" width="5.06" height="9.20" fill="#464be7"/>
<rect x="141.82" y="54.65" width="5.06" height="9.20" fill="#4441d6"/>
<rect x="146.58" y="54.65" width="5.06" height="9.20" fill="#423aca"/>
<rect x="151.34" y="54.65" width="5.06" height="9.20" fill="#4135c2"/>
<rect x="156.10" y="54.65" width="5.06" height="9.20" fill="#4133be"/>
<rect x="160.86" y="54.65" width="5.06" height="9.20" fill="#4031bb"/>
<rect x="165.62" y="54.65" width="5.06" height="9.20" fill="#4030ba"/>
<rect x="170.38" y="54.65" width="5.06" height="9.20" fill="#4030b9"/>
<rect x="175.14" y="54.65" width="5.06" height="9.20" fill="#4030b9"/>
<rect x="179.90" y="54.65" width="5.06" height="9.20" fill="#4030b8"/>
<rect x="184.66" y="54.65" width="5.06" height="9.20" fill="#4030b8"/>
<rect x="189.42" y="54.65" width="4.88" height="9.20" fill="#4030b8"/>
<rect x="0.00" y="63.55" width="4.08" height="9.20" fill="#4030b8"/>
<rect x="3.78" y="63.55" width="5.06" height="9.20" fill="#4030b9"/>
<rect x="8.54" y="63.55" width="5.06" height="9.20" fill="#4030b9"/>
<rect x="13.30" y="63.55" width="5.06" height="9.20" fill="#4030ba"/>
<rect x="18.06" y="63.55" width="5.06" height="9.20" fill="#4031bb"/>
<rect x="22.82" y="63.55" width="5.06" height="9.20" fill="#4032bd"/>
<rect x="27.58" y="63.55" width="5.06" height="9.20" fill="#4134c0"/>
<rect x="32.34" y="63.55" width="5.06" height="9.20" fill="#4237c5"/>
<rect x="37.10" y="63.55" width="5.06" height="9.20" fill="#433ccd"/>
<rect x="41.86" y="63.55" width="5.06" height="9.20" fill="#4442d9"/>
<rect x="46.62" y="63.55" width="5.06" height="9.20" fill="#464ce9"/>
<rect x="51.38" y="63.55" width="5.06" height="9.20" fill="#4459f5"/>
<rect x="56.14" y="63.55" width="5.06" height="9.20" fill="#3b6bf6"/>
<rect x="60.90" y="63.55" width="5.06" height="9.20" fill="#3082f7"/>
<rect x="65.66" y="63.55" width="5.06" height="9.20" fill="#2298ea"/>
<rect x="70.42" y="63.55" width="5.06" height="9.20" fill="#14aed8"/>
<rect x="75.18" y="63.55" width="5.06" height="9.20" fill="#23bcb8"/>
<rect x="79.94" y="63.55" width="5.06" height="9.20" fill="#37c898"/>
<rect x="84.70" y="63.55" width="5.06" height="9.20" fill="#69c76e"/>
<rect x="89.46" y="63.55" width="5.06" height="9.20" fill="#8fc750"/>
<rect x="94.22" y="63.55" width="5.06" height="9.20" fill="#a4c73f"/>
<rect x="98.98" y="63.55" width="5.06" height="9.20" fill="#a5c73e"/>
<rect x="103.74" y="63.55" width="5.06" height="9.20" fill="#8cc752"/>
<rect x="108.50" y="63.55" width="5.06" height="9.20" fill="#5cc879"/>
<rect x="113.26" y="63.55" width="5.06" height="9.20" fill="#2ec2a6"/>
<rect x="118.02" y="63.55" width="5.06" height="9.20" fill="#16b4ce"/>
<rect x="122.78" y="63.55" width="5.06" height="9.20" fill="#209ce7"/>
<rect x="127.54" y="63.55" width="5.06" height="9.20" fill="#3082f7"/>
<rect x="132.30" y="63.55" width="5.06" height="9.20" fill="#3d68f5"/>
<rect x="137.06" y="63.55" width="5.06" height="9.20" fill="#4753f4"/>
<rect x="141.82" y="63.55" width="5.06" height="9.20" fill="#4546e0"/>
<rect x="146.58" y="63.55" width="5.06" height="9.20" fill="#433ed0"/>
<rect x="151.34" y="63.55" width="5.06" height="9.20" fill="#4238c6"/>
<rect x="156.10" y="63.55" width="5.06" height="9.20" fill="#4134c0"/>
<rect x="160.86" y="63.55" width="5.06" height="9.20" fill="#4032bc"/>
<rect x="165.62" y="63.55" width="5.06" height="9.20" fill="#4031ba"/>
<rect x="170.38" y="63.55" width="5.06" height="9.20" fill="#4030b9"/>
<rect x="175.14" y="63.55" width="5.06" height="9.20" fill="#4030b9"/>
<rect x="179.90" y="63.55" width="5.06" height="9.20" fill="#4030b9"/>
<rect x="184.66" y="63.55" width="5.06" height="9.20" fill="#4030b8"/>
<rect x="189.42" y="63.55" width="4.88" height="9.20" fill="#4030b8"/>
<rect x="0.00" y="72.45" width="4.08" height="9.20" fill="#4030b8"/>
<rect x="3.78" y="72.45" width="5.06" height="9.20" fill="#4030b8"/>
<rect x="8.54" y="72.45" width="5.06" height="9.20" fill="#4030b8"/>
<rect x="13.30" y="72.45" width="5.06" height="9.20" fill="#4030b8"/>
<rect x="18.06" y="72.45" width="5.06" height="9.20" fill="#4030b9"/>
<rect x="22.82" y="72.45" width="5.06" height="9.20" fill="#4030b9"/>
<rect x="27.58" y="72.45" width="5.06" height="9.20" fill="#4031bb"/>
<rect x="32.34" y="72.45" width="5.06" height="9.20" fill="#4133be"/>
<rect x="37.10" y="72.45" width="5.06" height="9.20" fill="#4136c3"/>
<rect x="41.86" y="72.45" width="5.06" height="9.20" fill="#433ccd"/>
<rect x="46.62" y="72.45" width="5.06" height="9.20" fill="#4545dd"/>
<rect x="51.38" y="72.45" width="5.06" height="9.20" fill="#4753f4"/>
<rect x="56.14" y="72.45" width="5.06" height="9.20" fill="#3c69f5"/>
<rect x="60.90" y="72.45" width="5.06" height="9.20" fill="#2e86f7"/>
<rect x="65.66" y="72.45" width="5.06" height="9.20" fill="#1ca2e2"/>
<rect x="70.42" y="72.45" width="5.06" height="9.20" fill="#1eb9c1"/>
<rect x="75.18" y="72.45" width="5.06" height="9.20" fill="#3ac895"/>
<rect x="79.94" y="72.45" width="5.06" height="9.20" fill="#82c75b"/>
<rect x="84.70" y="72.45" width="5.06" height="9.20" fill="#b6c639"/>
<rect x="89.46" y="72.45" width="5.06" height="9.20" fill="#d1c538"/>
<rect x="94.22" y="72.45" width="5.06" height="9.20" fill="#dec538"/>
<rect x="98.98" y="72.45" width="5.06" height="9.20" fill="#e1c538"/>
<rect x="103.74" y="72.45" width="5.06" height="9.20" fill="#dac538"/>
<rect x="108.50" y="72.45" width="5.06" height="9.20" fill="#c2c639"/>
<rect x="113.26" y="72.45" width="5.06" height="9.20" fill="#8fc74f"/>
<rect x="118.02" y="72.45" width="5.06" height="9.20" fill="#3dc892"/>
<rect x="122.78" y="72.45" width="5.06" height="9.20" fill="#1bb7c7"/>
<rect x="127.54" y="72.45" width="5.06" height="9.20" fill="#2199e9"/>
<rect x="132.30" y="72.45" width="5.06" height="9.20" fill="#3578f6"/>
<rect x="137.06" y="72.45" width="5.06" height="9.20" fill="#445af5"/>
<rect x="141.82" y="72.45" width="5.06" height="9.20" fill="#4547e0"/>
<rect x="146.58" y="72.45" width="5.06" height="9.20" fill="#433ccd"/>
<rect x="151.34" y="72.45" width="5.06" height="9.20" fill="#4135c2"/>
<rect x="156.10" y="72.45" width="5.06" height="9.20" fill="#4032bc"/>
<rect x="160.86" y="72.45" width="5.06" height="9.20" fill="#4030ba"/>
<rect x="165.62" y="72.45" width="5.06" height="9.20" fill="#4030b9"/>
<rect x="170.38" y="72.45" width="5.06" height="9.20" fill="#4030b8"/>
<rect x="175.14" y="72.45" width="5.06" height="9.20" fill="#4030b8"/>
<rect x="179.90" y="72.45" width="5.06" height="9.20" fill="#4030b8"/>
<rect x="184.66" y="72.45" width="5.06" height="9.20" fill="#4030b8"/>
<rect x="189.42" y="72.45" width="4.88" height="9.20" fill="#4030b8"/>
<rect x="0.00" y="81.35" width="4.08" height="9.20" fill="#4030b8"/>
<rect x="3.78" y="81.35" width="5.06" height="9.20" fill="#4030b8"/>
<rect x="8.54" y="81.35" width="5.06" height="9.20" fill="#4030b8"/>
<rect x="13.30" y="81.35" width="5.06" height="9.20" fill="#4030b8"/>
<rect x="18.06" y="81.35" width="5.06" height="9.20" fill="#4030b9"/>
<rect x="22.82" y="81.35" width="5.06" height="9.20" fill="#4030b9"/>
<rect x="27.58" y="81.35" width="5.06" height="9.20" fill="#4031bb"/>
<rect x="32.34" y="81.35" width="5.06" height="9.20" fill="#4133be"/>
<rect x="37.10" y="81.35" width="5.06" height="9.20" fill="#4136c3"/>
<rect x="41.86" y="81.35" width="5.06" height="9.20" fill="#433ccd"/>
<rect x="46.62" y="81.35" width="5.06" height="9.20" fill="#4545dd"/>
<rect x="51.38" y="81.35" width="5.06" height="9.20" fill="#4753f4"/>
<rect x="56.14" y="81.35" width="5.06" height="9.20" fill="#3b6bf6"/>
<rect x="60.90" y="81.35" width="5.06" height="9.20" fill="#2c89f5"/>
<rect x="65.66" y="81.35" width="5.06" height="9.20" fill="#18a7de"/>
<rect x="70.42" y="81.35" width="5.06" height="9.20" fill="#25bdb5"/>
<rect x="75.18" y="81.35" width="5.06" height="9.20" fill="#5ac87a"/>
<rect x="79.94" y="81.35" width="5.06" height="9.20" fill="#adc739"/>
<rect x="84.70" y="81.35" width="5.06" height="9.20" fill="#ddc538"/>
<rect x="89.46" y="81.35" width="5.06" height="9.20" fill="#fec437"/>
<rect x="94.22" y="81.35" width="5.06" height="9.20" fill="#fdd12f"/>
<rect x="98.98" y="81.35" width="5.06" height="9.20" fill="#fdd52d"/>
<rect x="103.74" y="81.35" width="5.06" height="9.20" fill="#fdd32e"/>
<rect x="108.50" y="81.35" width="5.06" height="9.20" fill="#fec637"/>
<rect x="113.26" y="81.35" width="5.06" height="9.20" fill="#d9c538"/>
<rect x="118.02" y="81.35" width="5.06" height="9.20" fill="#98c749"/>
<rect x="122.78" y="81.35" width="5.06" height="9.20" fill="#35c79a"/>
<rect x="127.54" y="81.35" width="5.06" height="9.20" fill="#13b2d4"/>
<rect x="132.30" y="81.35" width="5.06" height="9.20" fill="#288ff1"/>
<rect x="137.06" y="81.35" width="5.06" height="9.20" fill="#3b6cf6"/>
<rect x="141.82" y="81.35" width="5.06" height="9.20" fill="#4751f1"/>
<rect x="146.58" y="81.35" width="5.06" height="9.20" fill="#4441d7"/>
<rect x="151.34" y="81.35" width="5.06" height="9.20" fill="#4238c7"/>
<rect x="156.10" y="81.35" width="5.06" height="9.20" fill="#4133bf"/>
<rect x="160.86" y="81.35" width="5.06" height="9.20" fill="#4031bb"/>
<rect x="165.62" y="81.35" width="5.06" height="9.20" fill="#4030b9"/>
<rect x="170.38" y="81.35" width="5.06" height="9.20" fill="#4030b9"/>
<rect x="175.14" y="81.35" width="5.06" height="9.20" fill="#4030b8"/>
<rect x="179.90" y="81.35" width="5.06" height="9.20" fill="#4030b8"/>
<rect x="184.66" y="81.35" width="5.06" height="9.20" fill="#4030b8"/>
<rect x="189.42" y="81.35" width="4.88" height="9.20" fill="#4030b8"/>
<rect x="0.00" y="90.25" width="4.08" height="9.20" fill="#4030b8"/>
<rect x="3.78" y="90.25" width="5.06" height="9.20" fill="#4030b8"/>
<rect x="8.54" y="90.25" width="5.06" height="9.20" fill="#4030b8"/>
<rect x="13.30" y="90.25" width="5.06" height="9.20" fill="#4030b8"/>
<rect x="18.06" y="90.25" width="5.06" height="9.20" fill="#4030b9"/>
<rect x="22.82" y="90.25" width="5.06" height="9.20" fill="#4030b9"/>
<rect x="27.58" y="90.25" width="5.06" height="9.20" fill="#4031bb"/>
<rect x="32.34" y="90.25" width="5.06" height="9.20" fill="#4133bd"/>
<rect x="37.10" y="90.25" width="5.06" height="9.20" fill="#4136c3"/>
<rect x="41.86" y="90.25" width="5.06" height="9.20" fill="#423bcd"/>
<rect x="46.62" y="90.25" width="5.06" height="9.20" fill="#4545dd"/>
<rect x="51.38" y="90.25" width="5.06" height="9.20" fill="#4753f4"/>
<rect x="56.14" y="90.25" width="5.06" height="9.20" fill="#3b6cf6"/>
<rect x="60.90" y="90.25" width="5.06" height="9.20" fill="#2b8bf4"/>
<rect x="65.66" y="90.25" width="5.06" height="9.20" fill="#16aadb"/>
<rect x="70.42" y="90.25" width="5.06" height="9.20" fill="#2bc1ac"/>
<rect x="75.18" y="90.25" width="5.06" height="9.20" fill="#75c764"/>
<rect x="79.94" y="90.25" width="5.06" height="9.20" fill="#c8c639"/>
<rect x="84.70" y="90.25" width="5.06" height="9.20" fill="#fec637"/>
<rect x="89.46" y="90.25" width="5.06" height="9.20" fill="#fbe224"/>
<rect x="94.22" y="90.25" width="5.06" height="9.20" fill="#faf319"/>
<rect x="98.98" y="90.25" width="5.06" height="9.20" fill="#f9fa15"/>
<rect x="103.74" y="90.25" width="5.06" height="9.20" fill="#f9fa15"/>
<rect x="108.50" y="90.25" width="5.06" height="9.20" fill="#faf01b"/>
<rect x="113.26" y="90.25" width="5.06" height="9.20" fill="#fcd72b"/>
<rect x="118.02" y="90.25" width="5.06" height="9.20" fill="#e1c538"/>
<rect x="122.78" y="90.25" width="5.06" height="9.20" fill="#8cc752"/>
<rect x="127.54" y="90.25" width="5.06" height="9.20" fill="#2dc2a9"/>
<rect x="132.30" y="90.25" width="5.06" height="9.20" fill="#19a6de"/>
<rect x="137.06" y="90.25" width="5.06" height="9.20" fill="#3082f7"/>
<rect x="141.82" y="90.25" width="5.06" height="9.20" fill="#4160f5"/>
<rect x="146.58" y="90.25" width="5.06" height="9.20" fill="#4649e5"/>
<rect x="151.34" y="90.25" width="5.06" height="9.20" fill="#433dcf"/>
<rect x="156.10" y="90.25" width="5.06" height="9.20" fill="#4136c3"/>
<rect x="160.86" y="90.25" width="5.06" height="9.20" fill="#4032bd"/>
<rect x="165.62" y="90.25" width="5.06" height="9.20" fill="#4031ba"/>
<rect x="170.38" y="90.25" width="5.06" height="9.20" fill="#4030b9"/>
<rect x="175.14" y="90.25" width="5.06" height="9.20" fill="#4030b8"/>
<rect x="179.90" y="90.25" width="5.06" height="9.20" fill="#4030b8"/>
<rect x="184.66" y="90.25" width="5.06" height="9.20" fill="#4030b8"/>
<rect x="189.42" y="90.25" width="4.88" height="9.20" fill="#4030b8"/>
<rect x="0.00" y="99.15" width="4.08" height="9.20" fill="#4030b8"/>
<rect x="3.78" y="99.15" width="5.06" height="9.20" fill="#4030b8"/>
<rect x="8.54" y="99.15" width="5.06" height="9.20" fill="#4030b8"/>
<rect x="13.30" y="99.15" width="5.06" height="9.20" fill="#4030b8"/>
<rect x="18.06" y="99.15" width="5.06" height="9.20" fill="#4030b9"/>
<rect x="22.82" y="99.15" width="5.06" height="9.20" fill="#4030b9"/>
<rect x="27.58" y="99.15" width="5.06" height="9.20" fill="#4031ba"/>
<rect x="32.34" y="99.15" width="5.06" height="9.20" fill="#4032bd"/>
<rect x="37.10" y="99.15" width="5.06" height="9.20" fill="#4135c1"/>
<rect x="41.86" y="99.15" width="5.06" height="9.20" fill="#423aca"/>
<rect x="46.62" y="99.15" width="5.06" height="9.20" fill="#4442d8"/>
<rect x="51.38" y="99.15" width="5.06" height="9.20" fill="#474eee"/>
<rect x="56.14" y="99.15" width="5.06" height="9.20" fill="#3f63f5"/>
<rect x="60.90" y="99.15" width="5.06" height="9.20" fill="#317ff7"/>
<rect x="65.66" y="99.15" width="5.06" height="9.20" fill="#1f9de6"/>
<rect x="70.42" y="99.15" width="5.06" height="9.20" fill="#1bb7c6"/>
<rect x="75.18" y="99.15" width="5.06" height="9.20" fill="#3ac895"/>
<rect x="79.94" y="99.15" width="5.06" height="9.20" fill="#8ec751"/>
<rect x="84.70" y="99.15" width="5.06" height="9.20" fill="#cac539"/>
<rect x="89.46" y="99.15" width="5.06" height="9.20" fill="#f1c438"/>
<rect x="94.22" y="99.15" width="5.06" height="9.20" fill="#feca34"/>
<rect x="98.98" y="99.15" width="5.06" height="9.20" fill="#fdd12f"/>
<rect x="103.74" y="99.15" width="5.06" height="9.20" fill="#fdd12f"/>
<rect x="108.50" y="99.15" width="5.06" height="9.20" fill="#fec935"/>
<rect x="113.26" y="99.15" width="5.06" height="9.20" fill="#e6c438"/>
<rect x="118.02" y="99.15" width="5.06" height="9.20" fill="#b2c639"/>
<rect x="122.78" y="99.15" width="5.06" height="9.20" fill="#57c87d"/>
<rect x="127.54" y="99.15" width="5.06" height="9.20" fill="#20babe"/>
<rect x="132.30" y="99.15" width="5.06" height="9.20" fill="#1f9ce6"/>
<rect x="137.06" y="99.15" width="5.06" height="9.20" fill="#347af6"/>
<rect x="141.82" y="99.15" width="5.06" height="9.20" fill="#435bf5"/>
<rect x="146.58" y="99.15" width="5.06" height="9.20" fill="#4547e1"/>
<rect x="151.34" y="99.15" width="5.06" height="9.20" fill="#433ccd"/>
<rect x="156.10" y="99.15" width="5.06" height="9.20" fill="#4135c2"/>
<rect x="160.86" y="99.15" width="5.06" height="9.20" fill="#4032bd"/>
<rect x="165.62" y="99.15" width="5.06" height="9.20" fill="#4031ba"/>
<rect x="170.38" y="99.15" width="5.06" height="9.20" fill="#4030b9"/>
<rect x="175.14" y="99.15" width="5.06" height="9.20" fill="#4030b8"/>
<rect x="179.90" y="99.15" width="5.06" height="9.20" fill="#4030b8"/>
<rect x="184.66" y="99.15" width="5.06" height="9.20" fill="#4030b8"/>
<rect x="189.42" y="99.15" width="4.88" height="9.20" fill="#4030b8"/>
<rect x="0.00" y="108.05" width="4.08" height="9.20" fill="#4030b8"/>
<rect x="3.78" y="108.05" width="5.06" height="9.20" fill="#4030b8"/>
<rect x="8.54" y="108.05" width="5.06" height="9.20" fill="#4030b8"/>
<rect x="13.30" y="108.05" width="5.06" height="9.20" fill="#4030b8"/>
<rect x="18.06" y="108.05" width="5.06" height="9.20" fill="#4030b9"/>
<rect x="22.82" y="108.05" width="5.06" height="9.20" fill="#4030b9"/>
<rect x="27.58" y="108.05" width="5.06" height="9.20" fill="#4031bb"/>
<rect x="32.34" y="108.05" width="5.06" height="9.20" fill="#4032bd"/>
<rect x="37.10" y="108.05" width="5.06" height="9.20" fill="#4135c2"/>
<rect x="41.86" y="108.05" width="5.06" height="9.20" fill="#423aca"/>
<rect x="46.62" y="108.05" width="5.06" height="9.20" fill="#4441d7"/>
<rect x="51.38" y="108.05" width="5.06" height="9.20" fill="#464cea"/>
<rect x="56.14" y="108.05" width="5.06" height="9.20" fill="#425df5"/>
<rect x="60.90" y="108.05" width="5.06" height="9.20" fill="#3774f6"/>
<rect x="65.66" y="108.05" width="5.06" height="9.20" fill="#2a8df2"/>
<rect x="70.42" y="108.05" width="5.06" height="9.20" fill="#1aa4e0"/>
<rect x="75.18" y="108.05" width="5.06" height="9.20" fill="#1bb7c6"/>
<rect x="79.94" y="108.05" width="5.06" height="9.20" fill="#2ec3a6"/>
<rect x="84.70" y="108.05" width="5.06" height="9.20" fill="#4ec885"/>
<rect x="89.46" y="108.05" width="5.06" height="9.20" fill="#73c766"/>
<rect x="94.22" y="108.05" width="5.06" height="9.20" fill="#8bc753"/>
<rect x="98.98" y="108.05" width="5.06" height="9.20" fill="#95c74b"/>
<rect x="103.74" y="108.05" width="5.06" height="9.20" fill="#97c749"/>
<rect x="108.50" y="108.05" width="5.06" height="9.20" fill="#94c74c"/>
<rect x="113.26" y="108.05" width="5.06" height="9.20" fill="#86c757"/>
<rect x="118.02" y="108.05" width="5.06" height="9.20" fill="#6bc76d"/>
<rect x="122.78" y="108.05" width="5.06" height="9.20" fill="#42c88f"/>
<rect x="127.54" y="108.05" width="5.06" height="9.20" fill="#29c0ae"/>
<rect x="132.30" y="108.05" width="5.06" height="9.20" fill="#16b4cf"/>
<rect x="137.06" y="108.05" width="5.06" height="9.20" fill="#1e9ee5"/>
<rect x="141.82" y="108.05" width="5.06" height="9.20" fill="#2d87f7"/>
<rect x="146.58" y="108.05" width="5.06" height="9.20" fill="#3a6df6"/>
<rect x="151.34" y="108.05" width="5.06" height="9.20" fill="#4558f5"/>
<rect x="156.10" y="108.05" width="5.06" height="9.20" fill="#4649e4"/>
<rect x="160.86" y="108.05" width="5.06" height="9.20" fill="#433fd3"/>
<rect x="165.62" y="108.05" width="5.06" height="9.20" fill="#4238c8"/>
<rect x="170.38" y="108.05" width="5.06" height="9.20" fill="#4134c0"/>
<rect x="175.14" y="108.05" width="5.06" height="9.20" fill="#4032bc"/>
<rect x="179.90" y="108.05" width="5.06" height="9.20" fill="#4031ba"/>
<rect x="184.66" y="108.05" width="5.06" height="9.20" fill="#4030b9"/>
<rect x="189.42" y="108.05" width="4.88" height="9.20" fill="#4030b9"/>
<rect x="0.00" y="116.95" width="4.08" height="9.20" fill="#4030b8"/>
<rect x="3.78" y="116.95" width="5.06" height="9.20" fill="#4030b8"/>
<rect x="8.54" y="116.95" width="5.06" height="9.20" fill="#4030b9"/>
<rect x="13.30" y="116.95" width="5.06" height="9.20" fill="#4030b9"/>
<rect x="18.06" y="116.95" width="5.06" height="9.20" fill="#4031ba"/>
<rect x="22.82" y="116.95" width="5.06" height="9.20" fill="#4032bc"/>
<rect x="27.58" y="116.95" width="5.06" height="9.20" fill="#4133bf"/>
<rect x="32.34" y="116.95" width="5.06" height="9.20" fill="#4136c3"/>
<rect x="37.10" y="116.95" width="5.06" height="9.20" fill="#423aca"/>
<rect x="41.86" y="116.95" width="5.06" height="9.20" fill="#4340d4"/>
<rect x="46.62" y="116.95" width="5.06" height="9.20" fill="#4548e2"/>
<rect x="51.38" y="116.95" width="5.06" height="9.20" fill="#4852f4"/>
<rect x="56.14" y="116.95" width="5.06" height="9.20" fill="#4161f5"/>
<rect x="60.90" y="116.95" width="5.06" height="9.20" fill="#3871f6"/>
<rect x="65.66" y="116.95" width="5.06" height="9.20" fill="#2f83f7"/>
<rect x="70.42" y="116.95" width="5.06" height="9.20" fill="#2693ee"/>
<rect x="75.18" y="116.95" width="5.06" height="9.20" fill="#1ca1e3"/>
<rect x="79.94" y="116.95" width="5.06" height="9.20" fill="#14add9"/>
<rect x="84.70" y="116.95" width="5.06" height="9.20" fill="#17b4ce"/>
<rect x="89.46" y="116.95" width="5.06" height="9.20" fill="#1db8c3"/>
<rect x="94.22" y="116.95" width="5.06" height="9.20" fill="#21bbbc"/>
<rect x="98.98" y="116.95" width="5.06" height="9.20" fill="#23bcb9"/>
<rect x="103.74" y="116.95" width="5.06" height="9.20" fill="#23bcb8"/>
<rect x="108.50" y="116.95" width="5.06" height="9.20" fill="#23bcba"/>
<rect x="113.26" y="116.95" width="5.06" height="9.20" fill="#20babd"/>
<rect x="118.02" y="116.95" width="5.06" height="9.20" fill="#1cb7c5"/>
<rect x="122.78" y="116.95" width="5.06" height="9.20" fill="#15b3d1"/>
<rect x="127.54" y="116.95" width="5.06" height="9.20" fill="#16aadc"/>
<rect x="132.30" y="116.95" width="5.06" height="9.20" fill="#1f9de6"/>
<rect x="137.06" y="116.95" width="5.06" height="9.20" fill="#288ff1"/>
<rect x="141.82" y="116.95" width="5.06" height="9.20" fill="#327ff6"/>
<rect x="146.58" y="116.95" width="5.06" height="9.20" fill="#3a6df6"/>
<rect x="151.34" y="116.95" width="5.06" height="9.20" fill="#435df5"/>
<rect x="156.10" y="116.95" width="5.06" height="9.20" fill="#474fef"/>
<rect x="160.86" y="116.95" width="5.06" height="9.20" fill="#4545de"/>
<rect x="165.62" y="116.95" width="5.06" height="9.20" fill="#433ed1"/>
<rect x="170.38" y="116.95" width="5.06" height="9.20" fill="#4239c8"/>
<rect x="175.14" y="116.95" width="5.06" height="9.20" fill="#4135c2"/>
<rect x="179.90" y="116.95" width="5.06" height="9.20" fill="#4133be"/>
<rect x="184.66" y="116.95" width="5.06" height="9.20" fill="#4031bb"/>
<rect x="189.42" y="116.95" width="4.88" height="9.20" fill="#4030ba"/>
<rect x="0.00" y="125.85" width="4.08" height="9.20" fill="#4030b8"/>
<rect x="3.78" y="125.85" width="5.06" height="9.20" fill="#4030b8"/>
<rect x="8.54" y="125.85" width="5.06" height="9.20" fill="#4030b9"/>
<rect x="13.30" y="125.85" width="5.06" height="9.20" fill="#4030b9"/>
<rect x="18.06" y="125.85" width="5.06" height="9.20" fill="#4030b9"/>
<rect x="22.82" y="125.85" width="5.06" height="9.20" fill="#4031bb"/>
<rect x="27.58" y="125.85" width="5.06" height="9.20" fill="#4032bd"/>
<rect x="32.34" y="125.85" width="5.06" height="9.20" fill="#4135c1"/>
<rect x="37.10" y="125.85" width="5.06" height="9.20" fill="#4238c7"/>
<rect x="41.86" y="125.85" width="5.06" height="9.20" fill="#433dcf"/>
<rect x="46.62" y="125.85" width="5.06" height="9.20" fill="#4443da"/>
<rect x="51.38" y="125.85" width="5.06" height="9.20" fill="#464be7"/>
<rect x="56.14" y="125.85" width="5.06" height="9.20" fill="#4754f4"/>
<rect x="60.90" y="125.85" width="5.06" height="9.20" fill="#425ef5"/>
<rect x="65.66" y="125.85" width="5.06" height="9.20" fill="#3d69f5"/>
<rect x="70.42" y="125.85" width="5.06" height="9.20" fill="#3872f6"/>
<rect x="75.18" y="125.85" width="5.06" height="9.20" fill="#347af6"/>
<rect x="79.94" y="125.85" width="5.06" height="9.20" fill="#3180f7"/>
<rect x="84.70" y="125.85" width="5.06" height="9.20" fill="#2f85f7"/>
<rect x="89.46" y="125.85" width="5.06" height="9.20" fill="#2d87f7"/>
<rect x="94.22" y="125.85" width="5.06" height="9.20" fill="#2d88f6"/>
<rect x="98.98" y="125.85" width="5.06" height="9.20" fill="#2c89f6"/>
<rect x="103.74" y="125.85" width="5.06" height="9.20" fill="#2c89f5"/>
<rect x="108.50" y="125.85" width="5.06" height="9.20" fill="#2c89f6"/>
<rect x="113.26" y="125.85" width="5.06" height="9.20" fill="#2d88f6"/>
<rect x="118.02" y="125.85" width="5.06" height="9.20" fill="#2e87f7"/>
<rect x="122.78" y="125.85" width="5.06" height="9.20" fill="#2f84f7"/>
<rect x="127.54" y="125.85" width="5.06" height="9.20" fill="#327ff6"/>
<rect x="132.30" y="125.85" width="5.06" height="9.20" fill="#3578f6"/>
<rect x="137.06" y="125.85" width="5.06" height="9.20" fill="#3970f6"/>
<rect x="141.82" y="125.85" width="5.06" height="9.20" fill="#3e66f5"/>
<rect x="146.58" y="125.85" width="5.06" height="9.20" fill="#435cf5"/>
<rect x="151.34" y="125.85" width="5.06" height="9.20" fill="#4751f2"/>
<rect x="156.10" y="125.85" width="5.06" height="9.20" fill="#4649e4"/>
<rect x="160.86" y="125.85" width="5.06" height="9.20" fill="#4441d7"/>
<rect x="165.62" y="125.85" width="5.06" height="9.20" fill="#433ccd"/>
<rect x="170.38" y="125.85" width="5.06" height="9.20" fill="#4237c5"/>
<rect x="175.14" y="125.85" width="5.06" height="9.20" fill="#4134c0"/>
<rect x="179.90" y="125.85" width="5.06" height="9.20" fill="#4032bc"/>
<rect x="184.66" y="125.85" width="5.06" height="9.20" fill="#4031ba"/>
<rect x="189.42" y="125.85" width="4.88" height="9.20" fill="#4030b9"/>
<rect x="0.00" y="134.75" width="4.08" height="9.20" fill="#4030b8"/>
<rect x="3.78" y="134.75" width="5.06" height="9.20" fill="#4030b8"/>
<rect x="8.54" y="134.75" width="5.06" height="9.20" fill="#4030b8"/>
<rect x="13.30" y="134.75" width="5.06" height="9.20" fill="#4030b9"/>
<rect x="18.06" y="134.75" width="5.06" height="9.20" fill="#4030b9"/>
<rect x="22.82" y="134.75" width="5.06" height="9.20" fill="#4030b9"/>
<rect x="27.58" y="134.75" width="5.06" height="9.20" fill="#4031ba"/>
<rect x="32.34" y="134.75" width="5.06" height="9.20" fill="#4032bc"/>
<rect x="37.10" y="134.75" width="5.06" height="9.20" fill="#4133bf"/>
<rect x="41.86" y="134.75" width="5.06" height="9.20" fill="#4136c3"/>
<rect x="46.62" y="134.75" width="5.06" height="9.20" fill="#4238c7"/>
<rect x="51.38" y="134.75" width="5.06" height="9.20" fill="#433ccd"/>
<rect x="56.14" y="134.75" width="5.06" height="9.20" fill="#4340d4"/>
<rect x="60.90" y="134.75" width="5.06" height="9.20" fill="#4443db"/>
<rect x="65.66" y="134.75" width="5.06" height="9.20" fill="#4547e1"/>
<rect x="70.42" y="134.75" width="5.06" height="9.20" fill="#464be7"/>
<rect x="75.18" y="134.75" width="5.06" height="9.20" fill="#474eec"/>
<rect x="79.94" y="134.75" width="5.06" height="9.20" fill="#4750f0"/>
<rect x="84.70" y="134.75" width="5.06" height="9.20" fill="#4852f3"/>
<rect x="89.46" y="134.75" width="5.06" height="9.20" fill="#4753f4"/>
<rect x="94.22" y="134.75" width="5.06" height="9.20" fill="#4753f4"/>
<rect x="98.98" y="134.75" width="5.06" height="9.20" fill="#4754f4"/>
<rect x="103.74" y="134.75" width="5.06" height="9.20" fill="#4754f4"/>
<rect x="108.50" y="134.75" width="5.06" height="9.20" fill="#4754f4"/>
<rect x="113.26" y="134.75" width="5.06" height="9.20" fill="#4753f4"/>
<rect x="118.02" y="134.75" width="5.06" height="9.20" fill="#4853f4"/>
<rect x="122.78" y="134.75" width="5.06" height="9.20" fill="#4751f3"/>
<rect x="127.54" y="134.75" width="5.06" height="9.20" fill="#4750ef"/>
<rect x="132.30" y="134.75" width="5.06" height="9.20" fill="#464deb"/>
<rect x="137.06" y="134.75" width="5.06" height="9.20" fill="#464ae6"/>
<rect x="141.82" y="134.75" width="5.06" height="9.20" fill="#4546e0"/>
<rect x="146.58" y="134.75" width="5.06" height="9.20" fill="#4442d9"/>
<rect x="151.34" y="134.75" width="5.06" height="9.20" fill="#433fd2"/>
<rect x="156.10" y="134.75" width="5.06" height="9.20" fill="#423bcc"/>
<rect x="160.86" y="134.75" width="5.06" height="9.20" fill="#4238c6"/>
<rect x="165.62" y="134.75" width="5.06" height="9.20" fill="#4135c1"/>
<rect x="170.38" y="134.75" width="5.06" height="9.20" fill="#4133be"/>
<rect x="175.14" y="134.75" width="5.06" height="9.20" fill="#4032bc"/>
<rect x="179.90" y="134.75" width="5.06" height="9.20" fill="#4031ba"/>
<rect x="184.66" y="134.75" width="5.06" height="9.20" fill="#4030b9"/>
<rect x="189.42" y="134.75" width="4.88" height="9.20" fill="#4030b9"/>
<rect x="0.00" y="143.65" width="4.08" height="9.20" fill="#4030b8"/>
<rect x="3.78" y="143.65" width="5.06" height="9.20" fill="#4030b8"/>
<rect x="8.54" y="143.65" width="5.06" height="9.20" fill="#4030b8"/>
<rect x="13.30" y="143.65" width="5.06" height="9.20" fill="#4030b8"/>
<rect x="18.06" y="143.65" width="5.06" height="9.20" fill="#4030b9"/>
<rect x="22.82" y="143.65" width="5.06" height="9.20" fill="#4030b9"/>
<rect x="27.58" y="143.65" width="5.06" height="9.20" fill="#4030b9"/>
<rect x="32.34" y="143.65" width="5.06" height="9.20" fill="#4030b9"/>
<rect x="37.10" y="143.65" width="5.06" height="9.20" fill="#4031ba"/>
<rect x="41.86" y="143.65" width="5.06" height="9.20" fill="#4031bb"/>
<rect x="46.62" y="143.65" width="5.06" height="9.20" fill="#4032bc"/>
<rect x="51.38" y="143.65" width="5.06" height="9.20" fill="#4032bd"/>
<rect x="56.14" y="143.65" width="5.06" height="9.20" fill="#4133bf"/>
<rect x="60.90" y="143.65" width="5.06" height="9.20" fill="#4134c1"/>
<rect x="65.66" y="143.65" width="5.06" height="9.20" fill="#4136c3"/>
<rect x="70.42" y="143.65" width="5.06" height="9.20" fill="#4237c5"/>
<rect x="75.18" y="143.65" width="5.06" height="9.20" fill="#4239c8"/>
<rect x="79.94" y="143.65" width="5.06" height="9.20" fill="#423bcb"/>
<rect x="84.70" y="143.65" width="5.06" height="9.20" fill="#433cce"/>
<rect x="89.46" y="143.65" width="5.06" height="9.20" fill="#433ed1"/>
<rect x="94.22" y="143.65" width="5.06" height="9.20" fill="#433fd3"/>
<rect x="98.98" y="143.65" width="5.06" height="9.20" fill="#4440d5"/>
<rect x="103.74" y="143.65" width="5.06" height="9.20" fill="#4441d7"/>
<rect x="108.50" y="143.65" width="5.06" height="9.20" fill="#4441d7"/>
<rect x="113.26" y="143.65" width="5.06" height="9.20" fill="#4441d7"/>
<rect x="118.02" y="143.65" width="5.06" height="9.20" fill="#4441d6"/>
<rect x="122.78" y="143.65" width="5.06" height="9.20" fill="#4340d4"/>
<rect x="127.54" y="143.65" width="5.06" height="9.20" fill="#433fd2"/>
<rect x="132.30" y="143.65" width="5.06" height="9.20" fill="#433dd0"/>
<rect x="137.06" y="143.65" width="5.06" height="9.20" fill="#423bcd"/>
<rect x="141.82" y="143.65" width="5.06" height="9.20" fill="#423aca"/>
<rect x="146.58" y="143.65" width="5.06" height="9.20" fill="#4238c7"/>
<rect x="151.34" y="143.65" width="5.06" height="9.20" fill="#4136c4"/>
<rect x="156.10" y="143.65" width="5.06" height="9.20" fill="#4135c2"/>
<rect x="160.86" y="143.65" width="5.06" height="9.20" fill="#4134c0"/>
<rect x="165.62" y="143.65" width="5.06" height="9.20" fill="#4133be"/>
<rect x="170.38" y="143.65" width="5.06" height="9.20" fill="#4032bc"/>
<rect x="175.14" y="143.65" width="5.06" height="9.20" fill="#4031bb"/>
<rect x="179.90" y="143.65" width="5.06" height="9.20" fill="#4031ba"/>
<rect x="184.66" y="143.65" width="5.06" height="9.20" fill="#4030ba"/>
<rect x="189.42" y="143.65" width="4.88" height="9.20" fill="#4030b9"/>
<rect x="0.00" y="152.55" width="4.08" height="9.20" fill="#4030b8"/>
<rect x="3.78" y="152.55" width="5.06" height="9.20" fill="#4030b8"/>
<rect x="8.54" y="152.55" width="5.06" height="9.20" fill="#4030b8"/>
<rect x="13.30" y="152.55" width="5.06" height="9.20" fill="#4030b8"/>
<rect x="18.06" y="152.55" width="5.06" height="9.20" fill="#4030b8"/>
<rect x="22.82" y="152.55" width="5.06" height="9.20" fill="#4030b8"/>
<rect x="27.58" y="152.55" width="5.06" height="9.20" fill="#4030b8"/>
<rect x="32.34" y="152.55" width="5.06" height="9.20" fill="#4030b8"/>
<rect x="37.10" y="152.55" width="5.06" height="9.20" fill="#4030b9"/>
<rect x="41.86" y="152.55" width="5.06" height="9.20" fill="#4030b9"/>
<rect x="46.62" y="152.55" width="5.06" height="9.20" fill="#4030b9"/>
<rect x="51.38" y="152.55" width="5.06" height="9.20" fill="#4031ba"/>
<rect x="56.14" y="152.55" width="5.06" height="9.20" fill="#4031bc"/>
<rect x="60.90" y="152.55" width="5.06" height="9.20" fill="#4133be"/>
<rect x="65.66" y="152.55" width="5.06" height="9.20" fill="#4134c1"/>
<rect x="70.42" y="152.55" width="5.06" height="9.20" fill="#4137c5"/>
<rect x="75.18" y="152.55" width="5.06" height="9.20" fill="#423aca"/>
<rect x="79.94" y="152.55" width="5.06" height="9.20" fill="#433ed1"/>
<rect x="84.70" y="152.55" width="5.06" height="9.20" fill="#4442d9"/>
<rect x="89.46" y="152.55" width="5.06" height="9.20" fill="#4547e1"/>
<rect x="94.22" y="152.55" width="5.06" height="9.20" fill="#464ce9"/>
<rect x="98.98" y="152.55" width="5.06" height="9.20" fill="#474fef"/>
<rect x="103.74" y="152.55" width="5.06" height="9.20" fill="#4852f4"/>
<rect x="108.50" y="152.55" width="5.06" height="9.20" fill="#4754f4"/>
<rect x="113.26" y="152.55" width="5.06" height="9.20" fill="#4753f4"/>
<rect x="118.02" y="152.55" width="5.06" height="9.20" fill="#4751f2"/>
<rect x="122.78" y="152.55" width="5.06" height="9.20" fill="#474eec"/>
<rect x="127.54" y="152.55" width="5.06" height="9.20" fill="#4649e5"/>
<rect x="132.30" y="152.55" width="5.06" height="9.20" fill="#4545dd"/>
<rect x="137.06" y="152.55" width="5.06" height="9.20" fill="#4440d5"/>
<rect x="141.82" y="152.55" width="5.06" height="9.20" fill="#433ccd"/>
<rect x="146.58" y="152.55" width="5.06" height="9.20" fill="#4238c7"/>
<rect x="151.34" y="152.55" width="5.06" height="9.20" fill="#4136c3"/>
<rect x="156.10" y="152.55" width="5.06" height="9.20" fill="#4133bf"/>
<rect x="160.86" y="152.55" width="5.06" height="9.20" fill="#4032bc"/>
<rect x="165.62" y="152.55" width="5.06" height="9.20" fill="#4031bb"/>
<rect x="170.38" y="152.55" width="5.06" height="9.20" fill="#4030ba"/>
<rect x="175.14" y="152.55" width="5.06" height="9.20" fill="#4030b9"/>
<rect x="179.90" y="152.55" width="5.06" height="9.20" fill="#4030b9"/>
<rect x="184.66" y="152.55" width="5.06" height="9.20" fill="#4030b8"/>
<rect x="189.42" y="152.55" width="4.88" height="9.20" fill="#4030b8"/>
<rect x="0.00" y="161.45" width="4.08" height="9.20" fill="#4030b8"/>
<rect x="3.78" y="161.45" width="5.06" height="9.20" fill="#4030b8"/>
<rect x="8.54" y="161.45" width="5.06" height="9.20" fill="#4030b8"/>
<rect x="13.30" y="161.45" width="5.06" height="9.20" fill="#4030b8"/>
<rect x="18.06" y="161.45" width="5.06" height="9.20" fill="#4030b8"/>
<rect x="22.82" y="161.45" width="5.06" height="9.20" fill="#4030b8"/>
<rect x="27.58" y="161.45" width="5.06" height="9.20" fill="#4030b8"/>
<rect x="32.34" y="161.45" width="5.06" height="9.20" fill="#4030b8"/>
<rect x="37.10" y="161.45" width="5.06" height="9.20" fill="#4030b9"/>
<rect x="41.86" y="161.45" width="5.06" height="9.20" fill="#4030b9"/>
<rect x="46.62" y="161.45" width="5.06" height="9.20" fill="#4030ba"/>
<rect x="51.38" y="161.45" width="5.06" height="9.20" fill="#4031bb"/>
<rect x="56.14" y="161.45" width="5.06" height="9.20" fill="#4032bc"/>
<rect x="60.90" y="161.45" width="5.06" height="9.20" fill="#4133bf"/>
<rect x="65.66" y="161.45" width="5.06" height="9.20" fill="#4136c3"/>
<rect x="70.42" y="161.45" width="5.06" height="9.20" fill="#4239c8"/>
<rect x="75.18" y="161.45" width="5.06" height="9.20" fill="#433dcf"/>
<rect x="79.94" y="161.45" width="5.06" height="9.20" fill="#4442d7"/>
<rect x="84.70" y="161.45" width="5.06" height="9.20" fill="#4547e1"/>
<rect x="89.46" y="161.45" width="5.06" height="9.20" fill="#464deb"/>
<rect x="94.22" y="161.45" width="5.06" height="9.20" fill="#4753f4"/>
<rect x="98.98" y="161.45" width="5.06" height="9.20" fill="#4558f5"/>
<rect x="103.74" y="161.45" width="5.06" height="9.20" fill="#435cf5"/>
<rect x="108.50" y="161.45" width="5.06" height="9.20" fill="#425ef5"/>
<rect x="113.26" y="161.45" width="5.06" height="9.20" fill="#425ef5"/>
<rect x="118.02" y="161.45" width="5.06" height="9.20" fill="#445bf5"/>
<rect x="122.78" y="161.45" width="5.06" height="9.20" fill="#4656f4"/>
<rect x="127.54" y="161.45" width="5.06" height="9.20" fill="#4750f0"/>
<rect x="132.30" y="161.45" width="5.06" height="9.20" fill="#464ae6"/>
<rect x="137.06" y="161.45" width="5.06" height="9.20" fill="#4444dc"/>
<rect x="141.82" y="161.45" width="5.06" height="9.20" fill="#433fd3"/>
<rect x="146.58" y="161.45" width="5.06" height="9.20" fill="#423bcb"/>
<rect x="151.34" y="161.45" width="5.06" height="9.20" fill="#4237c5"/>
<rect x="156.10" y="161.45" width="5.06" height="9.20" fill="#4134c1"/>
<rect x="160.86" y="161.45" width="5.06" height="9.20" fill="#4133bd"/>
<rect x="165.62" y="161.45" width="5.06" height="9.20" fill="#4031bb"/>
<rect x="170.38" y="161.45" width="5.06" height="9.20" fill="#4031ba"/>
<rect x="175.14" y="161.45" width="5.06" height="9.20" fill="#4030b9"/>
<rect x="179.90" y="161.45" width="5.06" height="9.20" fill="#4030b9"/>
<rect x="184.66" y="161.45" width="5.06" height="9.20" fill="#4030b9"/>
<rect x="189.42" y="161.45" width="4.88" height="9.20" fill="#4030b8"/>
<rect x="0.00" y="170.35" width="4.08" height="9.20" fill="#4030b8"/>
<rect x="3.78" y="170.35" width="5.06" height="9.20" fill="#4030b8"/>
<rect x="8.54" y="170.35" width="5.06" height="9.20" fill="#4030b8"/>
<rect x="13.30" y="170.35" width="5.06" height="9.20" fill="#4030b8"/>
<rect x="18.06" y="170.35" width="5.06" height="9.20" fill="#4030b8"/>
<rect x="22.82" y="170.35" width="5.06" height="9.20" fill="#4030b8"/>
<rect x="27.58" y="170.35" width="5.06" height="9.20" fill="#4030b8"/>
<rect x="32.34" y="170.35" width="5.06" height="9.20" fill="#4030b9"/>
<rect x="37.10" y="170.35" width="5.06" height="9.20" fill="#4030b9"/>
<rect x="41.86" y="170.35" width="5.06" height="9.20" fill="#4030b9"/>
<rect x="46.62" y="170.35" width="5.06" height="9.20" fill="#4030ba"/>
<rect x="51.38" y="170.35" width="5.06" height="9.20" fill="#4031bb"/>
<rect x="56.14" y="170.35" width="5.06" height="9.20" fill="#4032bd"/>
<rect x="60.90" y="170.35" width="5.06" height="9.20" fill="#4134c0"/>
<rect x="65.66" y="170.35" width="5.06" height="9.20" fill="#4137c5"/>
<rect x="70.42" y="170.35" width="5.06" height="9.20" fill="#423bcb"/>
<rect x="75.18" y="170.35" width="5.06" height="9.20" fill="#433fd4"/>
<rect x="79.94" y="170.35" width="5.06" height="9.20" fill="#4545de"/>
<rect x="84.70" y="170.35" width="5.06" height="9.20" fill="#464ce9"/>
<rect x="89.46" y="170.35" width="5.06" height="9.20" fill="#4753f4"/>
<rect x="94.22" y="170.35" width="5.06" height="9.20" fill="#435bf5"/>
<rect x="98.98" y="170.35" width="5.06" height="9.20" fill="#4062f5"/>
<rect x="103.74" y="170.35" width="5.06" height="9.20" fill="#3d67f5"/>
<rect x="108.50" y="170.35" width="5.06" height="9.20" fill="#3c69f5"/>
<rect x="113.26" y="170.35" width="5.06" height="9.20" fill="#3d68f5"/>
<rect x="118.02" y="170.35" width="5.06" height="9.20" fill="#3f65f5"/>
<rect x="122.78" y="170.35" width="5.06" height="9.20" fill="#425ff5"/>
<rect x="127.54" y="170.35" width="5.06" height="9.20" fill="#4557f4"/>
<rect x="132.30" y="170.35" width="5.06" height="9.20" fill="#474fef"/>
<rect x="137.06" y="170.35" width="5.06" height="9.20" fill="#4548e3"/>
<rect x="141.82" y="170.35" width="5.06" height="9.20" fill="#4442d8"/>
<rect x="146.58" y="170.35" width="5.06" height="9.20" fill="#433dcf"/>
<rect x="151.34" y="170.35" width="5.06" height="9.20" fill="#4238c8"/>
<rect x="156.10" y="170.35" width="5.06" height="9.20" fill="#4135c2"/>
<rect x="160.86" y="170.35" width="5.06" height="9.20" fill="#4133be"/>
<rect x="165.62" y="170.35" width="5.06" height="9.20" fill="#4032bc"/>
<rect x="170.38" y="170.35" width="5.06" height="9.20" fill="#4031ba"/>
<rect x="175.14" y="170.35" width="5.06" height="9.20" fill="#4030b9"/>
<rect x="179.90" y="170.35" width="5.06" height="9.20" fill="#4030b9"/>
<rect x="184.66" y="170.35" width="5.06" height="9.20" fill="#4030b9"/>
<rect x="189.42" y="170.35" width="4.88" height="9.20" fill="#4030b8"/>
<rect x="0.00" y="179.25" width="4.08" height="7.75" fill="#4030b8"/>
<rect x="3.78" y="179.25" width="5.06" height="7.75" fill="#4030b8"/>
<rect x="8.54" y="179.25" width="5.06" height="7.75" fill="#4030b8"/>
<rect x="13.30" y="179.25" width="5.06" height="7.75" fill="#4030b8"/>
<rect x="18.06" y="179.25" width="5.06" height="7.75" fill="#4030b8"/>
<rect x="22.82" y="179.25" width="5.06" height="7.75" fill="#4030b8"/>
<rect x="27.58" y="179.25" width="5.06" height="7.75" fill="#4030b8"/>
<rect x="32.34" y="179.25" width="5.06" height="7.75" fill="#4030b9"/>
<rect x="37.10" y="179.25" width="5.06" height="7.75" fill="#4030b9"/>
<rect x="41.86" y="179.25" width="5.06" height="7.75" fill="#4030b9"/>
<rect x="46.62" y="179.25" width="5.06" height="7.75" fill="#4031ba"/>
<rect x="51.38" y="179.25" width="5.06" height="7.75" fill="#4031bb"/>
<rect x="56.14" y="179.25" width="5.06" height="7.75" fill="#4133be"/>
<rect x="60.90" y="179.25" width="5.06" height="7.75" fill="#4135c1"/>
<rect x="65.66" y="179.25" width="5.06" height="7.75" fill="#4238c6"/>
<rect x="70.42" y="179.25" width="5.06" height="7.75" fill="#433ccd"/>
<rect x="75.18" y="179.25" width="5.06" height="7.75" fill="#4441d7"/>
<rect x="79.94" y="179.25" width="5.06" height="7.75" fill="#4548e2"/>
<rect x="84.70" y="179.25" width="5.06" height="7.75" fill="#474fef"/>
<rect x="89.46" y="179.25" width="5.06" height="7.75" fill="#4558f5"/>
<rect x="94.22" y="179.25" width="5.06" height="7.75" fill="#4161f5"/>
<rect x="98.98" y="179.25" width="5.06" height="7.75" fill="#3d68f5"/>
<rect x="103.74" y="179.25" width="5.06" height="7.75" fill="#3a6ef6"/>
<rect x="108.50" y="179.25" width="5.06" height="7.75" fill="#3970f6"/>
<rect x="113.26" y="179.25" width="5.06" height="7.75" fill="#396ff6"/>
<rect x="118.02" y="179.25" width="5.06" height="7.75" fill="#3b6bf6"/>
<rect x="122.78" y="179.25" width="5.06" height="7.75" fill="#3f64f5"/>
<rect x="127.54" y="179.25" width="5.06" height="7.75" fill="#435cf5"/>
<rect x="132.30" y="179.25" width="5.06" height="7.75" fill="#4753f4"/>
<rect x="137.06" y="179.25" width="5.06" height="7.75" fill="#464be8"/>
<rect x="141.82" y="179.25" width="5.06" height="7.75" fill="#4444dc"/>
<rect x="146.58" y="179.25" width="5.06" height="7.75" fill="#433ed1"/>
<rect x="151.34" y="179.25" width="5.06" height="7.75" fill="#4239c9"/>
<rect x="156.10" y="179.25" width="5.06" height="7.75" fill="#4136c3"/>
<rect x="160.86" y="179.25" width="5.06" height="7.75" fill="#4134bf"/>
<rect x="165.62" y="179.25" width="5.06" height="7.75" fill="#4032bc"/>
<rect x="170.38" y="179.25" width="5.06" height="7.75" fill="#4031bb"/>
<rect x="175.14" y="179.25" width="5.06" height="7.75" fill="#4030ba"/>
<rect x="179.90" y="179.25" width="5.06" height="7.75" fill="#4030b9"/>
<rect x="184.66" y="179.25" width="5.06" height="7.75" fill="#4030b9"/>
<rect x="189.42" y="179.25" width="4.88" height="7.75" fill="#4030b8"/>
</svg>
<svg id="ov" width="800" height="530" viewBox="0 0 800 530">
<defs>
<clipPath id="clipC"><rect x="120.0" y="292.7" width="260.7" height="195.9"/></clipPath>
<linearGradient id="cbB" x1="0" y1="0" x2="0" y2="1"><stop offset="0.0000" stop-color="#f9fb0e"/><stop offset="0.0312" stop-color="#f5eb18"/><stop offset="0.0625" stop-color="#f5de21"/><stop offset="0.0938" stop-color="#f9d329"/><stop offset="0.1250" stop-color="#fec932"/><stop offset="0.1562" stop-color="#febf3c"/><stop offset="0.1875" stop-color="#f2b949"/><stop offset="0.2188" stop-color="#e3b951"/><stop offset="0.2500" stop-color="#d3bb58"/><stop offset="0.2812" stop-color="#c2bc5f"/><stop offset="0.3125" stop-color="#b1bd66"/><stop offset="0.3438" stop-color="#9fbe6d"/><stop offset="0.3750" stop-color="#8bbf75"/><stop offset="0.4062" stop-color="#75bf7e"/><stop offset="0.4375" stop-color="#5ebe89"/><stop offset="0.4688" stop-color="#47bb95"/><stop offset="0.5000" stop-color="#33b8a1"/><stop offset="0.5312" stop-color="#21b4ac"/><stop offset="0.5625" stop-color="#13b0b6"/><stop offset="0.5938" stop-color="#09abbf"/><stop offset="0.6250" stop-color="#06a6c7"/><stop offset="0.6562" stop-color="#069fce"/><stop offset="0.6875" stop-color="#0a97d1"/><stop offset="0.7188" stop-color="#118dd2"/><stop offset="0.7500" stop-color="#1484d4"/><stop offset="0.7812" stop-color="#127cd8"/><stop offset="0.8125" stop-color="#0c74dd"/><stop offset="0.8438" stop-color="#046ce0"/><stop offset="0.8750" stop-color="#0462e0"/><stop offset="0.9062" stop-color="#2152d3"/><stop offset="0.9375" stop-color="#3243b9"/><stop offset="0.9688" stop-color="#36369f"/><stop offset="1.0000" stop-color="#352a87"/></linearGradient>
<linearGradient id="cbD" x1="0" y1="0" x2="0" y2="1"><stop offset="0.0000" stop-color="#f9fb15"/><stop offset="0.0312" stop-color="#faef1c"/><stop offset="0.0625" stop-color="#fbe324"/><stop offset="0.0938" stop-color="#fcd62c"/><stop offset="0.1250" stop-color="#feca34"/><stop offset="0.1562" stop-color="#f6c438"/><stop offset="0.1875" stop-color="#e4c438"/><stop offset="0.2188" stop-color="#d2c538"/><stop offset="0.2500" stop-color="#c0c639"/><stop offset="0.2812" stop-color="#aec739"/><stop offset="0.3125" stop-color="#96c74a"/><stop offset="0.3438" stop-color="#7cc75f"/><stop offset="0.3750" stop-color="#63c874"/><stop offset="0.4062" stop-color="#49c888"/><stop offset="0.4375" stop-color="#35c79b"/><stop offset="0.4688" stop-color="#2dc2a9"/><stop offset="0.5000" stop-color="#24bdb7"/><stop offset="0.5312" stop-color="#1cb8c4"/><stop offset="0.5625" stop-color="#14b3d2"/><stop offset="0.5938" stop-color="#16abdb"/><stop offset="0.6250" stop-color="#1ca1e2"/><stop offset="0.6562" stop-color="#2298ea"/><stop offset="0.6875" stop-color="#288ff1"/><stop offset="0.7188" stop-color="#2e85f7"/><stop offset="0.7500" stop-color="#347af6"/><stop offset="0.7812" stop-color="#3a6ef6"/><stop offset="0.8125" stop-color="#3f63f5"/><stop offset="0.8438" stop-color="#4557f5"/><stop offset="0.8750" stop-color="#464deb"/><stop offset="0.9062" stop-color="#4443da"/><stop offset="0.9375" stop-color="#423aca"/><stop offset="0.9688" stop-color="#4030b9"/><stop offset="1.0000" stop-color="#3e26a8"/></linearGradient>
</defs>
<ellipse cx="239.5" cy="139" rx="138.5" ry="127.7" fill="#dde8f6" stroke="#000" stroke-width="4"/>
<ellipse cx="169.5" cy="139.1" rx="34.6" ry="32.1" fill="#ffc000" stroke="#1a1208" stroke-width="2"/>
<ellipse cx="308.8" cy="139.3" rx="34.5" ry="32.0" fill="#ffc000" stroke="#1a1208" stroke-width="2"/>
<circle cx="239.1" cy="139.2" r="11.7" fill="#4472c4" stroke="#101830" stroke-width="2"/>
<line x1="98.7" y1="139.2" x2="378" y2="139.2" stroke="#000" stroke-width="3" stroke-dasharray="8.9 3.37"/>
<path d="M236.2 226.3 V198 H232.4 L238.2 187.2 L244 198 H240.2 V222.3 H265 V219 L275.5 224.3 L265 229.6 V226.3 Z" fill="#000"/>
<text x="95.0" y="39.6" font-size="13.8" text-anchor="start" fill="#111" stroke="#111" stroke-width="0.28" font-weight="normal" font-style="normal" textLength="16.2" lengthAdjust="spacingAndGlyphs">(<tspan font-weight="bold" font-size="15.5">a</tspan>)</text>
<text x="192.5" y="49.8" font-size="14.5" text-anchor="start" fill="#202a3c" stroke="#202a3c" stroke-width="0.28" font-weight="normal" font-style="normal" textLength="92.5" lengthAdjust="spacingAndGlyphs">Silica cladding</text>
<text x="137.0" y="99.5" font-size="14.5" text-anchor="start" fill="#202a3c" stroke="#202a3c" stroke-width="0.28" font-weight="normal" font-style="normal" textLength="65.0" lengthAdjust="spacingAndGlyphs">Strain rod</text>
<text x="276.0" y="99.5" font-size="14.5" text-anchor="start" fill="#202a3c" stroke="#202a3c" stroke-width="0.28" font-weight="normal" font-style="normal" textLength="64.0" lengthAdjust="spacingAndGlyphs">Strain rod</text>
<text x="223.8" y="170.0" font-size="14.5" text-anchor="start" fill="#202a3c" stroke="#202a3c" stroke-width="0.28" font-weight="normal" font-style="normal" textLength="30.6" lengthAdjust="spacingAndGlyphs">Core</text>
<text x="220.5" y="199.5" font-size="17.0" text-anchor="start" fill="#111" stroke="#111" stroke-width="0.28" font-weight="normal" font-style="italic">y</text>
<text x="198.7" y="216.8" font-size="14.5" text-anchor="start" fill="#202a3c" stroke="#202a3c" stroke-width="0.28" font-weight="normal" font-style="normal" textLength="35.0" lengthAdjust="spacingAndGlyphs">(Fast)</text>
<text x="278.5" y="226.5" font-size="17.0" text-anchor="start" fill="#111" stroke="#111" stroke-width="0.28" font-weight="normal" font-style="italic">x</text>
<text x="263.0" y="243.0" font-size="14.5" text-anchor="start" fill="#202a3c" stroke="#202a3c" stroke-width="0.28" font-weight="normal" font-style="normal" textLength="40.0" lengthAdjust="spacingAndGlyphs">(Slow)</text>
<circle cx="558.0" cy="117.6" r="108.8" fill="none" stroke="#000" stroke-width="1.8"/>
<circle cx="510" cy="117.5" r="30" fill="none" stroke="#000" stroke-width="1.6"/>
<circle cx="606" cy="117.5" r="30" fill="none" stroke="#000" stroke-width="1.6"/>
<circle cx="558" cy="117.3" r="6.6" fill="none" stroke="#000" stroke-width="1.6"/>
<text x="443.5" y="18.1" font-size="11.2" text-anchor="end" fill="#262626" stroke="#262626" stroke-width="0.28" font-weight="normal" font-style="normal">60</text>
<text x="443.5" y="52.8" font-size="11.2" text-anchor="end" fill="#262626" stroke="#262626" stroke-width="0.28" font-weight="normal" font-style="normal">40</text>
<text x="443.5" y="87.5" font-size="11.2" text-anchor="end" fill="#262626" stroke="#262626" stroke-width="0.28" font-weight="normal" font-style="normal">20</text>
<text x="443.5" y="122.2" font-size="11.2" text-anchor="end" fill="#262626" stroke="#262626" stroke-width="0.28" font-weight="normal" font-style="normal">0</text>
<text x="443.5" y="156.9" font-size="11.2" text-anchor="end" fill="#262626" stroke="#262626" stroke-width="0.28" font-weight="normal" font-style="normal">-20</text>
<text x="443.5" y="191.6" font-size="11.2" text-anchor="end" fill="#262626" stroke="#262626" stroke-width="0.28" font-weight="normal" font-style="normal">-40</text>
<text x="443.5" y="226.3" font-size="11.2" text-anchor="end" fill="#262626" stroke="#262626" stroke-width="0.28" font-weight="normal" font-style="normal">-60</text>
<text x="471.2" y="246.8" font-size="11.2" text-anchor="middle" fill="#262626" stroke="#262626" stroke-width="0.28" font-weight="normal" font-style="normal">-50</text>
<text x="558.0" y="246.8" font-size="11.2" text-anchor="middle" fill="#262626" stroke="#262626" stroke-width="0.28" font-weight="normal" font-style="normal">0</text>
<text x="645.2" y="246.8" font-size="11.2" text-anchor="middle" fill="#262626" stroke="#262626" stroke-width="0.28" font-weight="normal" font-style="normal">50</text>
<text x="536.0" y="269.5" font-size="16.5" text-anchor="start" fill="#262626" stroke="#262626" stroke-width="0.28" font-weight="normal" font-style="normal" textLength="44.5" lengthAdjust="spacingAndGlyphs">x <tspan font-size="12.5" dy="-1">[</tspan><tspan font-style="italic" dy="1">&#956;</tspan>m<tspan font-size="12.5" dy="-1">]</tspan></text>
<g transform="translate(416.5 140.2) rotate(-90)"><text x="0.0" y="0.0" font-size="16.5" text-anchor="start" fill="#262626" stroke="#262626" stroke-width="0.28" font-weight="normal" font-style="normal" textLength="45.0" lengthAdjust="spacingAndGlyphs">y <tspan font-size="12.5" dy="-1">[</tspan><tspan font-style="italic" dy="1">&#956;</tspan>m<tspan font-size="12.5" dy="-1">]</tspan></text></g>
<text x="458.4" y="32.4" font-size="14.5" text-anchor="start" fill="#0a1a14" stroke="#0a1a14" stroke-width="0.28" font-weight="bold" font-style="normal" textLength="18.0" lengthAdjust="spacingAndGlyphs">(b)</text>
<rect x="675" y="7.3" width="16" height="218.7" fill="url(#cbB)" stroke="#555" stroke-width="0.6"/>
<text x="696.0" y="13.0" font-size="11.2" text-anchor="start" fill="#262626" stroke="#262626" stroke-width="0.28" font-weight="normal" font-style="normal">1</text>
<text x="696.0" y="67.0" font-size="11.2" text-anchor="start" fill="#262626" stroke="#262626" stroke-width="0.28" font-weight="normal" font-style="normal">0.5</text>
<text x="696.0" y="121.7" font-size="11.2" text-anchor="start" fill="#262626" stroke="#262626" stroke-width="0.28" font-weight="normal" font-style="normal">0</text>
<text x="696.0" y="176.2" font-size="11.2" text-anchor="start" fill="#262626" stroke="#262626" stroke-width="0.28" font-weight="normal" font-style="normal">-0.5</text>
<text x="696.0" y="230.6" font-size="11.2" text-anchor="start" fill="#262626" stroke="#262626" stroke-width="0.28" font-weight="normal" font-style="normal">-1</text>
<rect x="120.0" y="293.1" width="260.7" height="194.7" fill="#fff" stroke="#444" stroke-width="0.8"/>
<path d="M185.2 487.8 v-2.6 M185.2 293.1 v2.6 M250.3 487.8 v-2.6 M250.3 293.1 v2.6 M315.5 487.8 v-2.6 M315.5 293.1 v2.6 M120.0 448.9 h2.6 M380.7 448.9 h-2.6 M120.0 409.9 h2.6 M380.7 409.9 h-2.6 M120.0 371.0 h2.6 M380.7 371.0 h-2.6 M120.0 332.0 h2.6 M380.7 332.0 h-2.6" stroke="#444" stroke-width="0.8" fill="none"/>
<g clip-path="url(#clipC)">
<polyline points="120.0,487.8 120.1,487.8 120.3,487.8 120.4,487.8 120.5,487.8 120.7,487.8 120.8,487.8 120.9,487.8 121.0,487.8 121.2,487.8 121.3,487.8 121.4,487.8 121.6,487.8 121.7,487.8 121.8,487.8 122.0,487.8 122.1,487.8 122.2,487.8 122.3,487.8 122.5,487.7 122.6,487.7 122.7,487.7 122.9,487.7 123.0,487.7 123.1,487.7 123.3,487.7 123.4,487.7 123.5,487.7 123.6,487.7 123.8,487.7 123.9,487.7 124.0,487.7 124.2,487.7 124.3,487.7 124.4,487.7 124.6,487.7 124.7,487.7 124.8,487.7 125.0,487.7 125.1,487.7 125.2,487.7 125.3,487.7 125.5,487.7 125.6,487.7 125.7,487.7 125.9,487.7 126.0,487.7 126.1,487.7 126.3,487.7 126.4,487.7 126.5,487.7 126.6,487.7 126.8,487.7 126.9,487.7 127.0,487.7 127.2,487.7 127.3,487.7 127.4,487.7 127.6,487.7 127.7,487.7 127.8,487.7 128.0,487.7 128.1,487.7 128.2,487.6 128.3,487.6 128.5,487.6 128.6,487.6 128.7,487.6 128.9,487.6 129.0,487.6 129.1,487.6 129.3,487.6 129.4,487.6 129.5,487.5 129.6,487.5 129.8,487.5 129.9,487.5 130.0,487.4 130.2,487.4 130.3,487.4 130.4,487.3 130.6,487.3 130.7,487.2 130.8,487.2 130.9,487.1 131.1,487.0 131.2,486.9 131.3,486.7 131.5,486.5 131.6,486.2 131.7,485.9 131.9,485.5 132.0,484.8 132.1,483.9 132.3,482.4 132.4,480.0 132.5,476.0 132.6,469.0 132.8,458.6 132.9,451.9 133.0,458.6 133.2,469.0 133.3,476.0 133.4,480.0 133.6,482.4 133.7,483.8 133.8,484.8 133.9,485.4 134.1,485.9 134.2,486.2 134.3,486.5 134.5,486.7 134.6,486.8 134.7,487.0 134.9,487.1 135.0,487.1 135.1,487.2 135.3,487.3 135.4,487.3 135.5,487.4 135.6,487.4 135.8,487.4 135.9,487.4 136.0,487.5 136.2,487.5 136.3,487.5 136.4,487.5 136.6,487.5 136.7,487.6 136.8,487.6 136.9,487.6 137.1,487.6 137.2,487.6 137.3,487.6 137.5,487.6 137.6,487.6 137.7,487.6 137.9,487.6 138.0,487.6 138.1,487.6 138.2,487.6 138.4,487.6 138.5,487.6 138.6,487.6 138.8,487.6 138.9,487.6 139.0,487.6 139.2,487.6 139.3,487.6 139.4,487.6 139.6,487.6 139.7,487.6 139.8,487.6 139.9,487.6 140.1,487.6 140.2,487.6 140.3,487.6 140.5,487.6 140.6,487.6 140.7,487.6 140.9,487.6 141.0,487.6 141.1,487.6 141.2,487.6 141.4,487.6 141.5,487.6 141.6,487.6 141.8,487.6 141.9,487.6 142.0,487.5 142.2,487.5 142.3,487.5 142.4,487.5 142.6,487.5 142.7,487.4 142.8,487.4 142.9,487.4 143.1,487.3 143.2,487.3 143.3,487.2 143.5,487.1 143.6,487.0 143.7,486.9 143.9,486.7 144.0,486.5 144.1,486.2 144.2,485.8 144.4,485.2 144.5,484.2 144.6,482.7 144.8,480.0 144.9,475.5 145.0,468.7 145.2,464.4 145.3,468.7 145.4,475.5 145.5,480.0 145.7,482.7 145.8,484.2 145.9,485.2 146.1,485.8 146.2,486.2 146.3,486.5 146.5,486.7 146.6,486.9 146.7,487.0 146.9,487.1 147.0,487.2 147.1,487.3 147.2,487.3 147.4,487.4 147.5,487.4 147.6,487.4 147.8,487.5 147.9,487.5 148.0,487.5 148.2,487.5 148.3,487.5 148.4,487.6 148.5,487.6 148.7,487.6 148.8,487.6 148.9,487.6 149.1,487.6 149.2,487.6 149.3,487.6 149.5,487.6 149.6,487.6 149.7,487.6 149.9,487.6 150.0,487.6 150.1,487.6 150.2,487.6 150.4,487.6 150.5,487.7 150.6,487.7 150.8,487.7 150.9,487.7 151.0,487.7 151.2,487.7 151.3,487.7 151.4,487.7 151.5,487.7 151.7,487.7 151.8,487.7 151.9,487.7 152.1,487.7 152.2,487.7 152.3,487.7 152.5,487.7 152.6,487.7 152.7,487.7 152.8,487.7 153.0,487.7 153.1,487.7 153.2,487.7 153.4,487.7 153.5,487.7 153.6,487.7 153.8,487.7 153.9,487.7 154.0,487.7 154.2,487.7 154.3,487.7 154.4,487.7 154.5,487.6 154.7,487.6 154.8,487.6 154.9,487.6 155.1,487.6 155.2,487.6 155.3,487.6 155.5,487.6 155.6,487.6 155.7,487.6 155.8,487.6 156.0,487.6 156.1,487.6 156.2,487.6 156.4,487.6 156.5,487.6 156.6,487.6 156.8,487.6 156.9,487.6 157.0,487.6 157.1,487.6 157.3,487.6 157.4,487.6 157.5,487.6 157.7,487.6 157.8,487.6 157.9,487.5 158.1,487.5 158.2,487.5 158.3,487.5 158.5,487.5 158.6,487.5 158.7,487.5 158.8,487.5 159.0,487.5 159.1,487.5 159.2,487.4 159.4,487.4 159.5,487.4 159.6,487.4 159.8,487.4 159.9,487.4 160.0,487.3 160.1,487.3 160.3,487.3 160.4,487.3 160.5,487.2 160.7,487.2 160.8,487.2 160.9,487.1 161.1,487.1 161.2,487.0 161.3,487.0 161.5,486.9 161.6,486.8 161.7,486.7 161.8,486.6 162.0,486.5 162.1,486.4 162.2,486.2 162.4,486.0 162.5,485.8 162.6,485.5 162.8,485.2 162.9,484.8 163.0,484.3 163.1,483.6 163.3,482.7 163.4,481.4 163.5,479.6 163.7,477.0 163.8,473.1 163.9,466.6 164.1,455.6 164.2,436.6 164.3,408.3 164.4,390.3 164.6,408.3 164.7,436.6 164.8,455.6 165.0,466.6 165.1,473.0 165.2,477.0 165.4,479.6 165.5,481.3 165.6,482.6 165.8,483.5 165.9,484.2 166.0,484.7 166.1,485.1 166.3,485.4 166.4,485.7 166.5,485.9 166.7,486.1 166.8,486.2 166.9,486.3 167.1,486.4 167.2,486.5 167.3,486.6 167.4,486.6 167.6,486.7 167.7,486.7 167.8,486.7 168.0,486.7 168.1,486.7 168.2,486.7 168.4,486.7 168.5,486.7 168.6,486.6 168.8,486.6 168.9,486.5 169.0,486.3 169.1,486.2 169.3,486.0 169.4,485.7 169.5,485.3 169.7,484.7 169.8,483.9 169.9,482.7 170.1,480.8 170.2,477.7 170.3,472.2 170.4,463.0 170.6,452.5 170.6,450.5 170.7,452.5 170.8,463.0 171.0,472.2 171.1,477.7 171.2,480.9 171.4,482.8 171.5,484.0 171.6,484.8 171.7,485.4 171.9,485.8 172.0,486.1 172.1,486.4 172.3,486.5 172.4,486.7 172.5,486.8 172.7,486.9 172.8,487.0 172.9,487.0 173.1,487.1 173.2,487.1 173.3,487.2 173.4,487.2 173.6,487.2 173.7,487.3 173.8,487.3 174.0,487.3 174.1,487.3 174.2,487.3 174.4,487.3 174.5,487.4 174.6,487.4 174.7,487.4 174.9,487.4 175.0,487.4 175.1,487.4 175.3,487.4 175.4,487.4 175.5,487.4 175.7,487.4 175.8,487.4 175.9,487.4 176.1,487.4 176.2,487.4 176.3,487.4 176.4,487.4 176.6,487.4 176.7,487.3 176.8,487.3 177.0,487.3 177.1,487.3 177.2,487.3 177.4,487.2 177.5,487.2 177.6,487.1 177.7,487.1 177.9,487.0 178.0,486.9 178.1,486.7 178.3,486.5 178.4,486.2 178.5,485.7 178.7,484.9 178.8,483.6 178.9,481.3 179.0,477.9 179.2,475.8 179.2,475.8 179.3,477.9 179.4,481.3 179.6,483.6 179.7,484.9 179.8,485.7 180.0,486.1 180.1,486.4 180.2,486.6 180.4,486.8 180.5,486.9 180.6,486.9 180.7,487.0 180.9,487.0 181.0,487.0 181.1,487.1 181.3,487.1 181.4,487.1 181.5,487.1 181.7,487.1 181.8,487.1 181.9,487.0 182.0,487.0 182.2,487.0 182.3,487.0 182.4,486.9 182.6,486.9 182.7,486.9 182.8,486.8 183.0,486.8 183.1,486.7 183.2,486.6 183.4,486.6 183.5,486.5 183.6,486.4 183.7,486.2 183.9,486.1 184.0,485.9 184.1,485.7 184.3,485.4 184.4,485.1 184.5,484.6 184.7,484.1 184.8,483.3 184.9,482.2 185.0,480.5 185.2,477.9 185.3,473.7 185.4,466.3 185.6,454.1 185.7,440.2 185.8,437.5 185.8,440.0 186.0,453.7 186.1,465.6 186.2,472.7 186.3,476.6 186.5,478.8 186.6,480.1 186.7,480.7 186.9,480.9 187.0,480.8 187.1,480.4 187.3,479.7 187.4,478.5 187.5,476.8 187.7,474.2 187.8,470.4 187.9,464.4 188.0,454.7 188.2,438.0 188.3,409.0 188.4,365.9 188.6,338.5 188.7,365.9 188.8,409.0 189.0,438.0 189.1,454.7 189.2,464.5 189.3,470.5 189.5,474.4 189.6,477.0 189.7,478.8 189.9,480.0 190.0,480.9 190.1,481.4 190.3,481.7 190.4,481.7 190.5,481.4 190.6,480.7 190.8,479.4 190.9,477.1 191.0,472.9 191.2,465.5 191.3,454.3 191.4,447.2 191.4,447.2 191.6,454.5 191.7,466.0 191.8,473.7 192.0,478.1 192.1,480.8 192.2,482.4 192.3,483.5 192.5,484.3 192.6,484.8 192.7,485.2 192.9,485.5 193.0,485.8 193.1,486.0 193.3,486.2 193.4,486.3 193.5,486.4 193.6,486.5 193.8,486.6 193.9,486.6 194.0,486.7 194.2,486.8 194.3,486.8 194.4,486.8 194.6,486.9 194.7,486.9 194.8,486.9 195.0,487.0 195.1,487.0 195.2,487.0 195.3,487.0 195.5,487.0 195.6,487.0 195.7,487.0 195.9,487.1 196.0,487.1 196.1,487.1 196.3,487.1 196.4,487.1 196.5,487.1 196.6,487.1 196.8,487.1 196.9,487.1 197.0,487.1 197.2,487.0 197.3,487.0 197.4,487.0 197.6,487.0 197.7,487.0 197.8,487.0 197.9,486.9 198.1,486.9 198.2,486.9 198.3,486.9 198.5,486.8 198.6,486.8 198.7,486.7 198.9,486.7 199.0,486.6 199.1,486.6 199.3,486.5 199.4,486.4 199.5,486.3 199.6,486.2 199.8,486.1 199.9,486.0 200.0,485.8 200.2,485.6 200.3,485.4 200.4,485.1 200.6,484.8 200.7,484.3 200.8,483.8 200.9,483.1 201.1,482.3 201.2,481.1 201.3,479.6 201.5,477.4 201.6,474.1 201.7,469.2 201.9,461.2 202.0,447.5 202.1,423.8 202.3,388.5 202.4,366.0 202.5,388.5 202.6,423.7 202.8,447.4 202.9,461.1 203.0,469.1 203.2,474.0 203.3,477.2 203.4,479.4 203.6,481.0 203.7,482.1 203.8,482.9 203.9,483.6 204.1,484.0 204.2,484.4 204.3,484.7 204.5,485.0 204.6,485.2 204.7,485.3 204.9,485.5 205.0,485.6 205.1,485.6 205.2,485.7 205.4,485.7 205.5,485.7 205.6,485.7 205.8,485.7 205.9,485.7 206.0,485.6 206.2,485.5 206.3,485.4 206.4,485.3 206.6,485.2 206.7,485.0 206.8,484.7 206.9,484.4 207.1,484.1 207.2,483.7 207.3,483.1 207.5,482.4 207.6,481.5 207.7,480.4 207.9,478.8 208.0,476.6 208.1,473.4 208.2,468.7 208.4,461.2 208.5,448.8 208.6,427.2 208.8,391.3 208.9,350.1 209.0,342.4 209.0,350.1 209.2,391.0 209.3,426.8 209.4,448.2 209.6,460.5 209.7,467.7 209.8,472.1 209.9,474.8 210.1,476.3 210.2,477.0 210.3,476.6 210.5,475.0 210.6,471.4 210.7,464.7 210.9,456.8 210.9,455.4 211.0,457.2 211.1,465.8 211.2,473.3 211.4,477.8 211.5,480.5 211.6,482.2 211.8,483.3 211.9,484.0 212.0,484.6 212.2,485.0 212.3,485.3 212.4,485.5 212.5,485.7 212.7,485.9 212.8,486.0 212.9,486.1 213.1,486.2 213.2,486.2 213.3,486.3 213.5,486.3 213.6,486.4 213.7,486.4 213.9,486.4 214.0,486.4 214.1,486.4 214.2,486.4 214.4,486.4 214.5,486.3 214.6,486.2 214.8,486.2 214.9,486.1 215.0,485.9 215.2,485.8 215.3,485.5 215.4,485.3 215.5,484.9 215.7,484.4 215.8,483.7 215.9,482.7 216.1,481.3 216.2,479.1 216.3,475.5 216.5,469.3 216.6,458.7 216.7,442.8 216.9,432.8 217.0,442.8 217.1,458.7 217.2,469.3 217.4,475.5 217.5,479.1 217.6,481.3 217.8,482.8 217.9,483.7 218.0,484.4 218.2,484.9 218.3,485.3 218.4,485.6 218.5,485.8 218.7,485.9 218.8,486.0 218.9,486.1 219.1,486.1 219.2,486.1 219.3,486.1 219.5,486.0 219.6,485.8 219.7,485.4 219.8,484.8 220.0,483.7 220.1,481.9 220.2,479.0 220.4,477.3 220.5,479.1 220.6,481.9 220.8,483.8 220.9,484.9 221.0,485.6 221.2,486.0 221.3,486.3 221.4,486.4 221.5,486.6 221.7,486.6 221.8,486.7 221.9,486.7 222.1,486.8 222.2,486.8 222.3,486.8 222.5,486.8 222.6,486.8 222.7,486.8 222.8,486.7 223.0,486.7 223.1,486.7 223.2,486.6 223.4,486.5 223.5,486.5 223.6,486.4 223.8,486.2 223.9,486.1 224.0,485.9 224.1,485.6 224.3,485.2 224.4,484.7 224.5,484.0 224.7,483.0 224.8,481.3 224.9,478.6 225.1,473.8 225.2,465.9 225.3,456.9 225.4,455.1 225.5,456.8 225.6,465.8 225.7,473.7 225.8,478.3 226.0,481.0 226.1,482.6 226.2,483.6 226.4,484.2 226.5,484.6 226.6,484.9 226.8,485.0 226.9,485.1 227.0,485.2 227.1,485.1 227.3,485.1 227.4,485.0 227.5,484.8 227.7,484.6 227.8,484.4 227.9,484.1 228.1,483.7 228.2,483.3 228.3,482.7 228.5,482.0 228.6,481.0 228.7,479.9 228.8,478.3 229.0,476.2 229.1,473.2 229.2,469.0 229.4,462.6 229.5,452.6 229.6,435.9 229.8,406.9 229.9,358.5 230.0,303.2 230.1,293.1 230.1,303.2 230.3,358.5 230.4,406.9 230.5,435.9 230.7,452.6 230.8,462.7 230.9,469.0 231.1,473.3 231.2,476.2 231.3,478.3 231.4,479.9 231.6,481.1 231.7,482.0 231.8,482.8 232.0,483.4 232.1,483.9 232.2,484.2 232.4,484.6 232.5,484.8 232.6,485.1 232.8,485.2 232.9,485.4 233.0,485.5 233.1,485.6 233.3,485.7 233.4,485.8 233.5,485.8 233.7,485.8 233.8,485.8 233.9,485.8 234.1,485.7 234.2,485.6 234.3,485.4 234.4,485.2 234.6,484.9 234.7,484.4 234.8,483.7 235.0,482.7 235.1,481.2 235.2,478.6 235.4,474.3 235.5,466.7 235.6,455.4 235.8,448.2 235.8,448.2 235.9,455.4 236.0,466.7 236.1,474.4 236.3,478.8 236.4,481.4 236.5,483.0 236.7,484.0 236.8,484.7 236.9,485.2 237.1,485.6 237.2,485.9 237.3,486.1 237.4,486.3 237.6,486.4 237.7,486.6 237.8,486.6 238.0,486.7 238.1,486.8 238.2,486.8 238.4,486.9 238.5,486.9 238.6,487.0 238.7,487.0 238.9,487.0 239.0,487.1 239.1,487.1 239.3,487.1 239.4,487.1 239.5,487.1 239.7,487.1 239.8,487.1 239.9,487.1 240.1,487.1 240.2,487.1 240.3,487.1 240.4,487.1 240.6,487.1 240.7,487.1 240.8,487.1 241.0,487.0 241.1,487.0 241.2,486.9 241.4,486.9 241.5,486.8 241.6,486.6 241.7,486.4 241.9,486.1 242.0,485.6 242.1,484.7 242.3,483.2 242.4,480.9 242.5,479.4 242.7,480.9 242.8,483.1 242.9,484.6 243.1,485.5 243.2,486.0 243.3,486.3 243.4,486.5 243.6,486.6 243.7,486.7 243.8,486.8 244.0,486.8 244.1,486.8 244.2,486.8 244.4,486.8 244.5,486.8 244.6,486.8 244.7,486.8 244.9,486.8 245.0,486.7 245.1,486.7 245.3,486.6 245.4,486.6 245.5,486.5 245.7,486.4 245.8,486.4 245.9,486.3 246.0,486.2 246.2,486.0 246.3,485.9 246.4,485.7 246.6,485.5 246.7,485.3 246.8,485.0 247.0,484.7 247.1,484.3 247.2,483.8 247.4,483.2 247.5,482.4 247.6,481.3 247.7,480.0 247.9,478.1 248.0,475.5 248.1,471.7 248.3,465.8 248.4,456.4 248.5,440.2 248.7,412.2 248.8,370.5 248.9,344.0 249.0,370.4 249.2,412.0 249.3,439.8 249.4,455.9 249.6,465.2 249.7,470.9 249.8,474.4 250.0,476.7 250.1,478.1 250.2,478.7 250.3,478.7 250.5,477.8 250.6,475.6 250.7,471.1 250.9,464.1 251.0,459.8 251.1,464.7 251.3,472.3 251.4,477.5 251.5,480.5 251.7,482.3 251.8,483.4 251.9,484.2 252.0,484.8 252.2,485.2 252.3,485.5 252.4,485.7 252.6,485.9 252.7,486.0 252.8,486.2 253.0,486.3 253.1,486.3 253.2,486.4 253.3,486.4 253.5,486.5 253.6,486.5 253.7,486.5 253.9,486.5 254.0,486.5 254.1,486.5 254.3,486.4 254.4,486.3 254.5,486.2 254.7,486.0 254.8,485.6 254.9,485.1 255.0,484.3 255.2,482.9 255.3,480.4 255.4,476.8 255.6,474.4 255.7,476.8 255.8,480.5 256.0,482.9 256.1,484.4 256.2,485.2 256.3,485.7 256.5,486.0 256.6,486.3 256.7,486.4 256.9,486.5 257.0,486.6 257.1,486.6 257.3,486.7 257.4,486.7 257.5,486.7 257.6,486.7 257.8,486.7 257.9,486.6 258.0,486.6 258.2,486.6 258.3,486.5 258.4,486.4 258.6,486.3 258.7,486.2 258.8,486.1 259.0,485.9 259.1,485.6 259.2,485.4 259.3,485.0 259.5,484.5 259.6,483.8 259.7,482.8 259.9,481.3 260.0,479.1 260.1,475.5 260.3,469.3 260.4,458.7 260.5,442.8 260.6,432.7 260.8,442.8 260.9,458.6 261.0,469.3 261.2,475.4 261.3,479.0 261.4,481.2 261.6,482.7 261.7,483.6 261.8,484.3 262.0,484.8 262.1,485.2 262.2,485.4 262.3,485.6 262.5,485.8 262.6,485.9 262.7,486.0 262.9,486.1 263.0,486.1 263.1,486.2 263.3,486.2 263.4,486.2 263.5,486.1 263.6,486.1 263.8,486.1 263.9,486.0 264.0,485.9 264.2,485.8 264.3,485.6 264.4,485.4 264.6,485.2 264.7,484.9 264.8,484.5 264.9,484.0 265.1,483.3 265.2,482.3 265.3,480.7 265.5,478.3 265.6,474.1 265.7,467.1 265.9,456.7 266.0,449.9 266.1,456.1 266.3,465.8 266.4,472.2 266.5,475.5 266.6,477.0 266.8,477.3 266.9,476.7 267.0,475.3 267.2,472.8 267.3,468.7 267.4,462.0 267.6,450.5 267.7,430.5 267.8,396.9 267.9,358.5 268.0,351.3 268.1,358.6 268.2,397.2 268.3,430.9 268.5,451.1 268.6,462.8 268.7,469.8 268.9,474.3 269.0,477.3 269.1,479.4 269.3,480.8 269.4,482.0 269.5,482.8 269.6,483.5 269.8,484.0 269.9,484.4 270.0,484.7 270.2,485.0 270.3,485.2 270.4,485.4 270.6,485.6 270.7,485.7 270.8,485.8 270.9,485.9 271.1,485.9 271.2,485.9 271.3,485.9 271.5,485.9 271.6,485.7 271.7,485.5 271.9,485.2 272.0,484.6 272.1,483.5 272.2,481.6 272.4,478.8 272.5,477.0 272.6,478.8 272.8,481.6 272.9,483.5 273.0,484.6 273.2,485.2 273.3,485.5 273.4,485.6 273.6,485.7 273.7,485.5 273.8,485.2 273.9,484.7 274.1,483.6 274.2,481.8 274.3,479.0 274.5,477.2 274.6,479.1 274.7,481.9 274.9,483.8 275.0,485.0 275.1,485.6 275.2,486.0 275.4,486.3 275.5,486.5 275.6,486.6 275.8,486.7 275.9,486.8 276.0,486.8 276.2,486.9 276.3,486.9 276.4,487.0 276.6,487.0 276.7,487.0 276.8,487.0 276.9,487.0 277.1,487.0 277.2,487.1 277.3,487.1 277.5,487.1 277.6,487.1 277.7,487.1 277.9,487.1 278.0,487.1 278.1,487.1 278.2,487.1 278.4,487.1 278.5,487.1 278.6,487.1 278.8,487.0 278.9,487.0 279.0,487.0 279.2,487.0 279.3,487.0 279.4,487.0 279.5,487.0 279.7,487.0 279.8,487.0 279.9,487.0 280.1,486.9 280.2,486.9 280.3,486.9 280.5,486.9 280.6,486.9 280.7,486.9 280.9,486.8 281.0,486.8 281.1,486.8 281.2,486.8 281.4,486.8 281.5,486.7 281.6,486.7 281.8,486.7 281.9,486.6 282.0,486.6 282.2,486.6 282.3,486.5 282.4,486.5 282.5,486.5 282.7,486.4 282.8,486.4 282.9,486.3 283.1,486.3 283.2,486.2 283.3,486.1 283.5,486.1 283.6,486.0 283.7,485.9 283.8,485.9 284.0,485.8 284.1,485.7 284.2,485.6 284.4,485.5 284.5,485.3 284.6,485.2 284.8,485.1 284.9,484.9 285.0,484.8 285.2,484.6 285.3,484.4 285.4,484.1 285.5,483.9 285.7,483.6 285.8,483.3 285.9,482.9 286.1,482.5 286.2,482.1 286.3,481.5 286.5,480.9 286.6,480.2 286.7,479.4 286.8,478.4 287.0,477.3 287.1,475.9 287.2,474.2 287.4,472.1 287.5,469.5 287.6,466.2 287.8,462.0 287.9,456.6 288.0,449.4 288.2,440.1 288.3,428.0 288.4,413.0 288.5,396.4 288.7,382.2 288.8,376.2 288.9,381.2 289.1,394.3 289.2,409.7 289.3,423.3 289.5,433.9 289.6,441.4 289.7,446.3 289.8,448.8 290.0,449.3 290.1,447.8 290.2,444.2 290.4,438.6 290.5,431.9 290.6,426.1 290.8,424.3 290.9,428.0 291.0,435.7 291.1,444.4 291.3,452.4 291.4,458.7 291.5,463.7 291.7,467.4 291.8,470.1 291.9,472.2 292.1,473.8 292.2,474.8 292.3,475.6 292.5,475.9 292.6,476.0 292.7,475.7 292.8,474.9 293.0,473.7 293.1,471.8 293.2,469.3 293.4,466.2 293.5,463.1 293.6,461.1 293.7,460.9 293.8,461.3 293.9,463.7 294.0,467.3 294.1,470.9 294.3,474.0 294.4,476.4 294.5,478.3 294.7,479.7 294.8,480.8 294.9,481.6 295.1,482.3 295.2,482.9 295.3,483.3 295.5,483.7 295.6,484.0 295.7,484.3 295.8,484.5 296.0,484.7 296.1,484.8 296.2,484.9 296.4,485.0 296.5,485.1 296.6,485.2 296.8,485.3 296.9,485.3 297.0,485.3 297.1,485.3 297.3,485.3 297.4,485.3 297.5,485.3 297.7,485.2 297.8,485.1 297.9,485.0 298.1,484.8 298.2,484.6 298.3,484.3 298.4,483.9 298.6,483.4 298.7,482.8 298.8,481.9 299.0,480.8 299.1,479.3 299.2,477.4 299.4,475.1 299.5,472.8 299.6,471.3 299.7,471.1 299.8,471.4 299.9,472.9 300.0,475.2 300.1,477.5 300.3,479.4 300.4,480.9 300.5,482.1 300.7,483.0 300.8,483.7 300.9,484.2 301.1,484.6 301.2,484.9 301.3,485.2 301.4,485.4 301.6,485.5 301.7,485.7 301.8,485.8 302.0,485.9 302.1,486.0 302.2,486.0 302.4,486.1 302.5,486.1 302.6,486.2 302.8,486.2 302.9,486.2 303.0,486.2 303.1,486.2 303.3,486.2 303.4,486.2 303.5,486.2 303.7,486.2 303.8,486.2 303.9,486.2 304.1,486.1 304.2,486.1 304.3,486.1 304.4,486.0 304.6,486.0 304.7,485.9 304.8,485.9 305.0,485.8 305.1,485.7 305.2,485.6 305.4,485.5 305.5,485.4 305.6,485.2 305.7,485.1 305.9,484.9 306.0,484.7 306.1,484.4 306.3,484.1 306.4,483.7 306.5,483.3 306.7,482.8 306.8,482.2 306.9,481.4 307.1,480.5 307.2,479.3 307.3,477.7 307.4,475.7 307.6,473.0 307.7,469.6 307.8,465.4 308.0,460.7 308.1,456.6 308.2,454.8 308.4,455.9 308.5,459.2 308.6,463.0 308.7,466.4 308.9,468.8 309.0,470.2 309.1,470.8 309.3,470.6 309.4,469.6 309.5,467.6 309.7,464.7 309.8,460.4 309.9,454.6 310.1,447.2 310.2,439.0 310.3,432.0 310.4,429.2 310.6,432.3 310.7,439.7 310.8,448.4 311.0,456.2 311.1,462.5 311.2,467.4 311.4,471.1 311.5,473.9 311.6,476.1 311.7,477.8 311.9,479.1 312.0,480.2 312.1,481.0 312.3,481.7 312.4,482.3 312.5,482.8 312.7,483.2 312.8,483.5 312.9,483.8 313.0,484.0 313.2,484.2 313.3,484.4 313.4,484.5 313.6,484.6 313.7,484.7 313.8,484.8 314.0,484.8 314.1,484.8 314.2,484.8 314.4,484.8 314.5,484.8 314.6,484.7 314.7,484.6 314.9,484.4 315.0,484.2 315.1,484.0 315.3,483.6 315.4,483.2 315.5,482.6 315.7,481.9 315.8,481.0 315.9,479.7 316.0,478.0 316.2,475.9 316.3,473.2 316.4,470.2 316.6,467.7 316.7,466.6 316.8,467.6 317.0,470.0 317.1,472.9 317.2,475.5 317.3,477.5 317.5,479.0 317.6,480.1 317.7,480.9 317.9,481.4 318.0,481.7 318.1,481.8 318.3,481.6 318.4,481.3 318.5,480.8 318.7,480.0 318.8,478.8 318.9,477.1 319.0,475.1 319.2,472.8 319.3,470.8 319.4,470.1 319.6,470.9 319.7,472.9 319.8,475.3 320.0,477.4 320.1,479.1 320.2,480.3 320.3,481.3 320.5,482.0 320.6,482.4 320.7,482.8 320.9,483.0 321.0,483.1 321.1,483.1 321.3,483.0 321.4,482.9 321.5,482.6 321.7,482.3 321.8,481.8 321.9,481.2 322.0,480.3 322.2,479.2 322.3,477.8 322.4,475.8 322.6,473.3 322.7,469.9 322.8,465.5 323.0,460.4 323.1,455.3 323.2,451.9 323.3,451.4 323.3,451.9 323.5,455.3 323.6,460.4 323.7,465.6 323.9,469.9 324.0,473.3 324.1,475.9 324.3,477.9 324.4,479.4 324.5,480.5 324.6,481.4 324.8,482.1 324.9,482.6 325.0,483.0 325.2,483.4 325.3,483.6 325.4,483.8 325.6,484.0 325.7,484.1 325.8,484.2 326.0,484.2 326.1,484.2 326.2,484.2 326.3,484.1 326.5,484.0 326.6,483.9 326.7,483.8 326.9,483.6 327.0,483.3 327.1,483.0 327.3,482.7 327.4,482.2 327.5,481.7 327.6,481.0 327.8,480.2 327.9,479.1 328.0,477.8 328.2,476.2 328.3,474.1 328.4,471.3 328.6,467.6 328.7,462.8 328.8,456.6 329.0,448.8 329.1,440.3 329.2,433.0 329.3,430.0 329.3,430.0 329.5,432.9 329.6,440.1 329.7,448.5 329.9,456.2 330.0,462.3 330.1,467.0 330.3,470.5 330.4,473.2 330.5,475.1 330.6,476.6 330.8,477.7 330.9,478.5 331.0,479.0 331.2,479.3 331.3,479.5 331.4,479.4 331.6,479.2 331.7,478.7 331.8,478.0 331.9,477.0 332.1,475.6 332.2,473.7 332.3,471.1 332.5,467.6 332.6,463.0 332.7,457.2 332.9,450.8 333.0,445.4 333.1,443.2 333.3,445.6 333.4,451.1 333.5,457.7 333.6,463.6 333.8,468.4 333.9,472.1 334.0,474.9 334.2,477.0 334.3,478.7 334.4,480.0 334.6,481.0 334.7,481.8 334.8,482.4 334.9,482.9 335.1,483.4 335.2,483.7 335.3,484.0 335.5,484.2 335.6,484.4 335.7,484.6 335.9,484.7 336.0,484.8 336.1,484.9 336.3,484.9 336.4,484.9 336.5,484.9 336.6,484.9 336.8,484.8 336.9,484.6 337.0,484.4 337.2,484.1 337.3,483.7 337.4,483.2 337.6,482.5 337.7,481.5 337.8,480.3 337.9,478.7 338.1,476.9 338.2,475.4 338.3,474.9 338.5,475.5 338.6,477.0 338.7,478.8 338.9,480.4 339.0,481.7 339.1,482.7 339.2,483.4 339.4,484.0 339.5,484.4 339.6,484.7 339.8,485.0 339.9,485.2 340.0,485.3 340.2,485.4 340.3,485.5 340.4,485.5 340.6,485.5 340.7,485.5 340.8,485.5 340.9,485.4 341.1,485.3 341.2,485.2 341.3,485.0 341.5,484.8 341.6,484.5 341.7,484.1 341.9,483.6 342.0,482.9 342.1,482.1 342.2,480.9 342.4,479.4 342.5,477.5 342.6,475.4 342.8,473.7 342.9,472.9 343.0,473.6 343.2,475.3 343.3,477.4 343.4,479.2 343.6,480.7 343.7,481.8 343.8,482.6 343.9,483.2 344.1,483.6 344.2,483.9 344.3,484.1 344.5,484.3 344.6,484.3 344.7,484.3 344.9,484.3 345.0,484.1 345.1,483.9 345.2,483.6 345.4,483.3 345.5,482.8 345.6,482.1 345.8,481.3 345.9,480.1 346.0,478.6 346.2,476.6 346.3,474.0 346.4,470.8 346.5,467.3 346.7,464.2 346.8,463.0 346.9,464.2 347.1,467.2 347.2,470.6 347.3,473.8 347.5,476.3 347.6,478.2 347.7,479.6 347.9,480.7 348.0,481.4 348.1,482.0 348.2,482.4 348.4,482.6 348.5,482.7 348.6,482.7 348.8,482.6 348.9,482.4 349.0,482.1 349.2,481.7 349.3,481.1 349.4,480.3 349.5,479.2 349.7,477.7 349.8,475.8 349.9,473.3 350.1,469.9 350.2,465.5 350.3,460.4 350.5,455.3 350.6,451.9 350.7,451.4 350.7,451.9 350.8,455.3 351.0,460.4 351.1,465.6 351.2,469.9 351.4,473.3 351.5,475.9 351.6,477.8 351.8,479.2 351.9,480.3 352.0,481.2 352.2,481.8 352.3,482.3 352.4,482.6 352.5,482.9 352.7,483.0 352.8,483.1 352.9,483.1 353.1,483.0 353.2,482.8 353.3,482.5 353.5,482.1 353.6,481.5 353.7,480.7 353.8,479.7 354.0,478.4 354.1,476.6 354.2,474.2 354.4,471.0 354.5,467.0 354.6,462.2 354.8,457.4 354.9,454.2 355.0,453.7 355.0,454.2 355.2,457.5 355.3,462.3 355.4,467.2 355.5,471.4 355.7,474.6 355.8,477.1 355.9,479.0 356.1,480.4 356.2,481.6 356.3,482.4 356.5,483.1 356.6,483.7 356.7,484.2 356.8,484.5 357.0,484.8 357.1,485.1 357.2,485.3 357.4,485.5 357.5,485.7 357.6,485.8 357.8,486.0 357.9,486.1 358.0,486.2 358.1,486.3 358.3,486.3 358.4,486.4 358.5,486.5 358.7,486.5 358.8,486.6 358.9,486.6 359.1,486.6 359.2,486.7 359.3,486.7 359.5,486.7 359.6,486.8 359.7,486.8 359.8,486.8 360.0,486.8 360.1,486.8 360.2,486.8 360.4,486.9 360.5,486.9 360.6,486.9 360.8,486.9 360.9,486.9 361.0,486.9 361.1,486.9 361.3,486.9 361.4,486.9 361.5,486.9 361.7,486.9 361.8,486.9 361.9,486.9 362.1,486.8 362.2,486.8 362.3,486.8 362.5,486.8 362.6,486.8 362.7,486.8 362.8,486.7 363.0,486.7 363.1,486.7 363.2,486.7 363.4,486.6 363.5,486.6 363.6,486.5 363.8,486.5 363.9,486.4 364.0,486.4 364.1,486.3 364.3,486.2 364.4,486.1 364.5,486.0 364.7,485.9 364.8,485.8 364.9,485.7 365.1,485.5 365.2,485.4 365.3,485.2 365.4,484.9 365.6,484.6 365.7,484.3 365.8,483.9 366.0,483.5 366.1,482.9 366.2,482.2 366.4,481.4 366.5,480.3 366.6,478.9 366.8,477.1 366.9,474.8 367.0,471.8 367.1,467.9 367.3,463.4 367.4,458.8 367.5,455.6 367.6,455.0 367.7,455.2 367.8,457.5 367.9,461.1 368.1,464.7 368.2,467.3 368.3,468.9 368.4,469.5 368.6,469.1 368.7,467.6 368.8,465.0 369.0,461.1 369.1,455.9 369.2,450.1 369.4,445.0 369.5,443.1 369.6,445.6 369.8,451.2 369.9,457.8 370.0,463.7 370.1,468.5 370.3,472.2 370.4,475.0 370.5,477.2 370.7,478.8 370.8,480.1 370.9,481.1 371.1,481.9 371.2,482.6 371.3,483.1 371.4,483.6 371.6,483.9 371.7,484.2 371.8,484.5 372.0,484.7 372.1,484.9 372.2,485.0 372.4,485.1 372.5,485.2 372.6,485.2 372.7,485.2 372.9,485.2 373.0,485.1 373.1,485.0 373.3,484.9 373.4,484.7 373.5,484.4 373.7,484.0 373.8,483.5 373.9,482.7 374.1,481.8 374.2,480.5 374.3,478.8 374.4,476.9 374.6,474.9 374.7,473.6 374.8,473.4 374.8,473.6 375.0,475.0 375.1,477.0 375.2,479.0 375.4,480.8 375.5,482.1 375.6,483.1 375.7,483.9 375.9,484.5 376.0,485.0 376.1,485.4 376.3,485.7 376.4,485.9 376.5,486.1 376.7,486.3 376.8,486.4 376.9,486.5 377.1,486.6 377.2,486.7 377.3,486.8 377.4,486.9 377.6,486.9 377.7,487.0 377.8,487.0 378.0,487.1 378.1,487.1 378.2,487.1 378.4,487.2 378.5,487.2 378.6,487.2 378.7,487.2 378.9,487.3 379.0,487.3 379.1,487.3 379.3,487.3 379.4,487.3 379.5,487.3 379.7,487.4 379.8,487.4 379.9,487.4 380.0,487.4 380.2,487.4 380.3,487.4 380.4,487.4 380.6,487.4 380.7,487.5" fill="none" stroke="#1010b0" stroke-width="2" stroke-linejoin="round"/>
<polyline points="125.2,487.2 125.3,487.3 125.5,486.7 125.6,486.3 125.7,486.5 125.9,486.7 126.0,486.5 126.1,486.6 126.3,486.9 126.4,487.2 126.5,487.8 126.6,487.6 126.8,487.5 126.9,487.2 127.0,486.6 127.2,486.0 127.3,485.8 127.4,485.5 127.6,485.3 127.7,485.3 127.8,485.5 128.0,485.9 128.1,486.2 128.2,486.9 128.3,487.0 128.5,486.7 128.6,486.8 128.7,486.7 128.9,486.3 129.0,486.0 129.1,485.5 129.3,485.1 129.4,486.1 129.5,486.2 129.6,486.8 129.8,487.3 129.9,487.8 130.0,487.8 130.2,487.8 130.3,487.8 130.4,487.2 130.6,486.6 130.7,486.1 130.8,485.4 130.9,485.1 131.1,484.6 131.2,483.8 131.3,483.9 131.5,483.9 131.6,483.4 131.7,483.0 131.9,482.2 132.0,481.6 132.1,480.9 132.3,480.0 132.4,477.7 132.5,474.7 132.6,468.8 132.8,459.1 132.9,453.1 133.0,458.9 133.2,468.0 133.3,474.5 133.4,478.3 133.6,480.2 133.7,481.3 133.8,482.2 133.9,483.3 134.1,484.2 134.2,484.8 134.3,485.0 134.5,485.6 134.6,485.8 134.7,486.1 134.9,486.6 135.0,486.7 135.1,486.9 135.3,486.9 135.4,486.3 135.5,486.6 135.6,486.8 135.8,486.7 135.9,486.4 136.0,485.4 136.2,485.2 136.3,485.9 136.4,486.6 136.6,487.1 136.7,486.3 136.8,486.5 136.9,486.6 137.1,486.9 137.2,486.7 137.3,486.0 137.5,485.1 137.6,485.8 137.7,486.3 137.9,486.3 138.0,486.2 138.1,485.6 138.2,486.2 138.4,486.5 138.5,485.9 138.6,485.2 138.8,485.7 138.9,485.3 139.0,485.9 139.2,485.8 139.3,486.1 139.4,486.0 139.6,486.7 139.7,486.1 139.8,486.0 139.9,485.1 140.1,485.0 140.2,485.2 140.3,486.0 140.5,485.2 140.6,485.1 140.7,485.2 140.9,485.8 141.0,485.8 141.1,485.1 141.2,484.4 141.4,485.2 141.5,486.1 141.6,485.9 141.8,485.5 141.9,485.5 142.0,486.1 142.2,486.5 142.3,486.0 142.4,486.1 142.6,486.1 142.7,486.4 142.8,485.9 142.9,485.9 143.1,485.3 143.2,485.0 143.3,484.7 143.5,484.5 143.6,484.2 143.7,484.0 143.9,484.1 144.0,484.9 144.1,484.7 144.2,484.4 144.4,484.4 144.5,484.2 144.6,482.7 144.8,480.0 144.9,475.4 145.0,470.4 145.2,466.6 145.3,470.7 145.4,475.6 145.5,480.0 145.7,482.7 145.8,484.8 145.9,485.1 146.1,486.0 146.2,486.3 146.3,487.0 146.5,487.1 146.6,486.7 146.7,486.2 146.9,486.5 147.0,485.9 147.1,486.0 147.2,486.2 147.4,485.9 147.5,486.4 147.6,486.9 147.8,487.1 147.9,487.3 148.0,487.4 148.2,487.7 148.3,487.8 148.4,487.8 148.5,487.6 148.7,487.0 148.8,486.9 148.9,486.1 149.1,485.7 149.2,486.2 149.3,485.9 149.5,486.3 149.6,486.5 149.7,487.0 149.9,487.5 150.0,487.0 150.1,486.8 150.2,486.8 150.4,486.2 150.5,486.6 150.6,486.5 150.8,486.0 150.9,486.3 151.0,485.9 151.2,486.3 151.3,486.9 151.4,487.2 151.5,487.1 151.7,487.1 151.8,487.6 151.9,487.8 152.1,486.9 152.2,486.3 152.3,485.8 152.5,485.2 152.6,485.3 152.7,484.9 152.8,484.3 153.0,485.2 153.1,485.3 153.2,485.8 153.4,485.7 153.5,485.6 153.6,485.6 153.8,485.8 153.9,485.5 154.0,485.6 154.2,485.5 154.3,485.9 154.4,485.6 154.5,485.1 154.7,485.6 154.8,485.8 154.9,485.7 155.1,485.4 155.2,485.9 155.3,486.1 155.5,486.7 155.6,486.1 155.7,485.8 155.8,486.3 156.0,486.2 156.1,485.9 156.2,485.7 156.4,485.4 156.5,485.4 156.6,484.9 156.8,485.2 156.9,484.6 157.0,483.9 157.1,484.4 157.3,484.5 157.4,485.2 157.5,485.4 157.7,485.4 157.8,485.9 157.9,486.7 158.1,487.1 158.2,487.1 158.3,486.6 158.5,486.7 158.6,486.0 158.7,485.5 158.8,485.5 159.0,484.9 159.1,484.9 159.2,484.7 159.4,484.8 159.5,485.1 159.6,485.2 159.8,484.7 159.9,484.8 160.0,484.6 160.1,485.2 160.3,485.3 160.4,485.8 160.5,486.5 160.7,487.0 160.8,487.3 160.9,487.7 161.1,487.2 161.2,486.9 161.3,486.0 161.5,485.5 161.6,484.4 161.7,484.0 161.8,483.3 162.0,483.1 162.1,482.8 162.2,483.1 162.4,482.3 162.5,482.1 162.6,481.9 162.8,481.5 162.9,480.3 163.0,480.1 163.1,478.8 163.3,477.5 163.4,476.2 163.5,472.5 163.7,468.1 163.8,461.6 163.9,450.1 164.1,430.7 164.2,398.7 164.3,349.9 164.4,320.1 164.6,350.7 164.7,399.3 164.8,431.2 165.0,449.8 165.1,461.0 165.2,468.4 165.4,472.7 165.5,476.1 165.6,477.9 165.8,479.9 165.9,481.5 166.0,482.1 166.1,482.8 166.3,483.1 166.4,482.6 166.5,482.9 166.7,483.1 166.8,483.8 166.9,483.5 167.1,483.2 167.2,483.1 167.3,484.1 167.4,484.7 167.6,485.1 167.7,484.9 167.8,486.0 168.0,485.7 168.1,486.3 168.2,485.8 168.4,485.5 168.5,485.1 168.6,485.1 168.8,484.8 168.9,484.6 169.0,484.2 169.1,484.5 169.3,484.0 169.4,484.4 169.5,483.3 169.7,482.7 169.8,482.2 169.9,480.1 170.1,477.6 170.2,474.2 170.3,467.4 170.4,456.7 170.6,444.1 170.6,441.7 170.7,445.0 170.8,457.2 171.0,468.1 171.1,474.7 171.2,478.8 171.4,481.6 171.5,483.0 171.6,483.4 171.7,483.7 171.9,483.9 172.0,483.8 172.1,484.2 172.3,484.1 172.4,483.9 172.5,484.2 172.7,484.2 172.8,484.0 172.9,483.9 173.1,483.8 173.2,484.0 173.3,484.4 173.4,484.0 173.6,484.3 173.7,485.1 173.8,485.6 174.0,486.2 174.1,486.2 174.2,486.8 174.4,486.8 174.5,486.3 174.6,486.5 174.7,487.0 174.9,486.3 175.0,486.2 175.1,485.8 175.3,486.5 175.4,487.4 175.5,486.8 175.7,486.2 175.8,486.0 175.9,485.4 176.1,485.5 176.2,484.9 176.3,484.6 176.4,484.8 176.6,485.0 176.7,484.9 176.8,485.2 177.0,485.5 177.1,485.4 177.2,484.8 177.4,484.3 177.5,484.1 177.6,485.1 177.7,484.9 177.9,483.9 178.0,483.8 178.1,484.2 178.3,484.6 178.4,484.2 178.5,483.7 178.7,483.0 178.8,482.4 178.9,481.2 179.0,478.0 179.2,476.1 179.2,476.9 179.3,478.6 179.4,481.3 179.6,483.6 179.7,483.9 179.8,484.5 180.0,485.2 180.1,485.1 180.2,484.6 180.4,485.1 180.5,484.4 180.6,484.9 180.7,485.2 180.9,485.1 181.0,484.6 181.1,484.6 181.3,484.5 181.4,485.1 181.5,485.1 181.7,485.1 181.8,485.2 181.9,485.5 182.0,486.1 182.2,486.3 182.3,486.3 182.4,485.7 182.6,486.1 182.7,485.9 182.8,486.2 183.0,486.5 183.1,486.3 183.2,485.6 183.4,485.4 183.5,484.9 183.6,484.6 183.7,483.6 183.9,482.8 184.0,482.4 184.1,482.3 184.3,482.8 184.4,481.8 184.5,481.5 184.7,480.9 184.8,479.2 184.9,477.4 185.0,475.1 185.2,470.2 185.3,463.2 185.4,450.6 185.6,431.2 185.7,408.5 185.8,404.7 185.8,408.6 186.0,430.9 186.1,451.4 186.2,463.2 186.3,469.1 186.5,473.7 186.6,475.7 186.7,477.7 186.9,479.2 187.0,479.5 187.1,479.6 187.3,479.0 187.4,477.4 187.5,475.2 187.7,472.1 187.8,467.6 187.9,461.7 188.0,451.7 188.2,436.0 188.3,407.3 188.4,364.3 188.6,337.2 188.7,365.1 188.8,408.0 189.0,437.1 189.1,452.8 189.2,462.0 189.3,468.1 189.5,471.4 189.6,473.5 189.7,475.2 189.9,476.4 190.0,477.5 190.1,478.3 190.3,478.6 190.4,479.2 190.5,479.5 190.6,478.0 190.8,476.8 190.9,474.0 191.0,470.1 191.2,461.7 191.3,449.8 191.4,441.4 191.4,442.5 191.6,450.1 191.7,463.3 191.8,470.9 192.0,476.1 192.1,478.9 192.2,480.8 192.3,480.9 192.5,482.1 192.6,482.3 192.7,482.8 192.9,483.1 193.0,483.6 193.1,483.7 193.3,484.6 193.4,483.9 193.5,484.2 193.6,484.9 193.8,484.7 193.9,485.0 194.0,485.2 194.2,484.8 194.3,484.8 194.4,484.5 194.6,484.3 194.7,485.1 194.8,484.9 195.0,485.8 195.1,485.8 195.2,486.7 195.3,487.4 195.5,487.6 195.6,487.3 195.7,486.8 195.9,486.3 196.0,486.5 196.1,486.5 196.3,486.3 196.4,486.4 196.5,486.0 196.6,486.7 196.8,486.5 196.9,486.3 197.0,485.9 197.2,486.2 197.3,486.1 197.4,486.7 197.6,486.4 197.7,486.7 197.8,486.4 197.9,486.1 198.1,485.1 198.2,484.6 198.3,484.4 198.5,483.6 198.6,483.3 198.7,484.2 198.9,484.2 199.0,484.8 199.1,484.6 199.3,484.1 199.4,484.7 199.5,484.7 199.6,484.0 199.8,483.9 199.9,483.4 200.0,483.9 200.2,484.2 200.3,483.5 200.4,483.2 200.6,482.8 200.7,482.3 200.8,481.9 200.9,481.3 201.1,480.0 201.2,479.1 201.3,477.2 201.5,475.4 201.6,472.5 201.7,466.9 201.9,457.3 202.0,442.8 202.1,416.0 202.3,376.6 202.4,351.1 202.5,375.3 202.6,414.6 202.8,441.5 202.9,456.4 203.0,466.1 203.2,472.0 203.3,475.5 203.4,478.4 203.6,479.4 203.7,480.3 203.8,481.4 203.9,481.6 204.1,482.1 204.2,483.0 204.3,483.1 204.5,483.2 204.6,483.1 204.7,483.1 204.9,483.0 205.0,483.4 205.1,483.4 205.2,483.6 205.4,483.6 205.5,484.5 205.6,484.1 205.8,484.6 205.9,484.6 206.0,484.3 206.2,483.7 206.3,483.9 206.4,483.7 206.6,483.4 206.7,483.4 206.8,482.4 206.9,482.2 207.1,482.7 207.2,482.3 207.3,481.2 207.5,480.9 207.6,479.7 207.7,479.0 207.9,478.0 208.0,474.9 208.1,472.3 208.2,467.9 208.4,460.9 208.5,448.5 208.6,426.5 208.8,390.3 208.9,349.4 209.0,341.7 209.0,349.3 209.2,390.0 209.3,426.2 209.4,448.1 209.6,460.6 209.7,468.9 209.8,473.2 209.9,476.4 210.1,478.5 210.2,480.2 210.3,481.9 210.5,482.5 210.6,482.8 210.7,483.1 210.9,483.8 211.0,483.7 211.1,484.2 211.2,484.3 211.4,485.2 211.5,485.3 211.6,486.1 211.8,485.9 211.9,485.8 212.0,485.3 212.2,484.5 212.3,483.6 212.4,483.9 212.5,483.6 212.7,483.8 212.8,484.5 212.9,484.4 213.1,484.8 213.2,485.8 213.3,486.1 213.5,485.9 213.6,485.4 213.7,485.0 213.9,485.5 214.0,485.3 214.1,484.7 214.2,484.6 214.4,485.2 214.5,485.2 214.6,484.8 214.8,484.3 214.9,484.7 215.0,484.4 215.2,484.2 215.3,483.4 215.4,483.3 215.5,484.0 215.7,483.5 215.8,482.5 215.9,481.3 216.1,479.2 216.2,477.2 216.3,473.0 216.5,466.2 216.6,454.6 216.7,437.6 216.9,427.1 217.0,438.5 217.1,455.1 217.2,466.6 217.4,472.6 217.5,477.2 217.6,479.4 217.8,480.6 217.9,481.2 218.0,482.6 218.2,482.7 218.3,483.3 218.4,483.4 218.5,483.7 218.7,484.0 218.8,484.7 218.9,484.4 219.1,484.8 219.2,484.5 219.3,484.9 219.5,485.1 219.6,485.3 219.7,484.7 219.8,484.4 220.0,484.4 220.1,484.8 220.2,484.1 220.4,484.6 220.5,484.4 220.6,484.6 220.8,485.6 220.9,485.4 221.0,485.3 221.2,485.3 221.3,485.4 221.4,485.6 221.5,485.8 221.7,484.9 221.8,485.6 221.9,486.0 222.1,486.6 222.2,486.6 222.3,487.1 222.5,486.6 222.6,487.1 222.7,486.9 222.8,486.2 223.0,485.4 223.1,484.3 223.2,484.3 223.4,484.8 223.5,484.1 223.6,484.3 223.8,484.4 223.9,484.0 224.0,484.1 224.1,483.6 224.3,483.2 224.4,483.5 224.5,483.0 224.7,482.7 224.8,482.0 224.9,480.4 225.1,476.5 225.2,470.0 225.3,463.3 225.4,461.4 225.5,462.1 225.6,468.6 225.7,474.3 225.8,477.8 226.0,480.3 226.1,481.1 226.2,481.6 226.4,482.7 226.5,482.9 226.6,483.2 226.8,483.5 226.9,483.8 227.0,483.6 227.1,484.0 227.3,483.2 227.4,483.6 227.5,483.0 227.7,482.5 227.8,481.6 227.9,481.6 228.1,481.0 228.2,481.3 228.3,479.9 228.5,479.1 228.6,478.6 228.7,477.8 228.8,475.8 229.0,473.7 229.1,470.9 229.2,467.5 229.4,461.2 229.5,451.1 229.6,434.3 229.8,405.9 229.9,358.1 230.0,302.0 230.1,293.1 230.1,302.0 230.3,357.4 230.4,406.3 230.5,434.7 230.7,450.4 230.8,461.3 230.9,468.0 231.1,472.3 231.2,474.7 231.3,476.4 231.4,478.0 231.6,479.9 231.7,480.3 231.8,480.2 232.0,480.5 232.1,481.7 232.2,482.1 232.4,482.8 232.5,483.0 232.6,483.5 232.8,484.4 232.9,484.4 233.0,484.7 233.1,485.1 233.3,485.5 233.4,484.9 233.5,484.1 233.7,483.8 233.8,484.4 233.9,484.1 234.1,483.2 234.2,482.8 234.3,482.7 234.4,482.6 234.6,481.9 234.7,480.7 234.8,479.9 235.0,479.7 235.1,477.8 235.2,475.1 235.4,470.8 235.5,463.6 235.6,451.8 235.8,443.9 235.8,443.1 235.9,450.7 236.0,462.5 236.1,470.9 236.3,475.1 236.4,477.7 236.5,479.3 236.7,480.5 236.8,481.3 236.9,482.2 237.1,482.4 237.2,483.1 237.3,483.4 237.4,484.0 237.6,484.7 237.7,485.1 237.8,485.7 238.0,486.0 238.1,485.6 238.2,486.3 238.4,486.7 238.5,486.2 238.6,486.5 238.7,485.6 238.9,485.4 239.0,485.3 239.1,484.7 239.3,484.3 239.4,485.2 239.5,484.6 239.7,485.2 239.8,485.3 239.9,485.7 240.1,485.8 240.2,486.2 240.3,485.8 240.4,486.3 240.6,486.6 240.7,486.3 240.8,485.8 241.0,486.4 241.1,486.1 241.2,485.9 241.4,485.3 241.5,485.1 241.6,485.5 241.7,486.3 241.9,485.5 242.0,485.2 242.1,485.0 242.3,485.5 242.4,485.4 242.5,485.4 242.7,484.9 242.8,485.6 242.9,485.7 243.1,485.7 243.2,485.4 243.3,485.6 243.4,485.7 243.6,485.8 243.7,485.2 243.8,485.8 244.0,485.9 244.1,485.5 244.2,484.8 244.4,484.1 244.5,483.6 244.6,484.1 244.7,484.1 244.9,483.8 245.0,484.3 245.1,484.9 245.3,485.2 245.4,485.6 245.5,485.7 245.7,484.8 245.8,485.2 245.9,484.4 246.0,484.1 246.2,484.6 246.3,484.0 246.4,483.7 246.6,483.5 246.7,483.2 246.8,483.2 247.0,483.1 247.1,482.4 247.2,482.1 247.4,480.8 247.5,480.0 247.6,478.5 247.7,477.0 247.9,474.0 248.0,471.3 248.1,467.9 248.3,462.4 248.4,452.6 248.5,435.9 248.7,406.8 248.8,363.2 248.9,334.9 249.0,362.9 249.2,407.4 249.3,437.3 249.4,454.2 249.6,463.4 249.7,469.4 249.8,472.7 250.0,475.5 250.1,477.3 250.2,478.9 250.3,479.9 250.5,480.8 250.6,481.4 250.7,482.6 250.9,483.4 251.0,483.9 251.1,484.6 251.3,485.3 251.4,486.1 251.5,486.0 251.7,485.7 251.8,485.4 251.9,485.2 252.0,485.0 252.2,484.4 252.3,483.6 252.4,483.7 252.6,483.6 252.7,483.8 252.8,483.7 253.0,483.7 253.1,483.7 253.2,484.2 253.3,483.9 253.5,484.2 253.6,484.5 253.7,484.8 253.9,484.5 254.0,484.5 254.1,484.4 254.3,485.0 254.4,484.8 254.5,484.1 254.7,483.1 254.8,482.8 254.9,483.4 255.0,482.2 255.2,481.1 255.3,479.2 255.4,475.4 255.6,473.6 255.7,475.7 255.8,478.6 256.0,481.5 256.1,482.7 256.2,483.0 256.3,484.1 256.5,485.0 256.6,485.8 256.7,486.2 256.9,485.8 257.0,485.9 257.1,486.5 257.3,486.2 257.4,486.0 257.5,485.3 257.6,484.7 257.8,485.0 257.9,484.8 258.0,484.6 258.2,484.8 258.3,484.3 258.4,485.0 258.6,485.4 258.7,485.2 258.8,484.7 259.0,484.3 259.1,484.3 259.2,484.5 259.3,483.6 259.5,483.1 259.6,482.3 259.7,481.2 259.9,479.6 260.0,476.9 260.1,472.5 260.3,466.2 260.4,455.3 260.5,439.7 260.6,430.2 260.8,440.6 260.9,456.5 261.0,467.7 261.2,474.4 261.3,477.6 261.4,479.3 261.6,480.4 261.7,481.5 261.8,482.9 262.0,483.4 262.1,483.9 262.2,484.6 262.3,484.7 262.5,484.6 262.6,484.9 262.7,484.0 262.9,484.0 263.0,483.0 263.1,482.9 263.3,483.0 263.4,483.0 263.5,483.3 263.6,484.1 263.8,484.5 263.9,485.2 264.0,484.5 264.2,484.3 264.3,483.9 264.4,482.6 264.6,482.2 264.7,481.0 264.8,479.9 264.9,479.7 265.1,478.3 265.2,476.4 265.3,473.9 265.5,468.9 265.6,461.1 265.7,448.2 265.9,428.2 266.0,416.0 266.1,427.8 266.3,446.5 266.4,459.0 266.5,465.7 266.6,469.1 266.8,471.4 266.9,471.7 267.0,471.5 267.2,469.2 267.3,465.9 267.4,460.0 267.6,448.9 267.7,429.6 267.8,396.7 267.9,359.0 268.0,352.6 268.1,358.9 268.2,397.3 268.3,430.2 268.5,449.8 268.6,461.5 268.7,468.6 268.9,472.7 269.0,475.7 269.1,477.8 269.3,479.5 269.4,480.1 269.5,481.2 269.6,481.9 269.8,482.1 269.9,483.4 270.0,483.2 270.2,483.2 270.3,483.6 270.4,484.0 270.6,483.5 270.7,484.7 270.8,484.9 270.9,485.1 271.1,485.9 271.2,486.3 271.3,485.6 271.5,486.1 271.6,485.6 271.7,484.6 271.9,485.2 272.0,484.2 272.1,483.9 272.2,484.0 272.4,484.7 272.5,484.4 272.6,485.0 272.8,484.7 272.9,485.1 273.0,485.4 273.2,485.1 273.3,484.2 273.4,484.7 273.6,484.9 273.7,484.9 273.8,484.5 273.9,484.6 274.1,485.2 274.2,486.0 274.3,485.8 274.5,485.0 274.6,485.0 274.7,486.1 274.9,485.8 275.0,485.5 275.1,485.3 275.2,485.7 275.4,486.4 275.5,486.0 275.6,485.5 275.8,486.1 275.9,486.2 276.0,486.3 276.2,485.8 276.3,485.7 276.4,486.4 276.6,486.4 276.7,486.2 276.8,486.3 276.9,486.5 277.1,485.9 277.2,485.5 277.3,484.9 277.5,485.0 277.6,484.3 277.7,483.8 277.9,483.8 278.0,484.6 278.1,485.4 278.2,485.8 278.4,485.2 278.5,485.2 278.6,485.6 278.8,485.3 278.9,484.7 279.0,483.9 279.2,483.6 279.3,483.9 279.4,484.5 279.5,484.6 279.7,484.6 279.8,485.2 279.9,485.1 280.1,485.1 280.2,484.8 280.3,484.7 280.5,484.3 280.6,484.5 280.7,483.7 280.9,483.6 281.0,484.0 281.1,484.2 281.2,484.6 281.4,484.6 281.5,484.2 281.6,485.0 281.8,485.0 281.9,484.1 282.0,484.2 282.2,483.3 282.3,484.0 282.4,483.7 282.5,483.3 282.7,484.2 282.8,484.8 282.9,484.4 283.1,485.0 283.2,484.0 283.3,484.1 283.5,483.7 283.6,482.4 283.7,481.5 283.8,481.1 284.0,480.1 284.1,479.8 284.2,479.3 284.4,478.8 284.5,478.5 284.6,479.0 284.8,478.2 284.9,478.2 285.0,478.2 285.2,477.5 285.3,476.7 285.4,476.1 285.5,474.1 285.7,473.8 285.8,472.3 285.9,470.4 286.1,468.1 286.2,465.4 286.3,461.6 286.5,457.5 286.6,451.5 286.7,443.0 286.8,432.5 287.0,419.2 287.1,401.9 287.2,380.2 287.4,356.2 287.5,335.9 287.6,328.0 287.8,335.4 287.9,355.4 288.0,378.8 288.2,400.8 288.3,418.3 288.4,431.2 288.5,440.8 288.7,447.9 288.8,452.4 288.9,455.3 289.1,457.5 289.2,458.5 289.3,459.4 289.5,459.1 289.6,459.0 289.7,457.7 289.8,455.6 290.0,451.3 290.1,445.7 290.2,437.1 290.4,427.4 290.5,416.2 290.6,406.6 290.8,402.3 290.9,406.8 291.0,416.5 291.1,428.6 291.3,439.3 291.4,447.8 291.5,454.0 291.7,459.5 291.8,462.9 291.9,466.1 292.1,467.5 292.2,469.3 292.3,469.5 292.5,470.6 292.6,470.1 292.7,470.0 292.8,468.7 293.0,467.7 293.1,464.9 293.2,462.3 293.4,458.2 293.5,453.7 293.6,450.6 293.7,450.8 293.8,450.8 293.9,453.8 294.0,458.1 294.1,462.9 294.3,467.9 294.4,471.5 294.5,474.1 294.7,476.4 294.8,477.8 294.9,479.3 295.1,480.1 295.2,480.9 295.3,481.2 295.5,481.4 295.6,482.1 295.7,482.4 295.8,482.1 296.0,482.1 296.1,482.2 296.2,481.7 296.4,482.3 296.5,482.4 296.6,482.4 296.8,482.6 296.9,482.9 297.0,483.2 297.1,483.5 297.3,483.3 297.4,482.5 297.5,483.2 297.7,483.4 297.8,483.5 297.9,482.4 298.1,481.7 298.2,481.1 298.3,480.9 298.4,479.5 298.6,478.3 298.7,477.5 298.8,476.9 299.0,475.5 299.1,473.7 299.2,471.2 299.4,467.8 299.5,465.1 299.6,462.4 299.7,462.2 299.8,463.2 299.9,464.7 300.0,467.6 300.1,471.9 300.3,474.2 300.4,476.0 300.5,477.6 300.7,478.0 300.8,479.9 300.9,481.2 301.1,480.9 301.2,481.9 301.3,482.8 301.4,483.1 301.6,484.1 301.7,484.2 301.8,484.2 302.0,484.7 302.1,485.3 302.2,485.1 302.4,485.4 302.5,485.5 302.6,484.8 302.8,484.9 302.9,485.4 303.0,485.1 303.1,485.7 303.3,485.7 303.4,484.8 303.5,485.6 303.7,485.2 303.8,484.9 303.9,485.0 304.1,484.2 304.2,483.7 304.3,484.7 304.4,484.3 304.6,484.4 304.7,484.4 304.8,484.2 305.0,484.7 305.1,484.8 305.2,484.2 305.4,483.4 305.5,482.9 305.6,482.6 305.7,481.7 305.9,481.6 306.0,480.9 306.1,480.2 306.3,480.6 306.4,480.4 306.5,479.8 306.7,479.9 306.8,478.1 306.9,477.2 307.1,476.0 307.2,474.3 307.3,471.8 307.4,468.6 307.6,463.4 307.7,458.7 307.8,451.2 308.0,443.9 308.1,436.4 308.2,433.4 308.4,435.9 308.5,442.9 308.6,450.0 308.7,457.1 308.9,462.4 309.0,467.5 309.1,470.7 309.3,472.9 309.4,474.8 309.5,476.3 309.7,477.0 309.8,477.7 309.9,478.1 310.1,478.2 310.2,478.8 310.3,478.5 310.4,477.8 310.6,477.7 310.7,477.0 310.8,475.6 311.0,474.4 311.1,472.3 311.2,468.7 311.4,465.0 311.5,460.4 311.6,454.9 311.7,450.3 311.9,448.0 311.9,447.6 312.0,449.8 312.1,454.0 312.3,459.7 312.4,464.3 312.5,467.7 312.7,471.6 312.8,473.4 312.9,475.5 313.0,477.2 313.2,477.3 313.3,478.6 313.4,479.1 313.6,479.6 313.7,480.4 313.8,481.2 314.0,481.6 314.1,482.6 314.2,482.0 314.4,482.0 314.5,482.1 314.6,482.6 314.7,481.8 314.9,481.0 315.0,479.9 315.1,479.5 315.3,479.3 315.4,478.2 315.5,477.5 315.7,476.1 315.8,475.2 315.9,473.9 316.0,472.5 316.2,469.9 316.3,466.3 316.4,461.0 316.6,457.6 316.7,455.9 316.8,457.5 317.0,460.2 317.1,464.4 317.2,468.2 317.3,471.6 317.5,474.4 317.6,475.8 317.7,477.1 317.9,478.2 318.0,477.8 318.1,477.9 318.3,477.8 318.4,476.9 318.5,476.7 318.7,475.7 318.8,474.2 318.9,472.4 319.0,469.8 319.2,466.8 319.3,464.9 319.4,463.9 319.6,464.2 319.7,467.2 319.8,470.0 320.0,473.1 320.1,475.1 320.2,476.5 320.3,477.3 320.5,479.0 320.6,479.4 320.7,480.8 320.9,481.1 321.0,481.7 321.1,482.1 321.3,482.4 321.4,481.5 321.5,480.6 321.7,479.7 321.8,479.1 321.9,478.6 322.0,476.5 322.2,474.9 322.3,473.3 322.4,470.8 322.6,467.3 322.7,462.2 322.8,456.1 323.0,450.2 323.1,443.7 323.2,439.0 323.3,438.1 323.3,439.0 323.5,443.8 323.6,449.7 323.7,456.3 323.9,461.3 324.0,466.2 324.1,469.8 324.3,472.1 324.4,474.0 324.5,476.2 324.6,477.0 324.8,477.9 324.9,478.0 325.0,478.3 325.2,478.1 325.3,477.8 325.4,476.7 325.6,475.6 325.7,474.8 325.8,473.8 326.0,472.7 326.1,471.5 326.2,469.0 326.3,466.2 326.5,463.0 326.6,457.9 326.7,450.9 326.9,441.3 327.0,428.8 327.1,414.7 327.3,401.2 327.4,391.9 327.5,390.5 327.5,391.7 327.6,401.0 327.8,415.3 327.9,428.7 328.0,439.9 328.2,448.5 328.3,455.8 328.4,461.0 328.6,465.0 328.7,468.2 328.8,471.6 329.0,473.2 329.1,475.8 329.2,476.3 329.3,477.6 329.5,478.0 329.6,479.0 329.7,479.6 329.9,480.6 330.0,480.2 330.1,480.7 330.3,481.0 330.4,481.4 330.5,481.1 330.6,481.0 330.8,481.3 330.9,481.6 331.0,481.2 331.2,480.9 331.3,480.7 331.4,480.6 331.6,479.1 331.7,477.5 331.8,476.6 331.9,476.1 332.1,473.8 332.2,471.9 332.3,469.0 332.5,465.6 332.6,461.4 332.7,455.2 332.9,447.8 333.0,441.9 333.1,439.6 333.3,441.2 333.4,447.1 333.5,453.3 333.6,459.3 333.8,464.8 333.9,469.2 334.0,472.1 334.2,475.0 334.3,477.3 334.4,478.7 334.6,479.6 334.7,480.6 334.8,480.9 334.9,481.5 335.1,482.2 335.2,482.2 335.3,482.7 335.5,482.9 335.6,482.5 335.7,483.2 335.9,482.6 336.0,482.1 336.1,482.4 336.3,482.2 336.4,482.7 336.5,483.0 336.6,482.6 336.8,482.3 336.9,482.4 337.0,482.1 337.2,482.0 337.3,480.6 337.4,479.9 337.6,479.1 337.7,478.1 337.8,476.1 337.9,473.3 338.1,471.5 338.2,469.4 338.3,468.9 338.5,469.9 338.6,471.8 338.7,474.2 338.9,476.3 339.0,477.5 339.1,478.9 339.2,479.7 339.4,480.3 339.5,481.3 339.6,482.0 339.8,482.8 339.9,483.1 340.0,483.1 340.2,482.9 340.3,483.4 340.4,483.6 340.6,483.6 340.7,483.8 340.8,484.0 340.9,484.7 341.1,484.3 341.2,483.8 341.3,483.0 341.5,482.7 341.6,481.6 341.7,481.5 341.9,480.6 342.0,480.6 342.1,479.8 342.2,478.6 342.4,476.5 342.5,475.1 342.6,472.8 342.8,470.5 342.9,469.0 343.0,470.0 343.2,472.5 343.3,474.8 343.4,477.2 343.6,478.9 343.7,480.4 343.8,481.0 343.9,481.3 344.1,482.2 344.2,482.5 344.3,481.9 344.5,481.2 344.6,481.0 344.7,481.1 344.9,480.5 345.0,480.2 345.1,479.6 345.2,478.9 345.4,478.6 345.5,478.4 345.6,477.2 345.8,475.7 345.9,473.3 346.0,471.6 346.2,469.0 346.3,464.8 346.4,459.1 346.5,453.2 346.7,448.5 346.8,446.6 346.9,448.0 347.1,452.7 347.2,458.2 347.3,464.0 347.5,468.9 347.6,471.7 347.7,474.0 347.9,476.1 348.0,477.9 348.1,479.5 348.2,480.4 348.4,480.5 348.5,481.2 348.6,481.4 348.8,481.3 348.9,480.9 349.0,480.9 349.2,480.4 349.3,480.9 349.4,481.1 349.5,480.9 349.7,479.9 349.8,478.5 349.9,477.1 350.1,474.9 350.2,472.8 350.3,469.8 350.5,467.4 350.6,466.3 350.7,467.1 350.7,467.2 350.8,469.9 351.0,472.0 351.1,474.0 351.2,476.0 351.4,478.1 351.5,479.3 351.6,480.4 351.8,480.2 351.9,481.0 352.0,482.2 352.2,482.4 352.3,482.4 352.4,482.0 352.5,481.6 352.7,482.0 352.8,481.5 352.9,480.9 353.1,481.1 353.2,480.4 353.3,479.9 353.5,479.5 353.6,478.4 353.7,477.4 353.8,476.3 354.0,473.7 354.1,470.8 354.2,467.3 354.4,462.5 354.5,457.1 354.6,451.0 354.8,444.3 354.9,439.7 355.0,439.5 355.0,440.2 355.2,444.6 355.3,451.0 355.4,457.2 355.5,462.5 355.7,467.4 355.8,471.1 355.9,473.4 356.1,475.4 356.2,477.9 356.3,479.0 356.5,479.4 356.6,479.7 356.7,479.9 356.8,480.7 357.0,480.7 357.1,480.2 357.2,481.0 357.4,481.4 357.5,481.6 357.6,482.0 357.8,482.5 357.9,483.2 358.0,484.0 358.1,483.6 358.3,484.4 358.4,484.7 358.5,484.9 358.7,485.1 358.8,484.8 358.9,484.0 359.1,484.6 359.2,483.8 359.3,484.5 359.5,484.5 359.6,484.4 359.7,484.7 359.8,485.4 360.0,485.5 360.1,485.9 360.2,485.6 360.4,485.2 360.5,485.1 360.6,485.3 360.8,485.1 360.9,484.5 361.0,484.4 361.1,484.6 361.3,484.8 361.4,485.4 361.5,484.9 361.7,484.3 361.8,484.4 361.9,484.2 362.1,484.4 362.2,484.5 362.3,484.4 362.5,485.3 362.6,485.9 362.7,486.1 362.8,486.2 363.0,485.4 363.1,485.5 363.2,484.6 363.4,483.7 363.5,483.3 363.6,483.0 363.8,482.8 363.9,483.1 364.0,483.2 364.1,483.9 364.3,484.1 364.4,483.9 364.5,484.3 364.7,484.8 364.8,484.4 364.9,483.6 365.1,482.7 365.2,482.4 365.3,482.1 365.4,481.7 365.6,481.3 365.7,481.0 365.8,480.6 366.0,480.7 366.1,480.3 366.2,480.0 366.4,478.6 366.5,477.4 366.6,475.6 366.8,472.6 366.9,468.5 367.0,463.8 367.1,457.4 367.3,450.8 367.4,443.4 367.5,439.4 367.6,439.1 367.7,440.2 367.8,444.8 367.9,450.9 368.1,457.0 368.2,463.1 368.3,466.7 368.4,469.6 368.6,471.5 368.7,473.0 368.8,474.9 369.0,475.5 369.1,475.0 369.2,474.9 369.4,474.7 369.5,473.9 369.6,471.4 369.8,467.8 369.9,463.8 370.0,460.0 370.1,456.2 370.3,454.2 370.4,455.1 370.5,458.7 370.7,463.7 370.8,468.1 370.9,470.8 371.1,473.1 371.2,475.5 371.3,477.6 371.4,479.4 371.6,480.4 371.7,481.5 371.8,482.0 372.0,482.7 372.1,482.4 372.2,482.3 372.4,482.8 372.5,482.8 372.6,482.9 372.7,483.6 372.9,483.4 373.0,483.8 373.1,483.6 373.3,483.2 373.4,483.4 373.5,483.1 373.7,482.8 373.8,481.9 373.9,480.5 374.1,479.4 374.2,477.1 374.3,474.7 374.4,471.5 374.6,468.9 374.7,467.7 374.8,468.2 374.8,468.6 375.0,470.6 375.1,473.2 375.2,475.9 375.4,477.2 375.5,478.6 375.6,480.1 375.7,481.4 375.9,482.2 376.0,482.1 376.1,482.6 376.3,483.1 376.4,483.6 376.5,483.6 376.7,483.4 376.8,483.4 376.9,483.7 377.1,483.7 377.2,484.5 377.3,485.0 377.4,485.5 377.6,485.7 377.7,486.1 377.8,486.1 378.0,486.0 378.1,485.4 378.2,485.1 378.4,484.5 378.5,484.6 378.6,484.3 378.7,484.9 378.9,485.2 379.0,485.5 379.1,485.7 379.3,485.6 379.4,485.6 379.5,485.9 379.7,486.1 379.8,486.4 379.9,486.5 380.0,486.1 380.2,486.7 380.3,486.1 380.4,486.7 380.6,486.8 380.7,487.3" fill="none" stroke="#cc1626" stroke-width="1.9" stroke-dasharray="5.5 4.5" stroke-linejoin="round" opacity="0.9"/>
</g>
<text x="116.2" y="297.9" font-size="9.3" text-anchor="end" fill="#262626" stroke="#262626" stroke-width="0.28" font-weight="normal" font-style="normal">1</text>
<text x="116.2" y="336.9" font-size="9.3" text-anchor="end" fill="#262626" stroke="#262626" stroke-width="0.28" font-weight="normal" font-style="normal">0.8</text>
<text x="116.2" y="375.8" font-size="9.3" text-anchor="end" fill="#262626" stroke="#262626" stroke-width="0.28" font-weight="normal" font-style="normal">0.6</text>
<text x="116.2" y="414.7" font-size="9.3" text-anchor="end" fill="#262626" stroke="#262626" stroke-width="0.28" font-weight="normal" font-style="normal">0.4</text>
<text x="116.2" y="453.7" font-size="9.3" text-anchor="end" fill="#262626" stroke="#262626" stroke-width="0.28" font-weight="normal" font-style="normal">0.2</text>
<text x="116.2" y="492.6" font-size="9.3" text-anchor="end" fill="#262626" stroke="#262626" stroke-width="0.28" font-weight="normal" font-style="normal">0</text>
<text x="120.0" y="504.5" font-size="9.3" text-anchor="middle" fill="#262626" stroke="#262626" stroke-width="0.28" font-weight="normal" font-style="normal">0</text>
<text x="185.2" y="504.5" font-size="9.3" text-anchor="middle" fill="#262626" stroke="#262626" stroke-width="0.28" font-weight="normal" font-style="normal">100</text>
<text x="250.3" y="504.5" font-size="9.3" text-anchor="middle" fill="#262626" stroke="#262626" stroke-width="0.28" font-weight="normal" font-style="normal">200</text>
<text x="315.5" y="504.5" font-size="9.3" text-anchor="middle" fill="#262626" stroke="#262626" stroke-width="0.28" font-weight="normal" font-style="normal">300</text>
<text x="380.7" y="504.5" font-size="9.3" text-anchor="middle" fill="#262626" stroke="#262626" stroke-width="0.28" font-weight="normal" font-style="normal">400</text>
<text x="198.3" y="522.5" font-size="13.6" text-anchor="start" fill="#262626" stroke="#262626" stroke-width="0.28" font-weight="normal" font-style="normal" textLength="104.0" lengthAdjust="spacingAndGlyphs">Frequency <tspan font-size="10.8" dy="-0.6">[</tspan><tspan dy="0.6">MHz</tspan><tspan font-size="10.8" dy="-0.6">]</tspan></text>
<g transform="translate(93.8 390.8) rotate(-90)"><text x="0.0" y="0.0" font-size="13.3" text-anchor="middle" fill="#262626" stroke="#262626" stroke-width="0.28" font-weight="normal" font-style="normal" textLength="167.5" lengthAdjust="spacingAndGlyphs">Normalized SBS coefficient</text></g>
<text x="130.2" y="322.6" font-size="14.0" text-anchor="start" fill="#000" stroke="#000" stroke-width="0.28" font-weight="normal" font-style="normal" textLength="15.8" lengthAdjust="spacingAndGlyphs">(<tspan font-weight="bold">c</tspan>)</text>
<line x1="287" y1="308.2" x2="311" y2="308.2" stroke="#1414b4" stroke-width="1.8"/>
<line x1="287" y1="323.4" x2="311" y2="323.4" stroke="#d4202c" stroke-width="1.8" stroke-dasharray="9.5 4.5"/>
<text x="313.2" y="312.7" font-size="12.2" text-anchor="start" fill="#262626" stroke="#262626" stroke-width="0.28" font-weight="normal" font-style="normal" textLength="53.6" lengthAdjust="spacingAndGlyphs">Simulation</text>
<text x="313.2" y="327.5" font-size="12.2" text-anchor="start" fill="#262626" stroke="#262626" stroke-width="0.28" font-weight="normal" font-style="normal" textLength="58.0" lengthAdjust="spacingAndGlyphs">Experiment</text>
<text x="449.8" y="311.3" font-size="12.0" text-anchor="end" fill="#262626" stroke="#262626" stroke-width="0.28" font-weight="normal" font-style="normal">168</text>
<text x="449.8" y="355.8" font-size="12.0" text-anchor="end" fill="#262626" stroke="#262626" stroke-width="0.28" font-weight="normal" font-style="normal">168.5</text>
<text x="449.8" y="400.3" font-size="12.0" text-anchor="end" fill="#262626" stroke="#262626" stroke-width="0.28" font-weight="normal" font-style="normal">169</text>
<text x="449.8" y="444.8" font-size="12.0" text-anchor="end" fill="#262626" stroke="#262626" stroke-width="0.28" font-weight="normal" font-style="normal">169.5</text>
<text x="449.8" y="489.3" font-size="12.0" text-anchor="end" fill="#262626" stroke="#262626" stroke-width="0.28" font-weight="normal" font-style="normal">170</text>
<text x="455.4" y="506.3" font-size="12.0" text-anchor="middle" fill="#262626" stroke="#262626" stroke-width="0.28" font-weight="normal" font-style="normal">1559.8</text>
<text x="503.0" y="506.3" font-size="12.0" text-anchor="middle" fill="#262626" stroke="#262626" stroke-width="0.28" font-weight="normal" font-style="normal">1560</text>
<text x="550.6" y="506.3" font-size="12.0" text-anchor="middle" fill="#262626" stroke="#262626" stroke-width="0.28" font-weight="normal" font-style="normal">1560.2</text>
<text x="598.2" y="506.3" font-size="12.0" text-anchor="middle" fill="#262626" stroke="#262626" stroke-width="0.28" font-weight="normal" font-style="normal">1560.4</text>
<text x="645.8" y="506.3" font-size="12.0" text-anchor="middle" fill="#262626" stroke="#262626" stroke-width="0.28" font-weight="normal" font-style="normal">1560.6</text>
<text x="500.0" y="523.0" font-size="13.8" text-anchor="start" fill="#262626" stroke="#262626" stroke-width="0.28" font-weight="normal" font-style="normal" textLength="102.0" lengthAdjust="spacingAndGlyphs">Wavelength [nm]</text>
<g transform="translate(413.5 394) rotate(-90)"><text x="0.0" y="0.0" font-size="13.7" text-anchor="middle" fill="#262626" stroke="#262626" stroke-width="0.28" font-weight="normal" font-style="normal" textLength="155.0" lengthAdjust="spacingAndGlyphs">Acoustic frequency [MHz]</text></g>
<text x="465.6" y="330.2" font-size="15.0" text-anchor="start" fill="#0c0c40" stroke="#0c0c40" stroke-width="0.28" font-weight="bold" font-style="normal" textLength="18.6" lengthAdjust="spacingAndGlyphs">(d)</text>
<rect x="671.3" y="301.3" width="11.8" height="186.7" fill="url(#cbD)" stroke="#555" stroke-width="0.5"/>
<text x="687.6" y="306.7" font-size="11.3" text-anchor="start" fill="#262626" stroke="#262626" stroke-width="0.28" font-weight="normal" font-style="normal">1</text>
<text x="687.6" y="343.9" font-size="11.3" text-anchor="start" fill="#262626" stroke="#262626" stroke-width="0.28" font-weight="normal" font-style="normal">0.8</text>
<text x="687.6" y="381.2" font-size="11.3" text-anchor="start" fill="#262626" stroke="#262626" stroke-width="0.28" font-weight="normal" font-style="normal">0.6</text>
<text x="687.6" y="418.6" font-size="11.3" text-anchor="start" fill="#262626" stroke="#262626" stroke-width="0.28" font-weight="normal" font-style="normal">0.4</text>
<text x="687.6" y="455.9" font-size="11.3" text-anchor="start" fill="#262626" stroke="#262626" stroke-width="0.28" font-weight="normal" font-style="normal">0.2</text>
<text x="701.2" y="524.6" font-size="9.6" text-anchor="start" fill="#f3c4c4" stroke="#f3c4c4" stroke-width="0.28" font-weight="normal" font-style="normal" textLength="84.8" lengthAdjust="spacingAndGlyphs">SCIENCEAQ.COM</text>
<rect x="718.3" y="267" width="1" height="2" fill="#bbb"/><rect x="396.5" y="519.5" width="1.2" height="1.2" fill="#bbb"/>
</svg>
</body></html>
